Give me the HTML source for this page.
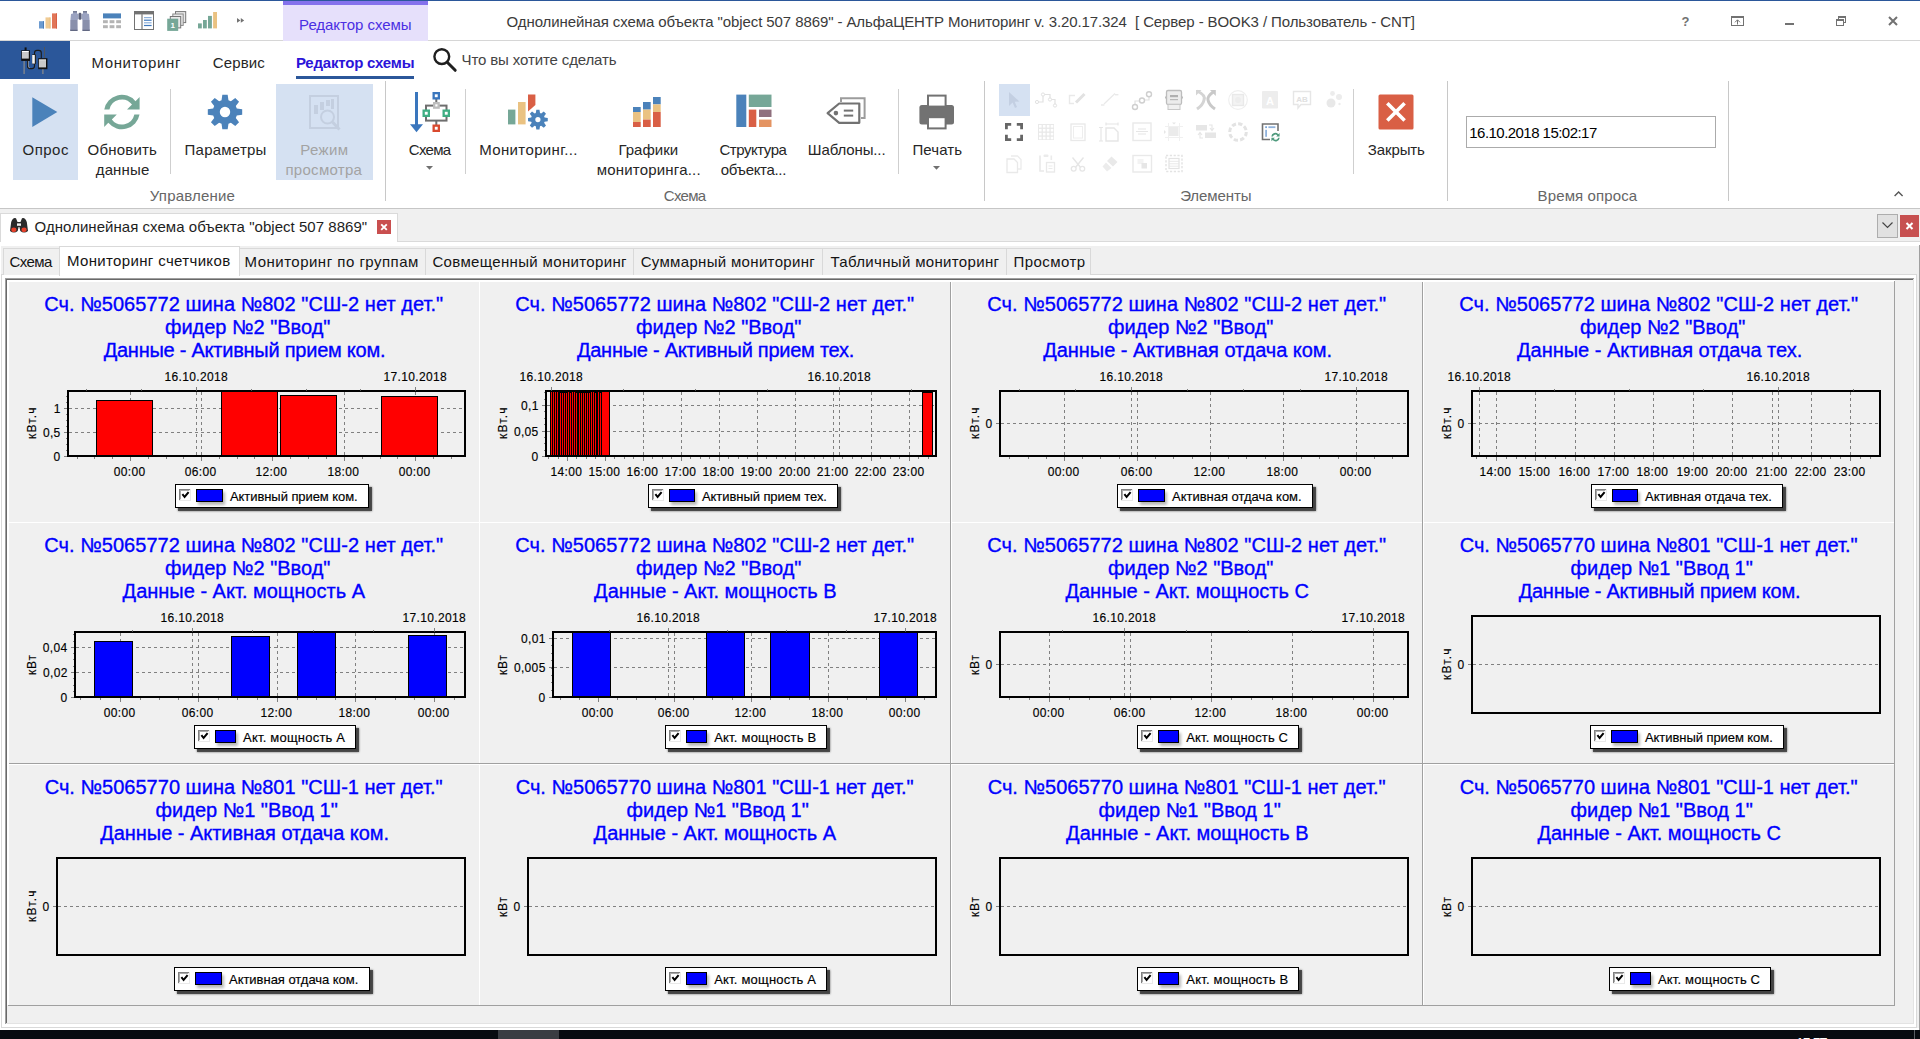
<!DOCTYPE html>
<html lang="ru"><head><meta charset="utf-8"><title>АльфаЦЕНТР Мониторинг</title><style>
html,body{margin:0;padding:0}
body{width:1920px;height:1039px;overflow:hidden;position:relative;background:#fff;font-family:"Liberation Sans",sans-serif}
.r{position:absolute;display:block;box-sizing:content-box}
.t{position:absolute;white-space:nowrap;display:block;margin:0;padding:0}
.chart{overflow:hidden}
.h{-webkit-text-stroke:0.35px #00f}
.a{-webkit-text-stroke:0.15px #000}
</style></head>
<body>
<div class="r" id="titlebar" style="left:0;top:0;width:1920px;height:41px;background:#fff">
</div>
<div class="r" style="left:0px;top:0px;width:1920px;height:1px;background:#2b579a;"></div>
<div class="r" style="left:0px;top:40px;width:1920px;height:1px;background:#d6d6d6;"></div>
<div class="r" style="left:283px;top:1px;width:145px;height:40px;background:#e6e0fb;"></div>
<div class="r" style="left:283px;top:1px;width:145px;height:4px;background:#8471ec;"></div>
<span class="t" style="left:299.10px;top:14px;font-size:15px;line-height:21px;color:#4b2fe3;letter-spacing:-0.044px;">Редактор схемы</span>
<span class="t" style="left:506.62px;top:11px;font-size:15px;line-height:21px;color:#3b3b3b;letter-spacing:-0.095px;white-space:pre;">Однолинейная схема объекта "object 507 8869" - АльфаЦЕНТР Мониторинг v. 3.20.17.324  [ Сервер - BOOK3 / Пользователь - CNT]</span>
<div class="r" style="left:0px;top:41px;width:70px;height:38px;background:#2b579a;"></div>
<span class="t" style="left:91.40px;top:52px;font-size:15px;line-height:21px;color:#262626;letter-spacing:0.644px;">Мониторинг</span>
<span class="t" style="left:212.85px;top:52px;font-size:15px;line-height:21px;color:#262626;letter-spacing:0.090px;">Сервис</span>
<span class="t" style="left:295.92px;top:52px;font-size:15px;line-height:21px;color:#2b14d9;letter-spacing:-0.198px;font-weight:700;">Редактор схемы</span>
<div class="r" style="left:296px;top:76px;width:118px;height:3px;background:#2b579a;"></div>
<span class="t" style="left:461.57px;top:49px;font-size:15px;line-height:21px;color:#444;letter-spacing:-0.124px;">Что вы хотите сделать</span>
<div class="r" style="left:0px;top:208px;width:1920px;height:1px;background:#c6c6c6;"></div>
<div class="r" style="left:0px;top:209px;width:1920px;height:830px;background:#f0f0f0;"></div>
<div class="r" style="left:13px;top:84px;width:65px;height:96px;background:#d5e1f2;"></div>
<div class="r" style="left:276px;top:84px;width:97px;height:96px;background:#d5e1f2;"></div>
<div class="r" style="left:999px;top:84px;width:31px;height:32px;background:#d5e1f2;"></div>
<div class="r" style="left:170px;top:89px;width:1px;height:85px;background:#cfcfcf;"></div>
<div class="r" style="left:465px;top:89px;width:1px;height:85px;background:#cfcfcf;"></div>
<div class="r" style="left:898px;top:89px;width:1px;height:85px;background:#cfcfcf;"></div>
<div class="r" style="left:1353px;top:89px;width:1px;height:85px;background:#cfcfcf;"></div>
<div class="r" style="left:385px;top:81px;width:1px;height:120px;background:#c8c8c8;"></div>
<div class="r" style="left:984px;top:81px;width:1px;height:120px;background:#c8c8c8;"></div>
<div class="r" style="left:1447px;top:81px;width:1px;height:120px;background:#c8c8c8;"></div>
<div class="r" style="left:1728px;top:81px;width:1px;height:120px;background:#c8c8c8;"></div>
<span class="t" style="left:22.62px;top:139px;font-size:15px;line-height:21px;color:#262626;letter-spacing:0.450px;">Опрос</span>
<span class="t" style="left:87.62px;top:139px;font-size:15px;line-height:21px;color:#262626;letter-spacing:0.186px;">Обновить</span>
<span class="t" style="left:95.72px;top:159px;font-size:15px;line-height:21px;color:#262626;letter-spacing:0.155px;">данные</span>
<span class="t" style="left:184.60px;top:139px;font-size:15px;line-height:21px;color:#262626;letter-spacing:0.225px;">Параметры</span>
<span class="t" style="left:300.20px;top:139px;font-size:15px;line-height:21px;color:#a3a3a3;letter-spacing:0.394px;">Режим</span>
<span class="t" style="left:285.42px;top:159px;font-size:15px;line-height:21px;color:#a3a3a3;letter-spacing:0.291px;">просмотра</span>
<span class="t" style="left:408.85px;top:139px;font-size:15px;line-height:21px;color:#262626;letter-spacing:-0.719px;">Схема</span>
<span class="t" style="left:479.20px;top:139px;font-size:15px;line-height:21px;color:#262626;letter-spacing:0.371px;">Мониторинг...</span>
<span class="t" style="left:618.40px;top:139px;font-size:15px;line-height:21px;color:#262626;letter-spacing:0.038px;">Графики</span>
<span class="t" style="left:596.73px;top:159px;font-size:15px;line-height:21px;color:#262626;letter-spacing:0.194px;">мониторинга...</span>
<span class="t" style="left:719.45px;top:139px;font-size:15px;line-height:21px;color:#262626;letter-spacing:-0.463px;">Структура</span>
<span class="t" style="left:720.80px;top:159px;font-size:15px;line-height:21px;color:#262626;letter-spacing:-0.325px;">объекта...</span>
<span class="t" style="left:807.80px;top:139px;font-size:15px;line-height:21px;color:#262626;letter-spacing:-0.117px;">Шаблоны...</span>
<span class="t" style="left:912.50px;top:139px;font-size:15px;line-height:21px;color:#262626;letter-spacing:0.075px;">Печать</span>
<span class="t" style="left:1367.75px;top:139px;font-size:15px;line-height:21px;color:#262626;letter-spacing:-0.100px;">Закрыть</span>
<span class="t" style="left:149.82px;top:185px;font-size:15px;line-height:21px;color:#666;letter-spacing:0.186px;">Управление</span>
<span class="t" style="left:663.85px;top:185px;font-size:15px;line-height:21px;color:#666;letter-spacing:-0.719px;">Схема</span>
<span class="t" style="left:1180.15px;top:185px;font-size:15px;line-height:21px;color:#666;letter-spacing:-0.071px;">Элементы</span>
<span class="t" style="left:1537.60px;top:185px;font-size:15px;line-height:21px;color:#666;letter-spacing:0.116px;">Время опроса</span>
<div class="r" style="left:1466px;top:116px;width:248px;height:30px;border:1px solid #ababab;background:#fff"></div>
<span class="t" style="left:1469.28px;top:122px;font-size:15px;line-height:21px;color:#000;letter-spacing:-0.535px;">16.10.2018 15:02:17</span>
<div class="r" style="left:0px;top:213px;width:398px;height:1px;background:#dadada;"></div>
<div class="r" style="left:1px;top:214px;width:396px;height:28px;background:#fff;"></div>
<div class="r" style="left:0px;top:214px;width:1px;height:28px;background:#dadada;"></div>
<div class="r" style="left:397px;top:214px;width:1px;height:28px;background:#dadada;"></div>
<div class="r" style="left:398px;top:241px;width:1522px;height:1px;background:#dadada;"></div>
<div class="r" style="left:0px;top:242px;width:1920px;height:4px;background:#fff;"></div>
<span class="t" style="left:34.62px;top:216px;font-size:15px;line-height:21px;color:#1e1e1e;letter-spacing:0.037px;">Однолинейная схема объекта "object 507 8869"</span>
<div class="r" style="left:377px;top:220px;width:14px;height:14px;background:#c94f4f;"></div>
<svg class="r" style="left:377px;top:220px;" width="14" height="14" viewBox="377 220 14 14"><path d="M381.2 224.3 L386.8 229.9 M386.8 224.3 L381.2 229.9" stroke="#fff" stroke-width="1.9" fill="none"/></svg>
<div class="r" style="left:1877px;top:214px;width:19px;height:22px;border:1px solid #adadad;background:#e1e1e1"></div>
<svg class="r" style="left:1877px;top:214px;" width="21" height="24" viewBox="1877 214 21 24"><path d="M1882.5 222.5 L1887.5 227.5 L1892.5 222.5" stroke="#444" stroke-width="1.2" fill="none"/></svg>
<div class="r" style="left:1900px;top:215px;width:19px;height:22px;background:#c75050;"></div>
<svg class="r" style="left:1900px;top:215px;" width="19" height="22" viewBox="1900 215 19 22"><path d="M1906.5 223 L1912.5 229 M1912.5 223 L1906.5 229" stroke="#fff" stroke-width="2" fill="none"/></svg>
<div class="r" style="left:1919px;top:245px;width:1px;height:785px;background:#a0a0a0;"></div>
<div class="r" style="left:1px;top:274px;width:1916px;height:1px;background:#d9d9d9;"></div>
<div class="r" style="left:1px;top:274px;width:1px;height:754px;background:#d9d9d9;"></div>
<div class="r" style="left:1916px;top:274px;width:1px;height:754px;background:#d9d9d9;"></div>
<div class="r" style="left:1px;top:1027px;width:1916px;height:1px;background:#d9d9d9;"></div>
<div class="r" style="left:2px;top:275px;width:1914px;height:752px;background:#fff;"></div>
<div class="r" style="left:0px;top:246px;width:1px;height:784px;background:#fff;"></div>
<div class="r" style="left:0px;top:1028px;width:1919px;height:2px;background:#fff;"></div>
<div class="r" style="left:3px;top:248px;width:55px;height:26px;border:1px solid #d9d9d9;border-bottom:none;background:#f0f0f0"></div>
<span class="t" style="left:9.45px;top:251px;font-size:15px;line-height:21px;color:#141414;letter-spacing:-0.594px;">Схема</span>
<div class="r" style="left:239px;top:248px;width:185px;height:26px;border:1px solid #d9d9d9;border-bottom:none;background:#f0f0f0"></div>
<span class="t" style="left:244.50px;top:251px;font-size:15px;line-height:21px;color:#141414;letter-spacing:0.492px;">Мониторинг по группам</span>
<div class="r" style="left:425px;top:248px;width:207px;height:26px;border:1px solid #d9d9d9;border-bottom:none;background:#f0f0f0"></div>
<span class="t" style="left:432.45px;top:251px;font-size:15px;line-height:21px;color:#141414;letter-spacing:0.344px;">Совмещенный мониторинг</span>
<div class="r" style="left:633px;top:248px;width:188px;height:26px;border:1px solid #d9d9d9;border-bottom:none;background:#f0f0f0"></div>
<span class="t" style="left:640.65px;top:251px;font-size:15px;line-height:21px;color:#141414;letter-spacing:0.326px;">Суммарный мониторинг</span>
<div class="r" style="left:822px;top:248px;width:183px;height:26px;border:1px solid #d9d9d9;border-bottom:none;background:#f0f0f0"></div>
<span class="t" style="left:830.40px;top:251px;font-size:15px;line-height:21px;color:#141414;letter-spacing:0.343px;">Табличный мониторинг</span>
<div class="r" style="left:1006px;top:248px;width:83px;height:26px;border:1px solid #d9d9d9;border-bottom:none;background:#f0f0f0"></div>
<span class="t" style="left:1013.50px;top:251px;font-size:15px;line-height:21px;color:#141414;letter-spacing:0.432px;">Просмотр</span>
<div class="r" style="left:59px;top:246px;width:179px;height:29px;border:1px solid #d9d9d9;border-bottom:none;background:#fff"></div>
<span class="t" style="left:67.00px;top:250px;font-size:15px;line-height:21px;color:#141414;letter-spacing:0.350px;">Мониторинг счетчиков</span>
<div class="r" style="left:5px;top:278px;width:1910px;height:747px;background:#fff;"></div>
<div class="r" style="left:5px;top:278px;width:1909px;height:746px;background:#a0a0a0;"></div>
<div class="r" style="left:6px;top:279px;width:1908px;height:745px;background:#e3e3e3;"></div>
<div class="r" style="left:6px;top:279px;width:1907px;height:744px;background:#696969;"></div>
<div class="r" style="left:7px;top:280px;width:1906px;height:743px;background:#f0f0f0;"></div>
<div class="r" style="left:7px;top:280px;width:1888px;height:2px;background:#fff;"></div>
<div class="r" style="left:7px;top:280px;width:2px;height:725px;background:#fff;"></div>
<div class="r" style="left:479px;top:282px;width:1px;height:723px;background:#fff;"></div>
<div class="r" style="left:950px;top:282px;width:1px;height:723px;background:#a0a0a0;"></div>
<div class="r" style="left:951px;top:282px;width:1px;height:723px;background:#fff;"></div>
<div class="r" style="left:1422px;top:282px;width:1px;height:723px;background:#a0a0a0;"></div>
<div class="r" style="left:1423px;top:282px;width:1px;height:723px;background:#fff;"></div>
<div class="r" style="left:1894px;top:281px;width:1px;height:725px;background:#a0a0a0;"></div>
<div class="r" style="left:9px;top:522px;width:1885px;height:1px;background:#fff;"></div>
<div class="r" style="left:9px;top:763px;width:1885px;height:1px;background:#a0a0a0;"></div>
<div class="r" style="left:9px;top:764px;width:1885px;height:1px;background:#fff;"></div>
<div class="r" style="left:8px;top:1005px;width:1887px;height:1px;background:#a0a0a0;"></div>
<div class="r" style="left:950px;top:282px;width:1px;height:723px;background:#a0a0a0;"></div>
<div class="r" style="left:1422px;top:282px;width:1px;height:723px;background:#a0a0a0;"></div>
<div class="r" style="left:0px;top:1030px;width:1920px;height:9px;background:#080b10;"></div>
<div class="r" style="left:498px;top:1030px;width:61px;height:9px;background:#3a3d42;"></div>
<div class="r" style="left:1914px;top:1030px;width:1px;height:9px;background:#5a5e64;"></div>
<span class="t" style="left:1795.67px;top:1032px;font-size:15px;line-height:21px;color:#fff;letter-spacing:-1.375px;">15:57</span>
<svg class="r" style="left:30px;top:8px;" width="220" height="26" viewBox="30 8 220 26"><rect x="39" y="21.2" width="5" height="7.3" fill="#6c9bd0"/><rect x="45.5" y="17.4" width="5" height="11.1" fill="#f0cb93"/><rect x="52" y="13.4" width="5" height="15.1" fill="#e17658"/><rect x="43" y="21.2" width="1" height="7.3" fill="#4a7ebb"/><rect x="49.5" y="17.4" width="1" height="11.1" fill="#eac282"/><rect x="56" y="13.4" width="1" height="15.1" fill="#d95f45"/><path d="M70.5 19 L71 14 L73 13.4 L73 11.4 L77 11.4 L77 13.4 L78.5 14 L78.5 19 L77.3 20 L77.5 31 L70.3 31 Z" fill="#9aa2c0"/><path d="M89.5 19 L89 14 L87 13.4 L87 11.4 L83 11.4 L83 13.4 L81.5 14 L81.5 19 L82.7 20 L82.5 31 L89.7 31 Z" fill="#9aa2c0"/><rect x="78.6" y="12.8" width="2.8" height="7" rx="1.2" fill="#5b6078"/><rect x="70.3" y="29.4" width="7.2" height="1.6" fill="#636983"/><rect x="82.5" y="29.4" width="7.2" height="1.6" fill="#636983"/><rect x="73" y="11.2" width="4" height="1.2" fill="#636983"/><rect x="83" y="11.2" width="4" height="1.2" fill="#636983"/><rect x="70.6" y="20" width="6.8" height="9.4" fill="#8990ac"/><rect x="82.6" y="20" width="6.8" height="9.4" fill="#8990ac"/><rect x="103" y="13.4" width="18" height="5" fill="#4b82ba"/><rect x="103" y="20.2" width="4.8" height="3" fill="#b4b4b4"/><rect x="103" y="25.2" width="4.8" height="3" fill="#b4b4b4"/><rect x="109.6" y="20.2" width="4.8" height="3" fill="#b4b4b4"/><rect x="109.6" y="25.2" width="4.8" height="3" fill="#b4b4b4"/><rect x="116.2" y="20.2" width="4.8" height="3" fill="#b4b4b4"/><rect x="116.2" y="25.2" width="4.8" height="3" fill="#b4b4b4"/><rect x="134.5" y="11.5" width="19" height="18" fill="#fff" stroke="#727272" stroke-width="1"/><rect x="134" y="11" width="20" height="3.4" fill="#727272"/><rect x="141.3" y="14" width="1.4" height="15" fill="#8a8a8a"/><rect x="144" y="17" width="7.6" height="1.2" fill="#8fb2dc"/><rect x="144" y="19.6" width="7.6" height="1.2" fill="#3f78bd"/><rect x="144" y="22.2" width="7.6" height="1.2" fill="#8fb2dc"/><rect x="144" y="24.9" width="7.6" height="1.2" fill="#3f78bd"/><rect x="175.5" y="11.6" width="10.2" height="11" fill="#e9e9e9" stroke="#767676" stroke-width="1"/><rect x="172.8" y="14" width="10.4" height="11.4" fill="#e9e9e9" stroke="#8a8a8a" stroke-width="1"/><rect x="170.3" y="16.5" width="10.4" height="11.4" fill="#e9e9e9" stroke="#767676" stroke-width="1"/><rect x="167.2" y="18.7" width="11" height="12.2" fill="#76a797"/><text x="172.7" y="28" font-family="Liberation Sans,sans-serif" font-size="8" font-weight="700" fill="#fff" text-anchor="middle">1</text><rect x="198" y="23.4" width="3.8" height="5" fill="#76a797"/><rect x="203" y="20" width="3.8" height="8.4" fill="#76a797"/><rect x="208" y="15.9" width="3.9" height="12.5" fill="#76a797"/><rect x="213.1" y="12" width="3.9" height="16.4" fill="#eac282"/><path d="M237 18 L240.4 20.4 L237 22.8Z M240.8 18 L244.2 20.4 L240.8 22.8Z" fill="#727272"/></svg>
<svg class="r" style="left:18px;top:44px;" width="34" height="32" viewBox="18 44 34 32"><path d="M27.5 61 L27.5 66 Q27.5 68.6 30 68.6 L32 68.6 Q34.5 68.6 34.5 66 L34.5 53 Q34.5 50.4 37 50.4 L38.8 50.4 Q41.3 50.4 41.3 53 L41.3 58" fill="none" stroke="#1a1a1a" stroke-width="1.1"/><path d="M28.4 61 L28.4 66 Q28.4 67.8 30 67.8" fill="none" stroke="#9a9a9a" stroke-width="0.8"/><rect x="23.5" y="61" width="1.2" height="13" fill="#8c8c8c"/><rect x="42.3" y="69" width="1.2" height="5" fill="#8c8c8c"/><rect x="44" y="47" width="0.9" height="11.5" fill="#555"/><rect x="24.6" y="47.4" width="2" height="3" fill="#111"/><rect x="21.2" y="50.3" width="8.8" height="10.6" fill="#111"/><rect x="21.9" y="51.6" width="6.9" height="7" fill="#c9c9c9"/><rect x="21.9" y="51" width="6.9" height="1" fill="#fff"/><rect x="32" y="54.2" width="4" height="10" rx="1" fill="#222"/><rect x="32.2" y="55" width="2.6" height="8.6" fill="#f4f4f4"/><rect x="38.2" y="58.2" width="9.2" height="11" fill="#111"/><rect x="38.9" y="59.8" width="7.1" height="7.6" fill="#c9c9c9"/><rect x="38.9" y="59.4" width="7.1" height="0.9" fill="#eee"/></svg>
<svg class="r" style="left:430px;top:45px;" width="30" height="30" viewBox="430 45 30 30"><circle cx="441.8" cy="56.6" r="7.4" fill="none" stroke="#1f1f1f" stroke-width="2.4"/><path d="M447.2 62.2 L455.2 70.3" stroke="#1f1f1f" stroke-width="3" stroke-linecap="round"/></svg>
<svg class="r" style="left:1675px;top:10px;" width="235" height="22" viewBox="1675 10 235 22"><text x="1685.5" y="26" font-family="Liberation Sans,sans-serif" font-size="13" font-weight="700" fill="#727272" text-anchor="middle">?</text><rect x="1731.5" y="16.5" width="12" height="9" fill="none" stroke="#727272" stroke-width="1"/><rect x="1731" y="16" width="13" height="2" fill="#727272"/><path d="M1737.5 24.5 L1737.5 20 M1735 22.3 L1737.5 19.8 L1740 22.3" stroke="#727272" stroke-width="1" fill="none"/><rect x="1785" y="23" width="9" height="2" fill="#727272"/><rect x="1838.5" y="16.5" width="7" height="6" fill="none" stroke="#727272" stroke-width="1"/><rect x="1838" y="16" width="8" height="2" fill="#727272"/><rect x="1836.5" y="19.5" width="7" height="6" fill="#fff" stroke="#727272" stroke-width="1"/><rect x="1836" y="19" width="8" height="2" fill="#727272"/><path d="M1889 17 L1897 25 M1897 17 L1889 25" stroke="#727272" stroke-width="2" fill="none"/></svg>
<svg class="r" style="left:1890px;top:186px;" width="18" height="14" viewBox="1890 186 18 14"><path d="M1894.6 196 L1898.6 192 L1902.6 196" stroke="#555" stroke-width="1.4" fill="none"/></svg>
<svg class="r" style="left:8px;top:215px;" width="24" height="22" viewBox="8 215 24 22"><path d="M10 231 L11.2 222 Q13 217 16 218.2 L17.5 222 L20.5 222 L22 218.2 Q25 217 26.8 222 L28 231 Q24 234 20.3 231 L19.4 227 L18.6 227 L17.7 231 Q14 234 10 231Z" fill="#2a2a2a"/><ellipse cx="13.9" cy="229.8" rx="2.6" ry="2.3" fill="#e8412a"/><ellipse cx="24.1" cy="229.8" rx="2.6" ry="2.3" fill="#e8412a"/><rect x="17" y="223.4" width="4" height="2.4" fill="#f2f2f2"/></svg>
<svg class="r" style="left:30px;top:95px;" width="30" height="34" viewBox="30 95 30 34"><path d="M32.3 97.3 L57.3 112.1 L32.3 127Z" fill="#4b82ba"/></svg>
<svg class="r" style="left:96px;top:88px;" width="52" height="48" viewBox="96 88 52 48"><g transform="translate(96 88)" fill="#76a797"><path d="M8.28 21.5 A17.8 17.8 0 0 1 39.5 13.2 L43.6 9 L43.6 21.5 L31 21.5 L36 16.6 A12.7 12.7 0 0 0 13.45 21.5Z"/><path d="M8.28 21.5 A17.8 17.8 0 0 1 39.5 13.2 L43.6 9 L43.6 21.5 L31 21.5 L36 16.6 A12.7 12.7 0 0 0 13.45 21.5Z" transform="rotate(180 25.9 24)"/></g></svg>
<svg class="r" style="left:203px;top:92px;" width="44" height="40" viewBox="203 92 44 40"><path d="M221.54 100.20 L222.33 94.81 L227.67 94.81 L228.46 100.20 L230.90 101.21 L235.27 97.96 L239.04 101.73 L235.79 106.10 L236.80 108.54 L242.19 109.33 L242.19 114.67 L236.80 115.46 L235.79 117.90 L239.04 122.27 L235.27 126.04 L230.90 122.79 L228.46 123.80 L227.67 129.19 L222.33 129.19 L221.54 123.80 L219.10 122.79 L214.73 126.04 L210.96 122.27 L214.21 117.90 L213.20 115.46 L207.81 114.67 L207.81 109.33 L213.20 108.54 L214.21 106.10 L210.96 101.73 L214.73 97.96 L219.10 101.21Z M219.80 112.00 a5.20 5.20 0 1 0 10.40 0 a5.20 5.20 0 1 0 -10.40 0Z" fill="#4b82ba" fill-rule="evenodd"/></svg>
<svg class="r" style="left:306px;top:92px;" width="38" height="42" viewBox="306 92 38 42"><rect x="310" y="96" width="28" height="32" fill="none" stroke="#c4cfe0" stroke-width="2"/><rect x="314" y="105" width="4" height="9" fill="#c4cfe0"/><rect x="320" y="102" width="4" height="8" fill="#c4cfe0"/><rect x="326" y="100" width="4" height="6" fill="#c4cfe0"/><rect x="331" y="99" width="3" height="10" fill="#c4cfe0"/><circle cx="327.5" cy="117" r="6.5" fill="#d5e1f2" stroke="#c4cfe0" stroke-width="2"/><path d="M332.5 122 L339.5 129.5" stroke="#c4cfe0" stroke-width="3"/></svg>
<svg class="r" style="left:408px;top:90px;" width="44" height="44" viewBox="408 90 44 44"><rect x="415" y="92" width="3" height="33" fill="#3a76bd"/><path d="M410 124.2 L423 124.2 L416.5 132.2Z" fill="#3a76bd"/><rect x="426" y="105.6" width="20.5" height="15" fill="none" stroke="#6e6e6e" stroke-width="2"/><rect x="435.3" y="121" width="2" height="4" fill="#6e6e6e"/><rect x="435.3" y="99" width="2" height="4" fill="#6e6e6e"/><rect x="432.5" y="92" width="7.5" height="7.5" fill="#3a76bd"/><rect x="434.8" y="94.3" width="2.9000000000000004" height="2.9000000000000004" fill="#fff"/><rect x="433" y="102" width="6.8" height="6.8" fill="#bdbdbd"/><rect x="435.3" y="104.3" width="2.2" height="2.2" fill="#fff"/><rect x="422.5" y="109.5" width="7.5" height="7.5" fill="#3fae83"/><rect x="424.8" y="111.8" width="2.9000000000000004" height="2.9000000000000004" fill="#fff"/><rect x="442.5" y="109.5" width="7.5" height="7.5" fill="#3fae83"/><rect x="444.8" y="111.8" width="2.9000000000000004" height="2.9000000000000004" fill="#fff"/><rect x="432.5" y="124.5" width="7.5" height="7.5" fill="#d9492e"/><rect x="434.8" y="126.8" width="2.9000000000000004" height="2.9000000000000004" fill="#fff"/></svg>
<svg class="r" style="left:504px;top:92px;" width="48" height="40" viewBox="504 92 48 40"><rect x="508" y="109.6" width="7.4" height="14.8" fill="#76a797"/><rect x="518" y="102" width="7.6" height="22.4" fill="#eac282"/><path d="M528 94.6 L535.4 94.6 L535.4 105 L528 111.5Z" fill="#d95f45"/><path d="M535.80 112.92 L536.32 109.73 L539.48 109.73 L540.00 112.92 L541.14 113.39 L543.77 111.50 L546.00 113.73 L544.11 116.36 L544.58 117.50 L547.77 118.02 L547.77 121.18 L544.58 121.70 L544.11 122.84 L546.00 125.47 L543.77 127.70 L541.14 125.81 L540.00 126.28 L539.48 129.47 L536.32 129.47 L535.80 126.28 L534.66 125.81 L532.03 127.70 L529.80 125.47 L531.69 122.84 L531.22 121.70 L528.03 121.18 L528.03 118.02 L531.22 117.50 L531.69 116.36 L529.80 113.73 L532.03 111.50 L534.66 113.39Z M535.30 119.60 a2.60 2.60 0 1 0 5.20 0 a2.60 2.60 0 1 0 -5.20 0Z" fill="#4b82ba" fill-rule="evenodd"/></svg>
<svg class="r" style="left:630px;top:94px;" width="34" height="36" viewBox="630 94 34 36"><rect x="633" y="107" width="7.7" height="5" fill="#4b82ba"/><rect x="633" y="112" width="7.7" height="10" fill="#eac282"/><rect x="633" y="122" width="7.7" height="5" fill="#d95f45"/><rect x="643" y="102" width="7.7" height="7.599999999999994" fill="#4b82ba"/><rect x="643" y="109.6" width="7.7" height="10.0" fill="#eac282"/><rect x="643" y="119.6" width="7.7" height="7.400000000000006" fill="#d95f45"/><rect x="653" y="97" width="7.7" height="7.400000000000006" fill="#4b82ba"/><rect x="653" y="104.4" width="7.7" height="7.599999999999994" fill="#eac282"/><rect x="653" y="112" width="7.7" height="15" fill="#d95f45"/></svg>
<svg class="r" style="left:734px;top:92px;" width="40" height="38" viewBox="734 92 40 38"><rect x="736.3" y="94.6" width="10" height="32.4" fill="#4b82ba"/><rect x="748.8" y="94.6" width="22.7" height="12.4" fill="#76a797"/><rect x="748.8" y="109.6" width="7.5" height="17.4" fill="#d95f45"/><rect x="759" y="109.6" width="12.5" height="7.4" fill="#8f707e"/><rect x="759" y="119.6" width="12.5" height="7.4" fill="#e49462"/></svg>
<svg class="r" style="left:824px;top:95px;" width="44" height="32" viewBox="824 95 44 32"><path d="M841 102 L841 98.3 L864.6 98.3 L864.6 118 L861 118" fill="none" stroke="#9c9c9c" stroke-width="2"/><path d="M827.6 113.1 L839.2 103.5 L859.3 103.5 L859.3 122.8 L839.2 122.8Z" fill="#fff" stroke="#727272" stroke-width="2.2" stroke-linejoin="round"/><circle cx="835.9" cy="113.1" r="2.3" fill="#727272"/><rect x="843.8" y="109.6" width="9.4" height="2" fill="#727272"/><rect x="843.8" y="114.6" width="9.4" height="2" fill="#727272"/></svg>
<svg class="r" style="left:917px;top:93px;" width="40" height="38" viewBox="917 93 40 38"><rect x="919.4" y="105" width="34.6" height="19.4" rx="2.5" fill="#727272"/><rect x="928" y="95.6" width="17.6" height="11" fill="#fff" stroke="#727272" stroke-width="2"/><rect x="928" y="117.2" width="17.6" height="11.2" fill="#fff" stroke="#727272" stroke-width="2"/></svg>
<svg class="r" style="left:424px;top:164px;" width="12" height="8" viewBox="424 164 12 8"><path d="M426 166 L433 166 L429.5 169.8Z" fill="#707070"/></svg>
<svg class="r" style="left:931px;top:164px;" width="12" height="8" viewBox="931 164 12 8"><path d="M933 166 L940 166 L936.5 169.8Z" fill="#707070"/></svg>
<svg class="r" style="left:1376px;top:92px;" width="40" height="40" viewBox="1376 92 40 40"><rect x="1378.5" y="94.4" width="35" height="35" rx="1.5" fill="#d95f45"/><path d="M1387.3 103.2 L1404.6 120.6 M1404.6 103.2 L1387.3 120.6" stroke="#fff" stroke-width="3.6" fill="none"/></svg>
<svg class="r" style="left:998px;top:84px;" width="350" height="96" viewBox="998 84 350 96"><path d="M1009 92 L1009 106 L1012.6 102.6 L1015 108 L1017 107 L1014.7 101.8 L1019.4 101.4Z" fill="#c3cfe2"/><path d="M1037 102 L1043 102 L1043 94.5 L1050 94.5 L1050 99.5 L1055 99.5 L1055 105" fill="none" stroke="#e2e2e2" stroke-width="1.2"/><circle cx="1037" cy="102" r="1.6" fill="#fff" stroke="#e2e2e2"/><circle cx="1043" cy="94.5" r="1.6" fill="#fff" stroke="#e2e2e2"/><circle cx="1050" cy="99.5" r="1.6" fill="#fff" stroke="#e2e2e2"/><circle cx="1055" cy="105.5" r="1.6" fill="#fff" stroke="#e2e2e2"/><path d="M1075 95.5 L1069.5 95.5 L1069.5 103.5 L1074 103.5" fill="none" stroke="#e9e9e9" stroke-width="1.4"/><path d="M1076 102.5 L1084.5 94" stroke="#e2e2e2" stroke-width="3"/><path d="M1104 104 L1115 93.5" stroke="#e9e9e9" stroke-width="1.2"/><rect x="1101" y="104.3" width="3.4" height="1.4" fill="#e9e9e9"/><rect x="1115" y="94" width="3.4" height="1.4" fill="#e9e9e9"/><path d="M1135 107 L1135 101 L1142 101 M1149 94 L1149 100 L1142 100" fill="none" stroke="#e2e2e2" stroke-width="1.2"/><circle cx="1135" cy="107" r="2.5" fill="#fff" stroke="#cfcfcf" stroke-width="1.4"/><circle cx="1142" cy="100.5" r="2.5" fill="#fff" stroke="#cfcfcf" stroke-width="1.4"/><circle cx="1149" cy="94.3" r="2.5" fill="#fff" stroke="#cfcfcf" stroke-width="1.4"/><rect x="1166.5" y="90.5" width="15" height="14" rx="1.5" fill="#ececec" stroke="#bdbdbd" stroke-width="1.3"/><rect x="1168" y="104.5" width="12" height="5" fill="#f0f0f0" stroke="#c8c8c8" stroke-width="1"/><rect x="1170" y="95" width="8" height="2.2" fill="#b0b0b0"/><rect x="1170" y="99" width="8" height="1.2" fill="#b8b8b8"/><rect x="1165" y="96.5" width="1.5" height="2" fill="#bdbdbd"/><rect x="1181.5" y="96.5" width="1.5" height="2" fill="#bdbdbd"/><path d="M1197 91 Q1206 95 1204 100 Q1203 105 1197 109" fill="none" stroke="#d4d4d4" stroke-width="3"/><path d="M1214 91.5 Q1207 96 1208 100 Q1209 105 1215 109" fill="none" stroke="#c9c9c9" stroke-width="3"/><path d="M1210 90 L1215.8 90 L1215.8 96Z" fill="#c9c9c9"/><path d="M1196 90 L1201.5 90 L1196 95.5Z" fill="#d4d4d4"/><circle cx="1238" cy="100" r="9.3" fill="none" stroke="#efefef" stroke-width="1.2"/><rect x="1232.5" y="94.5" width="11" height="11" fill="#f3f3f3" stroke="#e9e9e9" stroke-width="1.4"/><circle cx="1238" cy="100" r="3" fill="#ededed"/><rect x="1262" y="91" width="16" height="17.5" rx="1" fill="#ededed"/><text x="1270" y="105" font-family="Liberation Sans,sans-serif" font-size="11" font-weight="700" fill="#fff" text-anchor="middle">A</text><path d="M1293.5 91.5 L1310.5 91.5 L1310.5 104.5 L1301 104.5 L1298 108 L1298 104.5 L1293.5 104.5Z" fill="#fff" stroke="#e6e6e6" stroke-width="1.4"/><text x="1302" y="101.5" font-family="Liberation Sans,sans-serif" font-size="8" font-weight="700" fill="#e0e0e0" text-anchor="middle">AB</text><circle cx="1331" cy="103" r="4.5" fill="#e8e8e8"/><circle cx="1339" cy="97" r="3" fill="#ececec"/><circle cx="1332.5" cy="93.5" r="2.4" fill="#ececec"/><circle cx="1339.5" cy="104" r="1.2" fill="#ececec"/><path d="M1006.4 129.2 L1006.4 124.4 L1011.2 124.4 M1016.8 124.4 L1021.6 124.4 L1021.6 129.2 M1021.6 134.8 L1021.6 139.6 L1016.8 139.6 M1011.2 139.6 L1006.4 139.6 L1006.4 134.8" fill="none" stroke="#666" stroke-width="2.8"/><rect x="1038" y="124" width="16" height="16" fill="#e9e9e9"/><rect x="1039.0" y="125.0" width="2.6" height="2.6" fill="#fff"/><rect x="1039.0" y="128.9" width="2.6" height="2.6" fill="#fff"/><rect x="1039.0" y="132.8" width="2.6" height="2.6" fill="#fff"/><rect x="1039.0" y="136.7" width="2.6" height="2.6" fill="#fff"/><rect x="1042.9" y="125.0" width="2.6" height="2.6" fill="#fff"/><rect x="1042.9" y="128.9" width="2.6" height="2.6" fill="#fff"/><rect x="1042.9" y="132.8" width="2.6" height="2.6" fill="#fff"/><rect x="1042.9" y="136.7" width="2.6" height="2.6" fill="#fff"/><rect x="1046.8" y="125.0" width="2.6" height="2.6" fill="#fff"/><rect x="1046.8" y="128.9" width="2.6" height="2.6" fill="#fff"/><rect x="1046.8" y="132.8" width="2.6" height="2.6" fill="#fff"/><rect x="1046.8" y="136.7" width="2.6" height="2.6" fill="#fff"/><rect x="1050.7" y="125.0" width="2.6" height="2.6" fill="#fff"/><rect x="1050.7" y="128.9" width="2.6" height="2.6" fill="#fff"/><rect x="1050.7" y="132.8" width="2.6" height="2.6" fill="#fff"/><rect x="1050.7" y="136.7" width="2.6" height="2.6" fill="#fff"/><rect x="1071" y="124" width="14" height="16.5" fill="none" stroke="#e9e9e9" stroke-width="1.3"/><rect x="1073.5" y="126.5" width="9" height="11.5" fill="none" stroke="#eeeeee" stroke-width="1"/><path d="M1106 128 L1114 128 L1118 132 L1118 141 L1106 141Z" fill="none" stroke="#e6e6e6" stroke-width="1.4"/><path d="M1101 127.5 L1101 141 M1099 127.5 L1103 127.5 M1099 141 L1103 141 M1106 124 L1118 124 M1106 122.5 L1106 125.5 M1118 122.5 L1118 125.5" stroke="#e6e6e6" stroke-width="1.2" fill="none"/><rect x="1133" y="123" width="18" height="17.5" fill="none" stroke="#e9e9e9" stroke-width="1.4"/><path d="M1138 129 L1146 129 M1136 131.5 L1148 131.5 M1138 134 L1146 134" stroke="#e6e6e6" stroke-width="1.1"/><rect x="1169" y="126.5" width="9.5" height="9.5" fill="#ebebeb"/><path d="M1165 126.5 L1183 126.5 M1165 137.5 L1183 137.5 M1168.5 123 L1168.5 141 M1179.5 123 L1179.5 141" stroke="#f0f0f0" stroke-width="1"/><path d="M1164 130 L1166 132 L1164 134Z M1172 122.5 L1176 122.5 L1174 124.5Z" fill="#e6e6e6"/><rect x="1196" y="125" width="11" height="5.5" fill="#e6e6e6"/><rect x="1205" y="132.5" width="11" height="5.5" fill="#e6e6e6"/><path d="M1209 125 L1212 125 L1212 129.5 M1210 128 L1212 130.5 L1214 128 M1203 138 L1200 138 L1200 133.5 M1198 135 L1200 132.5 L1202 135" fill="none" stroke="#e6e6e6" stroke-width="1.1"/><circle cx="1238" cy="132" r="8.3" fill="none" stroke="#e3e3e3" stroke-width="3" stroke-dasharray="4.3 2.2"/><path d="M1278 131 L1278 124 L1262.5 124 L1262.5 139.5 L1270 139.5" fill="none" stroke="#727272" stroke-width="1.6"/><rect x="1265.2" y="126.3" width="1.8" height="1.8" fill="#7aa5d8"/><rect x="1268.4" y="126.3" width="7" height="1.8" fill="#8fb2dc"/><rect x="1265.2" y="129.8" width="1.8" height="7" fill="#8fb2dc"/><path d="M1271.3 136.5 A4 4 0 0 1 1278.3 134.2 L1279.6 133 L1279.6 136.6 L1276.2 136.6 L1277.3 135.4 A2.7 2.7 0 0 0 1272.8 136.5Z" fill="#4f9a7d"/><path d="M1279.7 137.8 A4 4 0 0 1 1272.7 140.1 L1271.4 141.3 L1271.4 137.7 L1274.8 137.7 L1273.7 138.9 A2.7 2.7 0 0 0 1278.2 137.8Z" fill="#4f9a7d"/><path d="M1011 156 L1017.5 156 L1021 159.5 L1021 169 L1018 169" fill="none" stroke="#ececec" stroke-width="1.3"/><path d="M1007 159 L1014 159 L1017.5 162.5 L1017.5 172.5 L1007 172.5Z" fill="#fff" stroke="#e9e9e9" stroke-width="1.3"/><path d="M1040 155.5 L1040 171 L1044 171" fill="none" stroke="#e9e9e9" stroke-width="1.6"/><rect x="1046.5" y="162.5" width="8" height="9.5" fill="#fff" stroke="#e9e9e9" stroke-width="1.3"/><rect x="1043.5" y="154.5" width="5" height="2.6" rx="1" fill="#ebebeb"/><rect x="1050.5" y="155.5" width="1.6" height="4.5" fill="#ebebeb"/><path d="M1048.5 166 L1052.5 166 M1048.5 168.5 L1052.5 168.5" stroke="#ebebeb" stroke-width="1"/><path d="M1072.5 157.5 L1081 168 M1083.5 157.5 L1075 168" stroke="#e6e6e6" stroke-width="1.4" fill="none"/><circle cx="1073.7" cy="168.7" r="2.4" fill="#fff" stroke="#e6e6e6" stroke-width="1.3"/><circle cx="1082.3" cy="168.7" r="2.4" fill="#fff" stroke="#e6e6e6" stroke-width="1.3"/><path d="M1111.5 156.5 L1117.5 162 L1113 166.5 L1107 161Z" fill="#e9e9e9"/><path d="M1106 162.5 L1111.5 168 L1107 171.5 L1102.5 166.5Z" fill="#ececec"/><rect x="1133" y="155.5" width="18.5" height="16.5" fill="none" stroke="#e9e9e9" stroke-width="1.4"/><rect x="1137.5" y="159" width="6" height="5" fill="#f3f3f3"/><rect x="1141.5" y="163" width="5.5" height="5.5" fill="#e6e6e6"/><rect x="1166" y="155.5" width="16" height="16" fill="none" stroke="#e3e3e3" stroke-width="1.4" stroke-dasharray="2.2 1.6"/><rect x="1169" y="158.5" width="10" height="10" fill="#fff" stroke="#e3e3e3" stroke-width="1.2"/><path d="M1169 161.3 L1179 161.3 M1169 163.8 L1179 163.8 M1169 166.2 L1179 166.2" stroke="#e6e6e6" stroke-width="0.9"/></svg>
<svg width="0" height="0" style="position:absolute"><defs><filter id="bl" x="-10%" y="-30%" width="120%" height="160%"><feGaussianBlur stdDeviation="1.1"/></filter><filter id="bl2" x="-20%" y="-40%" width="140%" height="180%"><feGaussianBlur stdDeviation="1.4"/></filter></defs></svg>
<div class="r chart" style="left:9px;top:282px;width:470px;height:240px">
<svg class="r" style="left:0;top:0" width="470" height="240" viewBox="9 282 470 240" shape-rendering="crispEdges"><rect x="69" y="408" width="3" height="1" fill="#808080"/><rect x="75" y="408" width="3" height="1" fill="#808080"/><rect x="81" y="408" width="3" height="1" fill="#808080"/><rect x="87" y="408" width="3" height="1" fill="#808080"/><rect x="93" y="408" width="3" height="1" fill="#808080"/><rect x="99" y="408" width="3" height="1" fill="#808080"/><rect x="105" y="408" width="3" height="1" fill="#808080"/><rect x="111" y="408" width="3" height="1" fill="#808080"/><rect x="117" y="408" width="3" height="1" fill="#808080"/><rect x="123" y="408" width="3" height="1" fill="#808080"/><rect x="129" y="408" width="3" height="1" fill="#808080"/><rect x="135" y="408" width="3" height="1" fill="#808080"/><rect x="141" y="408" width="3" height="1" fill="#808080"/><rect x="147" y="408" width="3" height="1" fill="#808080"/><rect x="153" y="408" width="3" height="1" fill="#808080"/><rect x="159" y="408" width="3" height="1" fill="#808080"/><rect x="165" y="408" width="3" height="1" fill="#808080"/><rect x="171" y="408" width="3" height="1" fill="#808080"/><rect x="177" y="408" width="3" height="1" fill="#808080"/><rect x="183" y="408" width="3" height="1" fill="#808080"/><rect x="189" y="408" width="3" height="1" fill="#808080"/><rect x="195" y="408" width="3" height="1" fill="#808080"/><rect x="201" y="408" width="3" height="1" fill="#808080"/><rect x="207" y="408" width="3" height="1" fill="#808080"/><rect x="213" y="408" width="3" height="1" fill="#808080"/><rect x="219" y="408" width="3" height="1" fill="#808080"/><rect x="225" y="408" width="3" height="1" fill="#808080"/><rect x="231" y="408" width="3" height="1" fill="#808080"/><rect x="237" y="408" width="3" height="1" fill="#808080"/><rect x="243" y="408" width="3" height="1" fill="#808080"/><rect x="249" y="408" width="3" height="1" fill="#808080"/><rect x="255" y="408" width="3" height="1" fill="#808080"/><rect x="261" y="408" width="3" height="1" fill="#808080"/><rect x="267" y="408" width="3" height="1" fill="#808080"/><rect x="273" y="408" width="3" height="1" fill="#808080"/><rect x="279" y="408" width="3" height="1" fill="#808080"/><rect x="285" y="408" width="3" height="1" fill="#808080"/><rect x="291" y="408" width="3" height="1" fill="#808080"/><rect x="297" y="408" width="3" height="1" fill="#808080"/><rect x="303" y="408" width="3" height="1" fill="#808080"/><rect x="309" y="408" width="3" height="1" fill="#808080"/><rect x="315" y="408" width="3" height="1" fill="#808080"/><rect x="321" y="408" width="3" height="1" fill="#808080"/><rect x="327" y="408" width="3" height="1" fill="#808080"/><rect x="333" y="408" width="3" height="1" fill="#808080"/><rect x="339" y="408" width="3" height="1" fill="#808080"/><rect x="345" y="408" width="3" height="1" fill="#808080"/><rect x="351" y="408" width="3" height="1" fill="#808080"/><rect x="357" y="408" width="3" height="1" fill="#808080"/><rect x="363" y="408" width="3" height="1" fill="#808080"/><rect x="369" y="408" width="3" height="1" fill="#808080"/><rect x="375" y="408" width="3" height="1" fill="#808080"/><rect x="381" y="408" width="3" height="1" fill="#808080"/><rect x="387" y="408" width="3" height="1" fill="#808080"/><rect x="393" y="408" width="3" height="1" fill="#808080"/><rect x="399" y="408" width="3" height="1" fill="#808080"/><rect x="405" y="408" width="3" height="1" fill="#808080"/><rect x="411" y="408" width="3" height="1" fill="#808080"/><rect x="417" y="408" width="3" height="1" fill="#808080"/><rect x="423" y="408" width="3" height="1" fill="#808080"/><rect x="429" y="408" width="3" height="1" fill="#808080"/><rect x="435" y="408" width="3" height="1" fill="#808080"/><rect x="441" y="408" width="3" height="1" fill="#808080"/><rect x="447" y="408" width="3" height="1" fill="#808080"/><rect x="453" y="408" width="3" height="1" fill="#808080"/><rect x="459" y="408" width="3" height="1" fill="#808080"/><rect x="69" y="432" width="3" height="1" fill="#808080"/><rect x="75" y="432" width="3" height="1" fill="#808080"/><rect x="81" y="432" width="3" height="1" fill="#808080"/><rect x="87" y="432" width="3" height="1" fill="#808080"/><rect x="93" y="432" width="3" height="1" fill="#808080"/><rect x="99" y="432" width="3" height="1" fill="#808080"/><rect x="105" y="432" width="3" height="1" fill="#808080"/><rect x="111" y="432" width="3" height="1" fill="#808080"/><rect x="117" y="432" width="3" height="1" fill="#808080"/><rect x="123" y="432" width="3" height="1" fill="#808080"/><rect x="129" y="432" width="3" height="1" fill="#808080"/><rect x="135" y="432" width="3" height="1" fill="#808080"/><rect x="141" y="432" width="3" height="1" fill="#808080"/><rect x="147" y="432" width="3" height="1" fill="#808080"/><rect x="153" y="432" width="3" height="1" fill="#808080"/><rect x="159" y="432" width="3" height="1" fill="#808080"/><rect x="165" y="432" width="3" height="1" fill="#808080"/><rect x="171" y="432" width="3" height="1" fill="#808080"/><rect x="177" y="432" width="3" height="1" fill="#808080"/><rect x="183" y="432" width="3" height="1" fill="#808080"/><rect x="189" y="432" width="3" height="1" fill="#808080"/><rect x="195" y="432" width="3" height="1" fill="#808080"/><rect x="201" y="432" width="3" height="1" fill="#808080"/><rect x="207" y="432" width="3" height="1" fill="#808080"/><rect x="213" y="432" width="3" height="1" fill="#808080"/><rect x="219" y="432" width="3" height="1" fill="#808080"/><rect x="225" y="432" width="3" height="1" fill="#808080"/><rect x="231" y="432" width="3" height="1" fill="#808080"/><rect x="237" y="432" width="3" height="1" fill="#808080"/><rect x="243" y="432" width="3" height="1" fill="#808080"/><rect x="249" y="432" width="3" height="1" fill="#808080"/><rect x="255" y="432" width="3" height="1" fill="#808080"/><rect x="261" y="432" width="3" height="1" fill="#808080"/><rect x="267" y="432" width="3" height="1" fill="#808080"/><rect x="273" y="432" width="3" height="1" fill="#808080"/><rect x="279" y="432" width="3" height="1" fill="#808080"/><rect x="285" y="432" width="3" height="1" fill="#808080"/><rect x="291" y="432" width="3" height="1" fill="#808080"/><rect x="297" y="432" width="3" height="1" fill="#808080"/><rect x="303" y="432" width="3" height="1" fill="#808080"/><rect x="309" y="432" width="3" height="1" fill="#808080"/><rect x="315" y="432" width="3" height="1" fill="#808080"/><rect x="321" y="432" width="3" height="1" fill="#808080"/><rect x="327" y="432" width="3" height="1" fill="#808080"/><rect x="333" y="432" width="3" height="1" fill="#808080"/><rect x="339" y="432" width="3" height="1" fill="#808080"/><rect x="345" y="432" width="3" height="1" fill="#808080"/><rect x="351" y="432" width="3" height="1" fill="#808080"/><rect x="357" y="432" width="3" height="1" fill="#808080"/><rect x="363" y="432" width="3" height="1" fill="#808080"/><rect x="369" y="432" width="3" height="1" fill="#808080"/><rect x="375" y="432" width="3" height="1" fill="#808080"/><rect x="381" y="432" width="3" height="1" fill="#808080"/><rect x="387" y="432" width="3" height="1" fill="#808080"/><rect x="393" y="432" width="3" height="1" fill="#808080"/><rect x="399" y="432" width="3" height="1" fill="#808080"/><rect x="405" y="432" width="3" height="1" fill="#808080"/><rect x="411" y="432" width="3" height="1" fill="#808080"/><rect x="417" y="432" width="3" height="1" fill="#808080"/><rect x="423" y="432" width="3" height="1" fill="#808080"/><rect x="429" y="432" width="3" height="1" fill="#808080"/><rect x="435" y="432" width="3" height="1" fill="#808080"/><rect x="441" y="432" width="3" height="1" fill="#808080"/><rect x="447" y="432" width="3" height="1" fill="#808080"/><rect x="453" y="432" width="3" height="1" fill="#808080"/><rect x="459" y="432" width="3" height="1" fill="#808080"/><rect x="130" y="392" width="1" height="3" fill="#808080"/><rect x="130" y="398" width="1" height="3" fill="#808080"/><rect x="130" y="404" width="1" height="3" fill="#808080"/><rect x="130" y="410" width="1" height="3" fill="#808080"/><rect x="130" y="416" width="1" height="3" fill="#808080"/><rect x="130" y="422" width="1" height="3" fill="#808080"/><rect x="130" y="428" width="1" height="3" fill="#808080"/><rect x="130" y="434" width="1" height="3" fill="#808080"/><rect x="130" y="440" width="1" height="3" fill="#808080"/><rect x="130" y="446" width="1" height="3" fill="#808080"/><rect x="130" y="452" width="1" height="3" fill="#808080"/><rect x="201" y="392" width="1" height="3" fill="#808080"/><rect x="201" y="398" width="1" height="3" fill="#808080"/><rect x="201" y="404" width="1" height="3" fill="#808080"/><rect x="201" y="410" width="1" height="3" fill="#808080"/><rect x="201" y="416" width="1" height="3" fill="#808080"/><rect x="201" y="422" width="1" height="3" fill="#808080"/><rect x="201" y="428" width="1" height="3" fill="#808080"/><rect x="201" y="434" width="1" height="3" fill="#808080"/><rect x="201" y="440" width="1" height="3" fill="#808080"/><rect x="201" y="446" width="1" height="3" fill="#808080"/><rect x="201" y="452" width="1" height="3" fill="#808080"/><rect x="272" y="392" width="1" height="3" fill="#808080"/><rect x="272" y="398" width="1" height="3" fill="#808080"/><rect x="272" y="404" width="1" height="3" fill="#808080"/><rect x="272" y="410" width="1" height="3" fill="#808080"/><rect x="272" y="416" width="1" height="3" fill="#808080"/><rect x="272" y="422" width="1" height="3" fill="#808080"/><rect x="272" y="428" width="1" height="3" fill="#808080"/><rect x="272" y="434" width="1" height="3" fill="#808080"/><rect x="272" y="440" width="1" height="3" fill="#808080"/><rect x="272" y="446" width="1" height="3" fill="#808080"/><rect x="272" y="452" width="1" height="3" fill="#808080"/><rect x="344" y="392" width="1" height="3" fill="#808080"/><rect x="344" y="398" width="1" height="3" fill="#808080"/><rect x="344" y="404" width="1" height="3" fill="#808080"/><rect x="344" y="410" width="1" height="3" fill="#808080"/><rect x="344" y="416" width="1" height="3" fill="#808080"/><rect x="344" y="422" width="1" height="3" fill="#808080"/><rect x="344" y="428" width="1" height="3" fill="#808080"/><rect x="344" y="434" width="1" height="3" fill="#808080"/><rect x="344" y="440" width="1" height="3" fill="#808080"/><rect x="344" y="446" width="1" height="3" fill="#808080"/><rect x="344" y="452" width="1" height="3" fill="#808080"/><rect x="415" y="392" width="1" height="3" fill="#808080"/><rect x="415" y="398" width="1" height="3" fill="#808080"/><rect x="415" y="404" width="1" height="3" fill="#808080"/><rect x="415" y="410" width="1" height="3" fill="#808080"/><rect x="415" y="416" width="1" height="3" fill="#808080"/><rect x="415" y="422" width="1" height="3" fill="#808080"/><rect x="415" y="428" width="1" height="3" fill="#808080"/><rect x="415" y="434" width="1" height="3" fill="#808080"/><rect x="415" y="440" width="1" height="3" fill="#808080"/><rect x="415" y="446" width="1" height="3" fill="#808080"/><rect x="415" y="452" width="1" height="3" fill="#808080"/><rect x="196" y="392" width="1" height="3" fill="#808080"/><rect x="196" y="398" width="1" height="3" fill="#808080"/><rect x="196" y="404" width="1" height="3" fill="#808080"/><rect x="196" y="410" width="1" height="3" fill="#808080"/><rect x="196" y="416" width="1" height="3" fill="#808080"/><rect x="196" y="422" width="1" height="3" fill="#808080"/><rect x="196" y="428" width="1" height="3" fill="#808080"/><rect x="196" y="434" width="1" height="3" fill="#808080"/><rect x="196" y="440" width="1" height="3" fill="#808080"/><rect x="196" y="446" width="1" height="3" fill="#808080"/><rect x="196" y="452" width="1" height="3" fill="#808080"/><rect x="415" y="392" width="1" height="3" fill="#808080"/><rect x="415" y="398" width="1" height="3" fill="#808080"/><rect x="415" y="404" width="1" height="3" fill="#808080"/><rect x="415" y="410" width="1" height="3" fill="#808080"/><rect x="415" y="416" width="1" height="3" fill="#808080"/><rect x="415" y="422" width="1" height="3" fill="#808080"/><rect x="415" y="428" width="1" height="3" fill="#808080"/><rect x="415" y="434" width="1" height="3" fill="#808080"/><rect x="415" y="440" width="1" height="3" fill="#808080"/><rect x="415" y="446" width="1" height="3" fill="#808080"/><rect x="415" y="452" width="1" height="3" fill="#808080"/><rect x="96" y="400" width="57" height="55" fill="#000"/><rect x="221" y="392" width="57" height="63" fill="#000"/><rect x="280" y="395" width="57" height="60" fill="#000"/><rect x="381" y="396" width="57" height="59" fill="#000"/><rect x="97" y="401" width="55" height="54" fill="#f00"/><rect x="222" y="392" width="55" height="63" fill="#f00"/><rect x="281" y="396" width="55" height="59" fill="#f00"/><rect x="382" y="397" width="55" height="58" fill="#f00"/><rect x="64" y="408" width="3" height="1" fill="#808080"/><rect x="64" y="432" width="3" height="1" fill="#808080"/><rect x="64" y="456" width="3" height="1" fill="#808080"/><rect x="66" y="396" width="1" height="1" fill="#808080"/><rect x="66" y="402" width="1" height="1" fill="#808080"/><rect x="66" y="414" width="1" height="1" fill="#808080"/><rect x="66" y="420" width="1" height="1" fill="#808080"/><rect x="66" y="426" width="1" height="1" fill="#808080"/><rect x="66" y="438" width="1" height="1" fill="#808080"/><rect x="66" y="444" width="1" height="1" fill="#808080"/><rect x="66" y="450" width="1" height="1" fill="#808080"/><rect x="130" y="457" width="1" height="4" fill="#808080"/><rect x="201" y="457" width="1" height="4" fill="#808080"/><rect x="272" y="457" width="1" height="4" fill="#808080"/><rect x="344" y="457" width="1" height="4" fill="#808080"/><rect x="415" y="457" width="1" height="4" fill="#808080"/><rect x="77" y="457" width="1" height="2" fill="#808080"/><rect x="94" y="457" width="1" height="2" fill="#808080"/><rect x="112" y="457" width="1" height="2" fill="#808080"/><rect x="148" y="457" width="1" height="2" fill="#808080"/><rect x="166" y="457" width="1" height="2" fill="#808080"/><rect x="183" y="457" width="1" height="2" fill="#808080"/><rect x="219" y="457" width="1" height="2" fill="#808080"/><rect x="237" y="457" width="1" height="2" fill="#808080"/><rect x="254" y="457" width="1" height="2" fill="#808080"/><rect x="290" y="457" width="1" height="2" fill="#808080"/><rect x="308" y="457" width="1" height="2" fill="#808080"/><rect x="326" y="457" width="1" height="2" fill="#808080"/><rect x="362" y="457" width="1" height="2" fill="#808080"/><rect x="380" y="457" width="1" height="2" fill="#808080"/><rect x="397" y="457" width="1" height="2" fill="#808080"/><rect x="433" y="457" width="1" height="2" fill="#808080"/><rect x="451" y="457" width="1" height="2" fill="#808080"/><rect x="196" y="387" width="1" height="3" fill="#808080"/><rect x="415" y="387" width="1" height="3" fill="#808080"/><rect x="86" y="389" width="1" height="1" fill="#808080"/><rect x="141" y="389" width="1" height="1" fill="#808080"/><rect x="251" y="389" width="1" height="1" fill="#808080"/><rect x="306" y="389" width="1" height="1" fill="#808080"/><rect x="360" y="389" width="1" height="1" fill="#808080"/><rect x="67" y="390" width="399" height="2" fill="#000"/><rect x="67" y="455" width="399" height="2" fill="#000"/><rect x="67" y="390" width="2" height="67" fill="#000"/><rect x="464" y="390" width="2" height="67" fill="#000"/><rect x="196" y="390" width="1" height="1" fill="#505050"/><rect x="415" y="390" width="1" height="1" fill="#505050"/><rect x="86" y="390" width="1" height="1" fill="#505050"/><rect x="141" y="390" width="1" height="1" fill="#505050"/><rect x="251" y="390" width="1" height="1" fill="#505050"/><rect x="306" y="390" width="1" height="1" fill="#505050"/><rect x="360" y="390" width="1" height="1" fill="#505050"/><rect x="178" y="487" width="194" height="24" fill="#000" opacity="0.55" filter="url(#bl)"/><rect x="178" y="487" width="194" height="24" fill="#3c3c3c" opacity="0.85"/><rect x="175" y="484" width="194" height="24" fill="#000"/><rect x="176" y="485" width="192" height="22" fill="#fff"/><rect x="179" y="489" width="12" height="12" fill="#e9e9e9"/><rect x="179" y="489" width="11" height="1" fill="#808080"/><rect x="179" y="489" width="1" height="11" fill="#808080"/><rect x="180" y="490" width="9" height="1" fill="#a9a9a9"/><rect x="180" y="490" width="1" height="9" fill="#a9a9a9"/><rect x="181" y="491" width="9" height="9" fill="#fff"/><path d="M182.4 494.2 L184.6 497 L188.6 492.2" stroke="#000" stroke-width="2" fill="none" shape-rendering="auto"/><rect x="198" y="492" width="27" height="13" fill="#000" opacity="0.28" filter="url(#bl2)"/><rect x="196" y="489" width="27" height="13" fill="#000"/><rect x="197" y="490" width="25" height="11" fill="#00f"/></svg>
</div>
<span class="t h" style="left:44.30px;top:290px;font-size:20px;line-height:28px;color:#00f;letter-spacing:0.046px;">Сч. №5065772 шина №802 "СШ-2 нет дет."</span>
<span class="t h" style="left:164.95px;top:313px;font-size:20px;line-height:28px;color:#00f;">фидер №2 "Ввод"</span>
<span class="t h" style="left:103.70px;top:336px;font-size:20px;line-height:28px;color:#00f;letter-spacing:-0.244px;">Данные - Активный прием ком.</span>
<span class="t a" style="left:53.68px;top:401px;font-size:12px;line-height:17px;color:#000;letter-spacing:0.330px;">1</span>
<span class="t a" style="left:42.94px;top:425px;font-size:12px;line-height:17px;color:#000;letter-spacing:0.330px;">0,5</span>
<span class="t a" style="left:53.56px;top:449px;font-size:12px;line-height:17px;color:#000;letter-spacing:0.330px;">0</span>
<span class="t a" style="left:113.84px;top:464px;font-size:12px;line-height:17px;color:#000;letter-spacing:0.330px;">00:00</span>
<span class="t a" style="left:184.84px;top:464px;font-size:12px;line-height:17px;color:#000;letter-spacing:0.330px;">06:00</span>
<span class="t a" style="left:255.60px;top:464px;font-size:12px;line-height:17px;color:#000;letter-spacing:0.330px;">12:00</span>
<span class="t a" style="left:327.60px;top:464px;font-size:12px;line-height:17px;color:#000;letter-spacing:0.330px;">18:00</span>
<span class="t a" style="left:398.84px;top:464px;font-size:12px;line-height:17px;color:#000;letter-spacing:0.330px;">00:00</span>
<span class="t a" style="left:164.58px;top:369px;font-size:12px;line-height:17px;color:#000;letter-spacing:0.330px;">16.10.2018</span>
<span class="t a" style="left:383.57px;top:369px;font-size:12px;line-height:17px;color:#000;letter-spacing:0.330px;">17.10.2018</span>
<span class="t a" style="left:230.00px;top:488px;font-size:13px;line-height:18px;color:#000;letter-spacing:-0.072px;">Активный прием ком.</span>
<span class="t a" style="left:36px;top:439.28px;width:0;height:0;transform:rotate(-90deg);transform-origin:0 0;overflow:visible;"><span class="t a" style="left:0;top:-12px;font-size:12px;line-height:17px;letter-spacing:1.245px;color:#000">кВт.ч</span></span>
<div class="r chart" style="left:480px;top:282px;width:470px;height:240px">
<svg class="r" style="left:0;top:0" width="470" height="240" viewBox="480 282 470 240" shape-rendering="crispEdges"><rect x="547" y="405" width="3" height="1" fill="#808080"/><rect x="553" y="405" width="3" height="1" fill="#808080"/><rect x="559" y="405" width="3" height="1" fill="#808080"/><rect x="565" y="405" width="3" height="1" fill="#808080"/><rect x="571" y="405" width="3" height="1" fill="#808080"/><rect x="577" y="405" width="3" height="1" fill="#808080"/><rect x="583" y="405" width="3" height="1" fill="#808080"/><rect x="589" y="405" width="3" height="1" fill="#808080"/><rect x="595" y="405" width="3" height="1" fill="#808080"/><rect x="601" y="405" width="3" height="1" fill="#808080"/><rect x="607" y="405" width="3" height="1" fill="#808080"/><rect x="613" y="405" width="3" height="1" fill="#808080"/><rect x="619" y="405" width="3" height="1" fill="#808080"/><rect x="625" y="405" width="3" height="1" fill="#808080"/><rect x="631" y="405" width="3" height="1" fill="#808080"/><rect x="637" y="405" width="3" height="1" fill="#808080"/><rect x="643" y="405" width="3" height="1" fill="#808080"/><rect x="649" y="405" width="3" height="1" fill="#808080"/><rect x="655" y="405" width="3" height="1" fill="#808080"/><rect x="661" y="405" width="3" height="1" fill="#808080"/><rect x="667" y="405" width="3" height="1" fill="#808080"/><rect x="673" y="405" width="3" height="1" fill="#808080"/><rect x="679" y="405" width="3" height="1" fill="#808080"/><rect x="685" y="405" width="3" height="1" fill="#808080"/><rect x="691" y="405" width="3" height="1" fill="#808080"/><rect x="697" y="405" width="3" height="1" fill="#808080"/><rect x="703" y="405" width="3" height="1" fill="#808080"/><rect x="709" y="405" width="3" height="1" fill="#808080"/><rect x="715" y="405" width="3" height="1" fill="#808080"/><rect x="721" y="405" width="3" height="1" fill="#808080"/><rect x="727" y="405" width="3" height="1" fill="#808080"/><rect x="733" y="405" width="3" height="1" fill="#808080"/><rect x="739" y="405" width="3" height="1" fill="#808080"/><rect x="745" y="405" width="3" height="1" fill="#808080"/><rect x="751" y="405" width="3" height="1" fill="#808080"/><rect x="757" y="405" width="3" height="1" fill="#808080"/><rect x="763" y="405" width="3" height="1" fill="#808080"/><rect x="769" y="405" width="3" height="1" fill="#808080"/><rect x="775" y="405" width="3" height="1" fill="#808080"/><rect x="781" y="405" width="3" height="1" fill="#808080"/><rect x="787" y="405" width="3" height="1" fill="#808080"/><rect x="793" y="405" width="3" height="1" fill="#808080"/><rect x="799" y="405" width="3" height="1" fill="#808080"/><rect x="805" y="405" width="3" height="1" fill="#808080"/><rect x="811" y="405" width="3" height="1" fill="#808080"/><rect x="817" y="405" width="3" height="1" fill="#808080"/><rect x="823" y="405" width="3" height="1" fill="#808080"/><rect x="829" y="405" width="3" height="1" fill="#808080"/><rect x="835" y="405" width="3" height="1" fill="#808080"/><rect x="841" y="405" width="3" height="1" fill="#808080"/><rect x="847" y="405" width="3" height="1" fill="#808080"/><rect x="853" y="405" width="3" height="1" fill="#808080"/><rect x="859" y="405" width="3" height="1" fill="#808080"/><rect x="865" y="405" width="3" height="1" fill="#808080"/><rect x="871" y="405" width="3" height="1" fill="#808080"/><rect x="877" y="405" width="3" height="1" fill="#808080"/><rect x="883" y="405" width="3" height="1" fill="#808080"/><rect x="889" y="405" width="3" height="1" fill="#808080"/><rect x="895" y="405" width="3" height="1" fill="#808080"/><rect x="901" y="405" width="3" height="1" fill="#808080"/><rect x="907" y="405" width="3" height="1" fill="#808080"/><rect x="913" y="405" width="3" height="1" fill="#808080"/><rect x="919" y="405" width="3" height="1" fill="#808080"/><rect x="925" y="405" width="3" height="1" fill="#808080"/><rect x="931" y="405" width="3" height="1" fill="#808080"/><rect x="547" y="431" width="3" height="1" fill="#808080"/><rect x="553" y="431" width="3" height="1" fill="#808080"/><rect x="559" y="431" width="3" height="1" fill="#808080"/><rect x="565" y="431" width="3" height="1" fill="#808080"/><rect x="571" y="431" width="3" height="1" fill="#808080"/><rect x="577" y="431" width="3" height="1" fill="#808080"/><rect x="583" y="431" width="3" height="1" fill="#808080"/><rect x="589" y="431" width="3" height="1" fill="#808080"/><rect x="595" y="431" width="3" height="1" fill="#808080"/><rect x="601" y="431" width="3" height="1" fill="#808080"/><rect x="607" y="431" width="3" height="1" fill="#808080"/><rect x="613" y="431" width="3" height="1" fill="#808080"/><rect x="619" y="431" width="3" height="1" fill="#808080"/><rect x="625" y="431" width="3" height="1" fill="#808080"/><rect x="631" y="431" width="3" height="1" fill="#808080"/><rect x="637" y="431" width="3" height="1" fill="#808080"/><rect x="643" y="431" width="3" height="1" fill="#808080"/><rect x="649" y="431" width="3" height="1" fill="#808080"/><rect x="655" y="431" width="3" height="1" fill="#808080"/><rect x="661" y="431" width="3" height="1" fill="#808080"/><rect x="667" y="431" width="3" height="1" fill="#808080"/><rect x="673" y="431" width="3" height="1" fill="#808080"/><rect x="679" y="431" width="3" height="1" fill="#808080"/><rect x="685" y="431" width="3" height="1" fill="#808080"/><rect x="691" y="431" width="3" height="1" fill="#808080"/><rect x="697" y="431" width="3" height="1" fill="#808080"/><rect x="703" y="431" width="3" height="1" fill="#808080"/><rect x="709" y="431" width="3" height="1" fill="#808080"/><rect x="715" y="431" width="3" height="1" fill="#808080"/><rect x="721" y="431" width="3" height="1" fill="#808080"/><rect x="727" y="431" width="3" height="1" fill="#808080"/><rect x="733" y="431" width="3" height="1" fill="#808080"/><rect x="739" y="431" width="3" height="1" fill="#808080"/><rect x="745" y="431" width="3" height="1" fill="#808080"/><rect x="751" y="431" width="3" height="1" fill="#808080"/><rect x="757" y="431" width="3" height="1" fill="#808080"/><rect x="763" y="431" width="3" height="1" fill="#808080"/><rect x="769" y="431" width="3" height="1" fill="#808080"/><rect x="775" y="431" width="3" height="1" fill="#808080"/><rect x="781" y="431" width="3" height="1" fill="#808080"/><rect x="787" y="431" width="3" height="1" fill="#808080"/><rect x="793" y="431" width="3" height="1" fill="#808080"/><rect x="799" y="431" width="3" height="1" fill="#808080"/><rect x="805" y="431" width="3" height="1" fill="#808080"/><rect x="811" y="431" width="3" height="1" fill="#808080"/><rect x="817" y="431" width="3" height="1" fill="#808080"/><rect x="823" y="431" width="3" height="1" fill="#808080"/><rect x="829" y="431" width="3" height="1" fill="#808080"/><rect x="835" y="431" width="3" height="1" fill="#808080"/><rect x="841" y="431" width="3" height="1" fill="#808080"/><rect x="847" y="431" width="3" height="1" fill="#808080"/><rect x="853" y="431" width="3" height="1" fill="#808080"/><rect x="859" y="431" width="3" height="1" fill="#808080"/><rect x="865" y="431" width="3" height="1" fill="#808080"/><rect x="871" y="431" width="3" height="1" fill="#808080"/><rect x="877" y="431" width="3" height="1" fill="#808080"/><rect x="883" y="431" width="3" height="1" fill="#808080"/><rect x="889" y="431" width="3" height="1" fill="#808080"/><rect x="895" y="431" width="3" height="1" fill="#808080"/><rect x="901" y="431" width="3" height="1" fill="#808080"/><rect x="907" y="431" width="3" height="1" fill="#808080"/><rect x="913" y="431" width="3" height="1" fill="#808080"/><rect x="919" y="431" width="3" height="1" fill="#808080"/><rect x="925" y="431" width="3" height="1" fill="#808080"/><rect x="931" y="431" width="3" height="1" fill="#808080"/><rect x="567" y="392" width="1" height="3" fill="#808080"/><rect x="567" y="398" width="1" height="3" fill="#808080"/><rect x="567" y="404" width="1" height="3" fill="#808080"/><rect x="567" y="410" width="1" height="3" fill="#808080"/><rect x="567" y="416" width="1" height="3" fill="#808080"/><rect x="567" y="422" width="1" height="3" fill="#808080"/><rect x="567" y="428" width="1" height="3" fill="#808080"/><rect x="567" y="434" width="1" height="3" fill="#808080"/><rect x="567" y="440" width="1" height="3" fill="#808080"/><rect x="567" y="446" width="1" height="3" fill="#808080"/><rect x="567" y="452" width="1" height="3" fill="#808080"/><rect x="605" y="392" width="1" height="3" fill="#808080"/><rect x="605" y="398" width="1" height="3" fill="#808080"/><rect x="605" y="404" width="1" height="3" fill="#808080"/><rect x="605" y="410" width="1" height="3" fill="#808080"/><rect x="605" y="416" width="1" height="3" fill="#808080"/><rect x="605" y="422" width="1" height="3" fill="#808080"/><rect x="605" y="428" width="1" height="3" fill="#808080"/><rect x="605" y="434" width="1" height="3" fill="#808080"/><rect x="605" y="440" width="1" height="3" fill="#808080"/><rect x="605" y="446" width="1" height="3" fill="#808080"/><rect x="605" y="452" width="1" height="3" fill="#808080"/><rect x="643" y="392" width="1" height="3" fill="#808080"/><rect x="643" y="398" width="1" height="3" fill="#808080"/><rect x="643" y="404" width="1" height="3" fill="#808080"/><rect x="643" y="410" width="1" height="3" fill="#808080"/><rect x="643" y="416" width="1" height="3" fill="#808080"/><rect x="643" y="422" width="1" height="3" fill="#808080"/><rect x="643" y="428" width="1" height="3" fill="#808080"/><rect x="643" y="434" width="1" height="3" fill="#808080"/><rect x="643" y="440" width="1" height="3" fill="#808080"/><rect x="643" y="446" width="1" height="3" fill="#808080"/><rect x="643" y="452" width="1" height="3" fill="#808080"/><rect x="681" y="392" width="1" height="3" fill="#808080"/><rect x="681" y="398" width="1" height="3" fill="#808080"/><rect x="681" y="404" width="1" height="3" fill="#808080"/><rect x="681" y="410" width="1" height="3" fill="#808080"/><rect x="681" y="416" width="1" height="3" fill="#808080"/><rect x="681" y="422" width="1" height="3" fill="#808080"/><rect x="681" y="428" width="1" height="3" fill="#808080"/><rect x="681" y="434" width="1" height="3" fill="#808080"/><rect x="681" y="440" width="1" height="3" fill="#808080"/><rect x="681" y="446" width="1" height="3" fill="#808080"/><rect x="681" y="452" width="1" height="3" fill="#808080"/><rect x="719" y="392" width="1" height="3" fill="#808080"/><rect x="719" y="398" width="1" height="3" fill="#808080"/><rect x="719" y="404" width="1" height="3" fill="#808080"/><rect x="719" y="410" width="1" height="3" fill="#808080"/><rect x="719" y="416" width="1" height="3" fill="#808080"/><rect x="719" y="422" width="1" height="3" fill="#808080"/><rect x="719" y="428" width="1" height="3" fill="#808080"/><rect x="719" y="434" width="1" height="3" fill="#808080"/><rect x="719" y="440" width="1" height="3" fill="#808080"/><rect x="719" y="446" width="1" height="3" fill="#808080"/><rect x="719" y="452" width="1" height="3" fill="#808080"/><rect x="757" y="392" width="1" height="3" fill="#808080"/><rect x="757" y="398" width="1" height="3" fill="#808080"/><rect x="757" y="404" width="1" height="3" fill="#808080"/><rect x="757" y="410" width="1" height="3" fill="#808080"/><rect x="757" y="416" width="1" height="3" fill="#808080"/><rect x="757" y="422" width="1" height="3" fill="#808080"/><rect x="757" y="428" width="1" height="3" fill="#808080"/><rect x="757" y="434" width="1" height="3" fill="#808080"/><rect x="757" y="440" width="1" height="3" fill="#808080"/><rect x="757" y="446" width="1" height="3" fill="#808080"/><rect x="757" y="452" width="1" height="3" fill="#808080"/><rect x="795" y="392" width="1" height="3" fill="#808080"/><rect x="795" y="398" width="1" height="3" fill="#808080"/><rect x="795" y="404" width="1" height="3" fill="#808080"/><rect x="795" y="410" width="1" height="3" fill="#808080"/><rect x="795" y="416" width="1" height="3" fill="#808080"/><rect x="795" y="422" width="1" height="3" fill="#808080"/><rect x="795" y="428" width="1" height="3" fill="#808080"/><rect x="795" y="434" width="1" height="3" fill="#808080"/><rect x="795" y="440" width="1" height="3" fill="#808080"/><rect x="795" y="446" width="1" height="3" fill="#808080"/><rect x="795" y="452" width="1" height="3" fill="#808080"/><rect x="833" y="392" width="1" height="3" fill="#808080"/><rect x="833" y="398" width="1" height="3" fill="#808080"/><rect x="833" y="404" width="1" height="3" fill="#808080"/><rect x="833" y="410" width="1" height="3" fill="#808080"/><rect x="833" y="416" width="1" height="3" fill="#808080"/><rect x="833" y="422" width="1" height="3" fill="#808080"/><rect x="833" y="428" width="1" height="3" fill="#808080"/><rect x="833" y="434" width="1" height="3" fill="#808080"/><rect x="833" y="440" width="1" height="3" fill="#808080"/><rect x="833" y="446" width="1" height="3" fill="#808080"/><rect x="833" y="452" width="1" height="3" fill="#808080"/><rect x="871" y="392" width="1" height="3" fill="#808080"/><rect x="871" y="398" width="1" height="3" fill="#808080"/><rect x="871" y="404" width="1" height="3" fill="#808080"/><rect x="871" y="410" width="1" height="3" fill="#808080"/><rect x="871" y="416" width="1" height="3" fill="#808080"/><rect x="871" y="422" width="1" height="3" fill="#808080"/><rect x="871" y="428" width="1" height="3" fill="#808080"/><rect x="871" y="434" width="1" height="3" fill="#808080"/><rect x="871" y="440" width="1" height="3" fill="#808080"/><rect x="871" y="446" width="1" height="3" fill="#808080"/><rect x="871" y="452" width="1" height="3" fill="#808080"/><rect x="909" y="392" width="1" height="3" fill="#808080"/><rect x="909" y="398" width="1" height="3" fill="#808080"/><rect x="909" y="404" width="1" height="3" fill="#808080"/><rect x="909" y="410" width="1" height="3" fill="#808080"/><rect x="909" y="416" width="1" height="3" fill="#808080"/><rect x="909" y="422" width="1" height="3" fill="#808080"/><rect x="909" y="428" width="1" height="3" fill="#808080"/><rect x="909" y="434" width="1" height="3" fill="#808080"/><rect x="909" y="440" width="1" height="3" fill="#808080"/><rect x="909" y="446" width="1" height="3" fill="#808080"/><rect x="909" y="452" width="1" height="3" fill="#808080"/><rect x="551" y="392" width="1" height="3" fill="#808080"/><rect x="551" y="398" width="1" height="3" fill="#808080"/><rect x="551" y="404" width="1" height="3" fill="#808080"/><rect x="551" y="410" width="1" height="3" fill="#808080"/><rect x="551" y="416" width="1" height="3" fill="#808080"/><rect x="551" y="422" width="1" height="3" fill="#808080"/><rect x="551" y="428" width="1" height="3" fill="#808080"/><rect x="551" y="434" width="1" height="3" fill="#808080"/><rect x="551" y="440" width="1" height="3" fill="#808080"/><rect x="551" y="446" width="1" height="3" fill="#808080"/><rect x="551" y="452" width="1" height="3" fill="#808080"/><rect x="839" y="392" width="1" height="3" fill="#808080"/><rect x="839" y="398" width="1" height="3" fill="#808080"/><rect x="839" y="404" width="1" height="3" fill="#808080"/><rect x="839" y="410" width="1" height="3" fill="#808080"/><rect x="839" y="416" width="1" height="3" fill="#808080"/><rect x="839" y="422" width="1" height="3" fill="#808080"/><rect x="839" y="428" width="1" height="3" fill="#808080"/><rect x="839" y="434" width="1" height="3" fill="#808080"/><rect x="839" y="440" width="1" height="3" fill="#808080"/><rect x="839" y="446" width="1" height="3" fill="#808080"/><rect x="839" y="452" width="1" height="3" fill="#808080"/><rect x="601" y="392" width="9" height="63" fill="#000"/><rect x="922" y="392" width="11" height="63" fill="#000"/><rect x="922" y="392" width="3" height="63" fill="#000"/><rect x="602" y="392" width="7" height="63" fill="#f00"/><rect x="923" y="393" width="9" height="62" fill="#f00"/><rect x="923" y="393" width="1" height="62" fill="#f00"/><rect x="550" y="392" width="52" height="63" fill="#000"/><rect x="551" y="392" width="1" height="63" fill="#f00"/><rect x="553" y="392" width="1" height="63" fill="#f00"/><rect x="555" y="392" width="1" height="63" fill="#f00"/><rect x="557" y="392" width="1" height="63" fill="#f00"/><rect x="560" y="393" width="1" height="62" fill="#f00"/><rect x="562" y="393" width="1" height="62" fill="#f00"/><rect x="564" y="393" width="1" height="62" fill="#f00"/><rect x="566" y="393" width="1" height="62" fill="#f00"/><rect x="568" y="392" width="1" height="63" fill="#f00"/><rect x="570" y="393" width="1" height="62" fill="#f00"/><rect x="572" y="392" width="1" height="63" fill="#f00"/><rect x="574" y="392" width="1" height="63" fill="#f00"/><rect x="576" y="393" width="1" height="62" fill="#f00"/><rect x="579" y="393" width="1" height="62" fill="#f00"/><rect x="581" y="393" width="1" height="62" fill="#f00"/><rect x="583" y="393" width="1" height="62" fill="#f00"/><rect x="585" y="393" width="1" height="62" fill="#f00"/><rect x="587" y="393" width="1" height="62" fill="#f00"/><rect x="589" y="393" width="1" height="62" fill="#f00"/><rect x="591" y="392" width="1" height="63" fill="#f00"/><rect x="593" y="392" width="1" height="63" fill="#f00"/><rect x="595" y="393" width="1" height="62" fill="#f00"/><rect x="598" y="392" width="1" height="63" fill="#f00"/><rect x="600" y="393" width="1" height="62" fill="#f00"/><rect x="542" y="405" width="3" height="1" fill="#808080"/><rect x="542" y="431" width="3" height="1" fill="#808080"/><rect x="542" y="456" width="3" height="1" fill="#808080"/><rect x="544" y="392" width="1" height="1" fill="#808080"/><rect x="544" y="399" width="1" height="1" fill="#808080"/><rect x="544" y="411" width="1" height="1" fill="#808080"/><rect x="544" y="418" width="1" height="1" fill="#808080"/><rect x="544" y="424" width="1" height="1" fill="#808080"/><rect x="544" y="437" width="1" height="1" fill="#808080"/><rect x="544" y="443" width="1" height="1" fill="#808080"/><rect x="544" y="450" width="1" height="1" fill="#808080"/><rect x="567" y="457" width="1" height="4" fill="#808080"/><rect x="605" y="457" width="1" height="4" fill="#808080"/><rect x="643" y="457" width="1" height="4" fill="#808080"/><rect x="681" y="457" width="1" height="4" fill="#808080"/><rect x="719" y="457" width="1" height="4" fill="#808080"/><rect x="757" y="457" width="1" height="4" fill="#808080"/><rect x="795" y="457" width="1" height="4" fill="#808080"/><rect x="833" y="457" width="1" height="4" fill="#808080"/><rect x="871" y="457" width="1" height="4" fill="#808080"/><rect x="909" y="457" width="1" height="4" fill="#808080"/><rect x="548" y="457" width="1" height="2" fill="#808080"/><rect x="558" y="457" width="1" height="2" fill="#808080"/><rect x="576" y="457" width="1" height="2" fill="#808080"/><rect x="586" y="457" width="1" height="2" fill="#808080"/><rect x="595" y="457" width="1" height="2" fill="#808080"/><rect x="614" y="457" width="1" height="2" fill="#808080"/><rect x="624" y="457" width="1" height="2" fill="#808080"/><rect x="633" y="457" width="1" height="2" fill="#808080"/><rect x="652" y="457" width="1" height="2" fill="#808080"/><rect x="662" y="457" width="1" height="2" fill="#808080"/><rect x="671" y="457" width="1" height="2" fill="#808080"/><rect x="690" y="457" width="1" height="2" fill="#808080"/><rect x="700" y="457" width="1" height="2" fill="#808080"/><rect x="709" y="457" width="1" height="2" fill="#808080"/><rect x="728" y="457" width="1" height="2" fill="#808080"/><rect x="738" y="457" width="1" height="2" fill="#808080"/><rect x="747" y="457" width="1" height="2" fill="#808080"/><rect x="766" y="457" width="1" height="2" fill="#808080"/><rect x="776" y="457" width="1" height="2" fill="#808080"/><rect x="785" y="457" width="1" height="2" fill="#808080"/><rect x="804" y="457" width="1" height="2" fill="#808080"/><rect x="814" y="457" width="1" height="2" fill="#808080"/><rect x="823" y="457" width="1" height="2" fill="#808080"/><rect x="842" y="457" width="1" height="2" fill="#808080"/><rect x="852" y="457" width="1" height="2" fill="#808080"/><rect x="861" y="457" width="1" height="2" fill="#808080"/><rect x="880" y="457" width="1" height="2" fill="#808080"/><rect x="890" y="457" width="1" height="2" fill="#808080"/><rect x="899" y="457" width="1" height="2" fill="#808080"/><rect x="918" y="457" width="1" height="2" fill="#808080"/><rect x="928" y="457" width="1" height="2" fill="#808080"/><rect x="551" y="387" width="1" height="3" fill="#808080"/><rect x="839" y="387" width="1" height="3" fill="#808080"/><rect x="623" y="389" width="1" height="1" fill="#808080"/><rect x="695" y="389" width="1" height="1" fill="#808080"/><rect x="767" y="389" width="1" height="1" fill="#808080"/><rect x="911" y="389" width="1" height="1" fill="#808080"/><rect x="545" y="390" width="392" height="2" fill="#000"/><rect x="545" y="455" width="392" height="2" fill="#000"/><rect x="545" y="390" width="2" height="67" fill="#000"/><rect x="935" y="390" width="2" height="67" fill="#000"/><rect x="551" y="390" width="1" height="1" fill="#505050"/><rect x="839" y="390" width="1" height="1" fill="#505050"/><rect x="623" y="390" width="1" height="1" fill="#505050"/><rect x="695" y="390" width="1" height="1" fill="#505050"/><rect x="767" y="390" width="1" height="1" fill="#505050"/><rect x="911" y="390" width="1" height="1" fill="#505050"/><rect x="651" y="487" width="190" height="24" fill="#000" opacity="0.55" filter="url(#bl)"/><rect x="651" y="487" width="190" height="24" fill="#3c3c3c" opacity="0.85"/><rect x="648" y="484" width="190" height="24" fill="#000"/><rect x="649" y="485" width="188" height="22" fill="#fff"/><rect x="652" y="489" width="12" height="12" fill="#e9e9e9"/><rect x="652" y="489" width="11" height="1" fill="#808080"/><rect x="652" y="489" width="1" height="11" fill="#808080"/><rect x="653" y="490" width="9" height="1" fill="#a9a9a9"/><rect x="653" y="490" width="1" height="9" fill="#a9a9a9"/><rect x="654" y="491" width="9" height="9" fill="#fff"/><path d="M655.4 494.2 L657.6 497 L661.6 492.2" stroke="#000" stroke-width="2" fill="none" shape-rendering="auto"/><rect x="671" y="492" width="26" height="13" fill="#000" opacity="0.28" filter="url(#bl2)"/><rect x="669" y="489" width="26" height="13" fill="#000"/><rect x="670" y="490" width="24" height="11" fill="#00f"/></svg>
</div>
<span class="t h" style="left:515.30px;top:290px;font-size:20px;line-height:28px;color:#00f;letter-spacing:0.046px;">Сч. №5065772 шина №802 "СШ-2 нет дет."</span>
<span class="t h" style="left:635.95px;top:313px;font-size:20px;line-height:28px;color:#00f;">фидер №2 "Ввод"</span>
<span class="t h" style="left:576.95px;top:336px;font-size:20px;line-height:28px;color:#00f;letter-spacing:-0.252px;">Данные - Активный прием тех.</span>
<span class="t a" style="left:521.00px;top:398px;font-size:12px;line-height:17px;color:#000;letter-spacing:0.330px;">0,1</span>
<span class="t a" style="left:513.95px;top:424px;font-size:12px;line-height:17px;color:#000;letter-spacing:0.330px;">0,05</span>
<span class="t a" style="left:531.56px;top:449px;font-size:12px;line-height:17px;color:#000;letter-spacing:0.330px;">0</span>
<span class="t a" style="left:550.60px;top:464px;font-size:12px;line-height:17px;color:#000;letter-spacing:0.330px;">14:00</span>
<span class="t a" style="left:588.60px;top:464px;font-size:12px;line-height:17px;color:#000;letter-spacing:0.330px;">15:00</span>
<span class="t a" style="left:626.60px;top:464px;font-size:12px;line-height:17px;color:#000;letter-spacing:0.330px;">16:00</span>
<span class="t a" style="left:664.60px;top:464px;font-size:12px;line-height:17px;color:#000;letter-spacing:0.330px;">17:00</span>
<span class="t a" style="left:702.60px;top:464px;font-size:12px;line-height:17px;color:#000;letter-spacing:0.330px;">18:00</span>
<span class="t a" style="left:740.60px;top:464px;font-size:12px;line-height:17px;color:#000;letter-spacing:0.330px;">19:00</span>
<span class="t a" style="left:778.75px;top:464px;font-size:12px;line-height:17px;color:#000;letter-spacing:0.330px;">20:00</span>
<span class="t a" style="left:816.75px;top:464px;font-size:12px;line-height:17px;color:#000;letter-spacing:0.330px;">21:00</span>
<span class="t a" style="left:854.75px;top:464px;font-size:12px;line-height:17px;color:#000;letter-spacing:0.330px;">22:00</span>
<span class="t a" style="left:892.75px;top:464px;font-size:12px;line-height:17px;color:#000;letter-spacing:0.330px;">23:00</span>
<span class="t a" style="left:519.57px;top:369px;font-size:12px;line-height:17px;color:#000;letter-spacing:0.330px;">16.10.2018</span>
<span class="t a" style="left:807.57px;top:369px;font-size:12px;line-height:17px;color:#000;letter-spacing:0.330px;">16.10.2018</span>
<span class="t a" style="left:702.00px;top:488px;font-size:13px;line-height:18px;color:#000;letter-spacing:-0.070px;">Активный прием тех.</span>
<span class="t a" style="left:507px;top:439.28px;width:0;height:0;transform:rotate(-90deg);transform-origin:0 0;overflow:visible;"><span class="t a" style="left:0;top:-12px;font-size:12px;line-height:17px;letter-spacing:1.245px;color:#000">кВт.ч</span></span>
<div class="r chart" style="left:952px;top:282px;width:470px;height:240px">
<svg class="r" style="left:0;top:0" width="470" height="240" viewBox="952 282 470 240" shape-rendering="crispEdges"><rect x="1001" y="423" width="3" height="1" fill="#808080"/><rect x="1007" y="423" width="3" height="1" fill="#808080"/><rect x="1013" y="423" width="3" height="1" fill="#808080"/><rect x="1019" y="423" width="3" height="1" fill="#808080"/><rect x="1025" y="423" width="3" height="1" fill="#808080"/><rect x="1031" y="423" width="3" height="1" fill="#808080"/><rect x="1037" y="423" width="3" height="1" fill="#808080"/><rect x="1043" y="423" width="3" height="1" fill="#808080"/><rect x="1049" y="423" width="3" height="1" fill="#808080"/><rect x="1055" y="423" width="3" height="1" fill="#808080"/><rect x="1061" y="423" width="3" height="1" fill="#808080"/><rect x="1067" y="423" width="3" height="1" fill="#808080"/><rect x="1073" y="423" width="3" height="1" fill="#808080"/><rect x="1079" y="423" width="3" height="1" fill="#808080"/><rect x="1085" y="423" width="3" height="1" fill="#808080"/><rect x="1091" y="423" width="3" height="1" fill="#808080"/><rect x="1097" y="423" width="3" height="1" fill="#808080"/><rect x="1103" y="423" width="3" height="1" fill="#808080"/><rect x="1109" y="423" width="3" height="1" fill="#808080"/><rect x="1115" y="423" width="3" height="1" fill="#808080"/><rect x="1121" y="423" width="3" height="1" fill="#808080"/><rect x="1127" y="423" width="3" height="1" fill="#808080"/><rect x="1133" y="423" width="3" height="1" fill="#808080"/><rect x="1139" y="423" width="3" height="1" fill="#808080"/><rect x="1145" y="423" width="3" height="1" fill="#808080"/><rect x="1151" y="423" width="3" height="1" fill="#808080"/><rect x="1157" y="423" width="3" height="1" fill="#808080"/><rect x="1163" y="423" width="3" height="1" fill="#808080"/><rect x="1169" y="423" width="3" height="1" fill="#808080"/><rect x="1175" y="423" width="3" height="1" fill="#808080"/><rect x="1181" y="423" width="3" height="1" fill="#808080"/><rect x="1187" y="423" width="3" height="1" fill="#808080"/><rect x="1193" y="423" width="3" height="1" fill="#808080"/><rect x="1199" y="423" width="3" height="1" fill="#808080"/><rect x="1205" y="423" width="3" height="1" fill="#808080"/><rect x="1211" y="423" width="3" height="1" fill="#808080"/><rect x="1217" y="423" width="3" height="1" fill="#808080"/><rect x="1223" y="423" width="3" height="1" fill="#808080"/><rect x="1229" y="423" width="3" height="1" fill="#808080"/><rect x="1235" y="423" width="3" height="1" fill="#808080"/><rect x="1241" y="423" width="3" height="1" fill="#808080"/><rect x="1247" y="423" width="3" height="1" fill="#808080"/><rect x="1253" y="423" width="3" height="1" fill="#808080"/><rect x="1259" y="423" width="3" height="1" fill="#808080"/><rect x="1265" y="423" width="3" height="1" fill="#808080"/><rect x="1271" y="423" width="3" height="1" fill="#808080"/><rect x="1277" y="423" width="3" height="1" fill="#808080"/><rect x="1283" y="423" width="3" height="1" fill="#808080"/><rect x="1289" y="423" width="3" height="1" fill="#808080"/><rect x="1295" y="423" width="3" height="1" fill="#808080"/><rect x="1301" y="423" width="3" height="1" fill="#808080"/><rect x="1307" y="423" width="3" height="1" fill="#808080"/><rect x="1313" y="423" width="3" height="1" fill="#808080"/><rect x="1319" y="423" width="3" height="1" fill="#808080"/><rect x="1325" y="423" width="3" height="1" fill="#808080"/><rect x="1331" y="423" width="3" height="1" fill="#808080"/><rect x="1337" y="423" width="3" height="1" fill="#808080"/><rect x="1343" y="423" width="3" height="1" fill="#808080"/><rect x="1349" y="423" width="3" height="1" fill="#808080"/><rect x="1355" y="423" width="3" height="1" fill="#808080"/><rect x="1361" y="423" width="3" height="1" fill="#808080"/><rect x="1367" y="423" width="3" height="1" fill="#808080"/><rect x="1373" y="423" width="3" height="1" fill="#808080"/><rect x="1379" y="423" width="3" height="1" fill="#808080"/><rect x="1385" y="423" width="3" height="1" fill="#808080"/><rect x="1391" y="423" width="3" height="1" fill="#808080"/><rect x="1397" y="423" width="3" height="1" fill="#808080"/><rect x="1403" y="423" width="3" height="1" fill="#808080"/><rect x="1064" y="392" width="1" height="3" fill="#808080"/><rect x="1064" y="398" width="1" height="3" fill="#808080"/><rect x="1064" y="404" width="1" height="3" fill="#808080"/><rect x="1064" y="410" width="1" height="3" fill="#808080"/><rect x="1064" y="416" width="1" height="3" fill="#808080"/><rect x="1064" y="422" width="1" height="3" fill="#808080"/><rect x="1064" y="428" width="1" height="3" fill="#808080"/><rect x="1064" y="434" width="1" height="3" fill="#808080"/><rect x="1064" y="440" width="1" height="3" fill="#808080"/><rect x="1064" y="446" width="1" height="3" fill="#808080"/><rect x="1064" y="452" width="1" height="3" fill="#808080"/><rect x="1137" y="392" width="1" height="3" fill="#808080"/><rect x="1137" y="398" width="1" height="3" fill="#808080"/><rect x="1137" y="404" width="1" height="3" fill="#808080"/><rect x="1137" y="410" width="1" height="3" fill="#808080"/><rect x="1137" y="416" width="1" height="3" fill="#808080"/><rect x="1137" y="422" width="1" height="3" fill="#808080"/><rect x="1137" y="428" width="1" height="3" fill="#808080"/><rect x="1137" y="434" width="1" height="3" fill="#808080"/><rect x="1137" y="440" width="1" height="3" fill="#808080"/><rect x="1137" y="446" width="1" height="3" fill="#808080"/><rect x="1137" y="452" width="1" height="3" fill="#808080"/><rect x="1210" y="392" width="1" height="3" fill="#808080"/><rect x="1210" y="398" width="1" height="3" fill="#808080"/><rect x="1210" y="404" width="1" height="3" fill="#808080"/><rect x="1210" y="410" width="1" height="3" fill="#808080"/><rect x="1210" y="416" width="1" height="3" fill="#808080"/><rect x="1210" y="422" width="1" height="3" fill="#808080"/><rect x="1210" y="428" width="1" height="3" fill="#808080"/><rect x="1210" y="434" width="1" height="3" fill="#808080"/><rect x="1210" y="440" width="1" height="3" fill="#808080"/><rect x="1210" y="446" width="1" height="3" fill="#808080"/><rect x="1210" y="452" width="1" height="3" fill="#808080"/><rect x="1283" y="392" width="1" height="3" fill="#808080"/><rect x="1283" y="398" width="1" height="3" fill="#808080"/><rect x="1283" y="404" width="1" height="3" fill="#808080"/><rect x="1283" y="410" width="1" height="3" fill="#808080"/><rect x="1283" y="416" width="1" height="3" fill="#808080"/><rect x="1283" y="422" width="1" height="3" fill="#808080"/><rect x="1283" y="428" width="1" height="3" fill="#808080"/><rect x="1283" y="434" width="1" height="3" fill="#808080"/><rect x="1283" y="440" width="1" height="3" fill="#808080"/><rect x="1283" y="446" width="1" height="3" fill="#808080"/><rect x="1283" y="452" width="1" height="3" fill="#808080"/><rect x="1356" y="392" width="1" height="3" fill="#808080"/><rect x="1356" y="398" width="1" height="3" fill="#808080"/><rect x="1356" y="404" width="1" height="3" fill="#808080"/><rect x="1356" y="410" width="1" height="3" fill="#808080"/><rect x="1356" y="416" width="1" height="3" fill="#808080"/><rect x="1356" y="422" width="1" height="3" fill="#808080"/><rect x="1356" y="428" width="1" height="3" fill="#808080"/><rect x="1356" y="434" width="1" height="3" fill="#808080"/><rect x="1356" y="440" width="1" height="3" fill="#808080"/><rect x="1356" y="446" width="1" height="3" fill="#808080"/><rect x="1356" y="452" width="1" height="3" fill="#808080"/><rect x="1131" y="392" width="1" height="3" fill="#808080"/><rect x="1131" y="398" width="1" height="3" fill="#808080"/><rect x="1131" y="404" width="1" height="3" fill="#808080"/><rect x="1131" y="410" width="1" height="3" fill="#808080"/><rect x="1131" y="416" width="1" height="3" fill="#808080"/><rect x="1131" y="422" width="1" height="3" fill="#808080"/><rect x="1131" y="428" width="1" height="3" fill="#808080"/><rect x="1131" y="434" width="1" height="3" fill="#808080"/><rect x="1131" y="440" width="1" height="3" fill="#808080"/><rect x="1131" y="446" width="1" height="3" fill="#808080"/><rect x="1131" y="452" width="1" height="3" fill="#808080"/><rect x="1356" y="392" width="1" height="3" fill="#808080"/><rect x="1356" y="398" width="1" height="3" fill="#808080"/><rect x="1356" y="404" width="1" height="3" fill="#808080"/><rect x="1356" y="410" width="1" height="3" fill="#808080"/><rect x="1356" y="416" width="1" height="3" fill="#808080"/><rect x="1356" y="422" width="1" height="3" fill="#808080"/><rect x="1356" y="428" width="1" height="3" fill="#808080"/><rect x="1356" y="434" width="1" height="3" fill="#808080"/><rect x="1356" y="440" width="1" height="3" fill="#808080"/><rect x="1356" y="446" width="1" height="3" fill="#808080"/><rect x="1356" y="452" width="1" height="3" fill="#808080"/><rect x="996" y="423" width="3" height="1" fill="#808080"/><rect x="1064" y="457" width="1" height="4" fill="#808080"/><rect x="1137" y="457" width="1" height="4" fill="#808080"/><rect x="1210" y="457" width="1" height="4" fill="#808080"/><rect x="1283" y="457" width="1" height="4" fill="#808080"/><rect x="1356" y="457" width="1" height="4" fill="#808080"/><rect x="1009" y="457" width="1" height="2" fill="#808080"/><rect x="1028" y="457" width="1" height="2" fill="#808080"/><rect x="1046" y="457" width="1" height="2" fill="#808080"/><rect x="1082" y="457" width="1" height="2" fill="#808080"/><rect x="1100" y="457" width="1" height="2" fill="#808080"/><rect x="1119" y="457" width="1" height="2" fill="#808080"/><rect x="1155" y="457" width="1" height="2" fill="#808080"/><rect x="1173" y="457" width="1" height="2" fill="#808080"/><rect x="1192" y="457" width="1" height="2" fill="#808080"/><rect x="1228" y="457" width="1" height="2" fill="#808080"/><rect x="1246" y="457" width="1" height="2" fill="#808080"/><rect x="1265" y="457" width="1" height="2" fill="#808080"/><rect x="1301" y="457" width="1" height="2" fill="#808080"/><rect x="1319" y="457" width="1" height="2" fill="#808080"/><rect x="1338" y="457" width="1" height="2" fill="#808080"/><rect x="1374" y="457" width="1" height="2" fill="#808080"/><rect x="1392" y="457" width="1" height="2" fill="#808080"/><rect x="1131" y="387" width="1" height="3" fill="#808080"/><rect x="1356" y="387" width="1" height="3" fill="#808080"/><rect x="1019" y="389" width="1" height="1" fill="#808080"/><rect x="1075" y="389" width="1" height="1" fill="#808080"/><rect x="1187" y="389" width="1" height="1" fill="#808080"/><rect x="1243" y="389" width="1" height="1" fill="#808080"/><rect x="1300" y="389" width="1" height="1" fill="#808080"/><rect x="999" y="390" width="410" height="2" fill="#000"/><rect x="999" y="455" width="410" height="2" fill="#000"/><rect x="999" y="390" width="2" height="67" fill="#000"/><rect x="1407" y="390" width="2" height="67" fill="#000"/><rect x="1131" y="390" width="1" height="1" fill="#505050"/><rect x="1356" y="390" width="1" height="1" fill="#505050"/><rect x="1019" y="390" width="1" height="1" fill="#505050"/><rect x="1075" y="390" width="1" height="1" fill="#505050"/><rect x="1187" y="390" width="1" height="1" fill="#505050"/><rect x="1243" y="390" width="1" height="1" fill="#505050"/><rect x="1300" y="390" width="1" height="1" fill="#505050"/><rect x="1120" y="487" width="196" height="24" fill="#000" opacity="0.55" filter="url(#bl)"/><rect x="1120" y="487" width="196" height="24" fill="#3c3c3c" opacity="0.85"/><rect x="1117" y="484" width="196" height="24" fill="#000"/><rect x="1118" y="485" width="194" height="22" fill="#fff"/><rect x="1121" y="489" width="12" height="12" fill="#e9e9e9"/><rect x="1121" y="489" width="11" height="1" fill="#808080"/><rect x="1121" y="489" width="1" height="11" fill="#808080"/><rect x="1122" y="490" width="9" height="1" fill="#a9a9a9"/><rect x="1122" y="490" width="1" height="9" fill="#a9a9a9"/><rect x="1123" y="491" width="9" height="9" fill="#fff"/><path d="M1124.4 494.2 L1126.6 497 L1130.6 492.2" stroke="#000" stroke-width="2" fill="none" shape-rendering="auto"/><rect x="1140" y="492" width="27" height="13" fill="#000" opacity="0.28" filter="url(#bl2)"/><rect x="1138" y="489" width="27" height="13" fill="#000"/><rect x="1139" y="490" width="25" height="11" fill="#00f"/></svg>
</div>
<span class="t h" style="left:987.30px;top:290px;font-size:20px;line-height:28px;color:#00f;letter-spacing:0.046px;">Сч. №5065772 шина №802 "СШ-2 нет дет."</span>
<span class="t h" style="left:1107.95px;top:313px;font-size:20px;line-height:28px;color:#00f;">фидер №2 "Ввод"</span>
<span class="t h" style="left:1043.20px;top:336px;font-size:20px;line-height:28px;color:#00f;letter-spacing:-0.036px;">Данные - Активная отдача ком.</span>
<span class="t a" style="left:985.56px;top:416px;font-size:12px;line-height:17px;color:#000;letter-spacing:0.330px;">0</span>
<span class="t a" style="left:1047.84px;top:464px;font-size:12px;line-height:17px;color:#000;letter-spacing:0.330px;">00:00</span>
<span class="t a" style="left:1120.84px;top:464px;font-size:12px;line-height:17px;color:#000;letter-spacing:0.330px;">06:00</span>
<span class="t a" style="left:1193.60px;top:464px;font-size:12px;line-height:17px;color:#000;letter-spacing:0.330px;">12:00</span>
<span class="t a" style="left:1266.60px;top:464px;font-size:12px;line-height:17px;color:#000;letter-spacing:0.330px;">18:00</span>
<span class="t a" style="left:1339.84px;top:464px;font-size:12px;line-height:17px;color:#000;letter-spacing:0.330px;">00:00</span>
<span class="t a" style="left:1099.58px;top:369px;font-size:12px;line-height:17px;color:#000;letter-spacing:0.330px;">16.10.2018</span>
<span class="t a" style="left:1324.58px;top:369px;font-size:12px;line-height:17px;color:#000;letter-spacing:0.330px;">17.10.2018</span>
<span class="t a" style="left:1172.00px;top:488px;font-size:13px;line-height:18px;color:#000;letter-spacing:-0.014px;">Активная отдача ком.</span>
<span class="t a" style="left:979px;top:439.28px;width:0;height:0;transform:rotate(-90deg);transform-origin:0 0;overflow:visible;"><span class="t a" style="left:0;top:-12px;font-size:12px;line-height:17px;letter-spacing:1.245px;color:#000">кВт.ч</span></span>
<div class="r chart" style="left:1424px;top:282px;width:470px;height:240px">
<svg class="r" style="left:0;top:0" width="470" height="240" viewBox="1424 282 470 240" shape-rendering="crispEdges"><rect x="1473" y="423" width="3" height="1" fill="#808080"/><rect x="1479" y="423" width="3" height="1" fill="#808080"/><rect x="1485" y="423" width="3" height="1" fill="#808080"/><rect x="1491" y="423" width="3" height="1" fill="#808080"/><rect x="1497" y="423" width="3" height="1" fill="#808080"/><rect x="1503" y="423" width="3" height="1" fill="#808080"/><rect x="1509" y="423" width="3" height="1" fill="#808080"/><rect x="1515" y="423" width="3" height="1" fill="#808080"/><rect x="1521" y="423" width="3" height="1" fill="#808080"/><rect x="1527" y="423" width="3" height="1" fill="#808080"/><rect x="1533" y="423" width="3" height="1" fill="#808080"/><rect x="1539" y="423" width="3" height="1" fill="#808080"/><rect x="1545" y="423" width="3" height="1" fill="#808080"/><rect x="1551" y="423" width="3" height="1" fill="#808080"/><rect x="1557" y="423" width="3" height="1" fill="#808080"/><rect x="1563" y="423" width="3" height="1" fill="#808080"/><rect x="1569" y="423" width="3" height="1" fill="#808080"/><rect x="1575" y="423" width="3" height="1" fill="#808080"/><rect x="1581" y="423" width="3" height="1" fill="#808080"/><rect x="1587" y="423" width="3" height="1" fill="#808080"/><rect x="1593" y="423" width="3" height="1" fill="#808080"/><rect x="1599" y="423" width="3" height="1" fill="#808080"/><rect x="1605" y="423" width="3" height="1" fill="#808080"/><rect x="1611" y="423" width="3" height="1" fill="#808080"/><rect x="1617" y="423" width="3" height="1" fill="#808080"/><rect x="1623" y="423" width="3" height="1" fill="#808080"/><rect x="1629" y="423" width="3" height="1" fill="#808080"/><rect x="1635" y="423" width="3" height="1" fill="#808080"/><rect x="1641" y="423" width="3" height="1" fill="#808080"/><rect x="1647" y="423" width="3" height="1" fill="#808080"/><rect x="1653" y="423" width="3" height="1" fill="#808080"/><rect x="1659" y="423" width="3" height="1" fill="#808080"/><rect x="1665" y="423" width="3" height="1" fill="#808080"/><rect x="1671" y="423" width="3" height="1" fill="#808080"/><rect x="1677" y="423" width="3" height="1" fill="#808080"/><rect x="1683" y="423" width="3" height="1" fill="#808080"/><rect x="1689" y="423" width="3" height="1" fill="#808080"/><rect x="1695" y="423" width="3" height="1" fill="#808080"/><rect x="1701" y="423" width="3" height="1" fill="#808080"/><rect x="1707" y="423" width="3" height="1" fill="#808080"/><rect x="1713" y="423" width="3" height="1" fill="#808080"/><rect x="1719" y="423" width="3" height="1" fill="#808080"/><rect x="1725" y="423" width="3" height="1" fill="#808080"/><rect x="1731" y="423" width="3" height="1" fill="#808080"/><rect x="1737" y="423" width="3" height="1" fill="#808080"/><rect x="1743" y="423" width="3" height="1" fill="#808080"/><rect x="1749" y="423" width="3" height="1" fill="#808080"/><rect x="1755" y="423" width="3" height="1" fill="#808080"/><rect x="1761" y="423" width="3" height="1" fill="#808080"/><rect x="1767" y="423" width="3" height="1" fill="#808080"/><rect x="1773" y="423" width="3" height="1" fill="#808080"/><rect x="1779" y="423" width="3" height="1" fill="#808080"/><rect x="1785" y="423" width="3" height="1" fill="#808080"/><rect x="1791" y="423" width="3" height="1" fill="#808080"/><rect x="1797" y="423" width="3" height="1" fill="#808080"/><rect x="1803" y="423" width="3" height="1" fill="#808080"/><rect x="1809" y="423" width="3" height="1" fill="#808080"/><rect x="1815" y="423" width="3" height="1" fill="#808080"/><rect x="1821" y="423" width="3" height="1" fill="#808080"/><rect x="1827" y="423" width="3" height="1" fill="#808080"/><rect x="1833" y="423" width="3" height="1" fill="#808080"/><rect x="1839" y="423" width="3" height="1" fill="#808080"/><rect x="1845" y="423" width="3" height="1" fill="#808080"/><rect x="1851" y="423" width="3" height="1" fill="#808080"/><rect x="1857" y="423" width="3" height="1" fill="#808080"/><rect x="1863" y="423" width="3" height="1" fill="#808080"/><rect x="1869" y="423" width="3" height="1" fill="#808080"/><rect x="1875" y="423" width="3" height="1" fill="#808080"/><rect x="1496" y="392" width="1" height="3" fill="#808080"/><rect x="1496" y="398" width="1" height="3" fill="#808080"/><rect x="1496" y="404" width="1" height="3" fill="#808080"/><rect x="1496" y="410" width="1" height="3" fill="#808080"/><rect x="1496" y="416" width="1" height="3" fill="#808080"/><rect x="1496" y="422" width="1" height="3" fill="#808080"/><rect x="1496" y="428" width="1" height="3" fill="#808080"/><rect x="1496" y="434" width="1" height="3" fill="#808080"/><rect x="1496" y="440" width="1" height="3" fill="#808080"/><rect x="1496" y="446" width="1" height="3" fill="#808080"/><rect x="1496" y="452" width="1" height="3" fill="#808080"/><rect x="1535" y="392" width="1" height="3" fill="#808080"/><rect x="1535" y="398" width="1" height="3" fill="#808080"/><rect x="1535" y="404" width="1" height="3" fill="#808080"/><rect x="1535" y="410" width="1" height="3" fill="#808080"/><rect x="1535" y="416" width="1" height="3" fill="#808080"/><rect x="1535" y="422" width="1" height="3" fill="#808080"/><rect x="1535" y="428" width="1" height="3" fill="#808080"/><rect x="1535" y="434" width="1" height="3" fill="#808080"/><rect x="1535" y="440" width="1" height="3" fill="#808080"/><rect x="1535" y="446" width="1" height="3" fill="#808080"/><rect x="1535" y="452" width="1" height="3" fill="#808080"/><rect x="1575" y="392" width="1" height="3" fill="#808080"/><rect x="1575" y="398" width="1" height="3" fill="#808080"/><rect x="1575" y="404" width="1" height="3" fill="#808080"/><rect x="1575" y="410" width="1" height="3" fill="#808080"/><rect x="1575" y="416" width="1" height="3" fill="#808080"/><rect x="1575" y="422" width="1" height="3" fill="#808080"/><rect x="1575" y="428" width="1" height="3" fill="#808080"/><rect x="1575" y="434" width="1" height="3" fill="#808080"/><rect x="1575" y="440" width="1" height="3" fill="#808080"/><rect x="1575" y="446" width="1" height="3" fill="#808080"/><rect x="1575" y="452" width="1" height="3" fill="#808080"/><rect x="1614" y="392" width="1" height="3" fill="#808080"/><rect x="1614" y="398" width="1" height="3" fill="#808080"/><rect x="1614" y="404" width="1" height="3" fill="#808080"/><rect x="1614" y="410" width="1" height="3" fill="#808080"/><rect x="1614" y="416" width="1" height="3" fill="#808080"/><rect x="1614" y="422" width="1" height="3" fill="#808080"/><rect x="1614" y="428" width="1" height="3" fill="#808080"/><rect x="1614" y="434" width="1" height="3" fill="#808080"/><rect x="1614" y="440" width="1" height="3" fill="#808080"/><rect x="1614" y="446" width="1" height="3" fill="#808080"/><rect x="1614" y="452" width="1" height="3" fill="#808080"/><rect x="1653" y="392" width="1" height="3" fill="#808080"/><rect x="1653" y="398" width="1" height="3" fill="#808080"/><rect x="1653" y="404" width="1" height="3" fill="#808080"/><rect x="1653" y="410" width="1" height="3" fill="#808080"/><rect x="1653" y="416" width="1" height="3" fill="#808080"/><rect x="1653" y="422" width="1" height="3" fill="#808080"/><rect x="1653" y="428" width="1" height="3" fill="#808080"/><rect x="1653" y="434" width="1" height="3" fill="#808080"/><rect x="1653" y="440" width="1" height="3" fill="#808080"/><rect x="1653" y="446" width="1" height="3" fill="#808080"/><rect x="1653" y="452" width="1" height="3" fill="#808080"/><rect x="1693" y="392" width="1" height="3" fill="#808080"/><rect x="1693" y="398" width="1" height="3" fill="#808080"/><rect x="1693" y="404" width="1" height="3" fill="#808080"/><rect x="1693" y="410" width="1" height="3" fill="#808080"/><rect x="1693" y="416" width="1" height="3" fill="#808080"/><rect x="1693" y="422" width="1" height="3" fill="#808080"/><rect x="1693" y="428" width="1" height="3" fill="#808080"/><rect x="1693" y="434" width="1" height="3" fill="#808080"/><rect x="1693" y="440" width="1" height="3" fill="#808080"/><rect x="1693" y="446" width="1" height="3" fill="#808080"/><rect x="1693" y="452" width="1" height="3" fill="#808080"/><rect x="1732" y="392" width="1" height="3" fill="#808080"/><rect x="1732" y="398" width="1" height="3" fill="#808080"/><rect x="1732" y="404" width="1" height="3" fill="#808080"/><rect x="1732" y="410" width="1" height="3" fill="#808080"/><rect x="1732" y="416" width="1" height="3" fill="#808080"/><rect x="1732" y="422" width="1" height="3" fill="#808080"/><rect x="1732" y="428" width="1" height="3" fill="#808080"/><rect x="1732" y="434" width="1" height="3" fill="#808080"/><rect x="1732" y="440" width="1" height="3" fill="#808080"/><rect x="1732" y="446" width="1" height="3" fill="#808080"/><rect x="1732" y="452" width="1" height="3" fill="#808080"/><rect x="1772" y="392" width="1" height="3" fill="#808080"/><rect x="1772" y="398" width="1" height="3" fill="#808080"/><rect x="1772" y="404" width="1" height="3" fill="#808080"/><rect x="1772" y="410" width="1" height="3" fill="#808080"/><rect x="1772" y="416" width="1" height="3" fill="#808080"/><rect x="1772" y="422" width="1" height="3" fill="#808080"/><rect x="1772" y="428" width="1" height="3" fill="#808080"/><rect x="1772" y="434" width="1" height="3" fill="#808080"/><rect x="1772" y="440" width="1" height="3" fill="#808080"/><rect x="1772" y="446" width="1" height="3" fill="#808080"/><rect x="1772" y="452" width="1" height="3" fill="#808080"/><rect x="1811" y="392" width="1" height="3" fill="#808080"/><rect x="1811" y="398" width="1" height="3" fill="#808080"/><rect x="1811" y="404" width="1" height="3" fill="#808080"/><rect x="1811" y="410" width="1" height="3" fill="#808080"/><rect x="1811" y="416" width="1" height="3" fill="#808080"/><rect x="1811" y="422" width="1" height="3" fill="#808080"/><rect x="1811" y="428" width="1" height="3" fill="#808080"/><rect x="1811" y="434" width="1" height="3" fill="#808080"/><rect x="1811" y="440" width="1" height="3" fill="#808080"/><rect x="1811" y="446" width="1" height="3" fill="#808080"/><rect x="1811" y="452" width="1" height="3" fill="#808080"/><rect x="1850" y="392" width="1" height="3" fill="#808080"/><rect x="1850" y="398" width="1" height="3" fill="#808080"/><rect x="1850" y="404" width="1" height="3" fill="#808080"/><rect x="1850" y="410" width="1" height="3" fill="#808080"/><rect x="1850" y="416" width="1" height="3" fill="#808080"/><rect x="1850" y="422" width="1" height="3" fill="#808080"/><rect x="1850" y="428" width="1" height="3" fill="#808080"/><rect x="1850" y="434" width="1" height="3" fill="#808080"/><rect x="1850" y="440" width="1" height="3" fill="#808080"/><rect x="1850" y="446" width="1" height="3" fill="#808080"/><rect x="1850" y="452" width="1" height="3" fill="#808080"/><rect x="1479" y="392" width="1" height="3" fill="#808080"/><rect x="1479" y="398" width="1" height="3" fill="#808080"/><rect x="1479" y="404" width="1" height="3" fill="#808080"/><rect x="1479" y="410" width="1" height="3" fill="#808080"/><rect x="1479" y="416" width="1" height="3" fill="#808080"/><rect x="1479" y="422" width="1" height="3" fill="#808080"/><rect x="1479" y="428" width="1" height="3" fill="#808080"/><rect x="1479" y="434" width="1" height="3" fill="#808080"/><rect x="1479" y="440" width="1" height="3" fill="#808080"/><rect x="1479" y="446" width="1" height="3" fill="#808080"/><rect x="1479" y="452" width="1" height="3" fill="#808080"/><rect x="1778" y="392" width="1" height="3" fill="#808080"/><rect x="1778" y="398" width="1" height="3" fill="#808080"/><rect x="1778" y="404" width="1" height="3" fill="#808080"/><rect x="1778" y="410" width="1" height="3" fill="#808080"/><rect x="1778" y="416" width="1" height="3" fill="#808080"/><rect x="1778" y="422" width="1" height="3" fill="#808080"/><rect x="1778" y="428" width="1" height="3" fill="#808080"/><rect x="1778" y="434" width="1" height="3" fill="#808080"/><rect x="1778" y="440" width="1" height="3" fill="#808080"/><rect x="1778" y="446" width="1" height="3" fill="#808080"/><rect x="1778" y="452" width="1" height="3" fill="#808080"/><rect x="1468" y="423" width="3" height="1" fill="#808080"/><rect x="1496" y="457" width="1" height="4" fill="#808080"/><rect x="1535" y="457" width="1" height="4" fill="#808080"/><rect x="1575" y="457" width="1" height="4" fill="#808080"/><rect x="1614" y="457" width="1" height="4" fill="#808080"/><rect x="1653" y="457" width="1" height="4" fill="#808080"/><rect x="1693" y="457" width="1" height="4" fill="#808080"/><rect x="1732" y="457" width="1" height="4" fill="#808080"/><rect x="1772" y="457" width="1" height="4" fill="#808080"/><rect x="1811" y="457" width="1" height="4" fill="#808080"/><rect x="1850" y="457" width="1" height="4" fill="#808080"/><rect x="1476" y="457" width="1" height="2" fill="#808080"/><rect x="1486" y="457" width="1" height="2" fill="#808080"/><rect x="1506" y="457" width="1" height="2" fill="#808080"/><rect x="1516" y="457" width="1" height="2" fill="#808080"/><rect x="1525" y="457" width="1" height="2" fill="#808080"/><rect x="1545" y="457" width="1" height="2" fill="#808080"/><rect x="1555" y="457" width="1" height="2" fill="#808080"/><rect x="1565" y="457" width="1" height="2" fill="#808080"/><rect x="1584" y="457" width="1" height="2" fill="#808080"/><rect x="1594" y="457" width="1" height="2" fill="#808080"/><rect x="1604" y="457" width="1" height="2" fill="#808080"/><rect x="1624" y="457" width="1" height="2" fill="#808080"/><rect x="1634" y="457" width="1" height="2" fill="#808080"/><rect x="1643" y="457" width="1" height="2" fill="#808080"/><rect x="1663" y="457" width="1" height="2" fill="#808080"/><rect x="1673" y="457" width="1" height="2" fill="#808080"/><rect x="1683" y="457" width="1" height="2" fill="#808080"/><rect x="1702" y="457" width="1" height="2" fill="#808080"/><rect x="1712" y="457" width="1" height="2" fill="#808080"/><rect x="1722" y="457" width="1" height="2" fill="#808080"/><rect x="1742" y="457" width="1" height="2" fill="#808080"/><rect x="1752" y="457" width="1" height="2" fill="#808080"/><rect x="1762" y="457" width="1" height="2" fill="#808080"/><rect x="1781" y="457" width="1" height="2" fill="#808080"/><rect x="1791" y="457" width="1" height="2" fill="#808080"/><rect x="1801" y="457" width="1" height="2" fill="#808080"/><rect x="1821" y="457" width="1" height="2" fill="#808080"/><rect x="1830" y="457" width="1" height="2" fill="#808080"/><rect x="1840" y="457" width="1" height="2" fill="#808080"/><rect x="1860" y="457" width="1" height="2" fill="#808080"/><rect x="1870" y="457" width="1" height="2" fill="#808080"/><rect x="1479" y="387" width="1" height="3" fill="#808080"/><rect x="1778" y="387" width="1" height="3" fill="#808080"/><rect x="1554" y="389" width="1" height="1" fill="#808080"/><rect x="1629" y="389" width="1" height="1" fill="#808080"/><rect x="1703" y="389" width="1" height="1" fill="#808080"/><rect x="1853" y="389" width="1" height="1" fill="#808080"/><rect x="1471" y="390" width="410" height="2" fill="#000"/><rect x="1471" y="455" width="410" height="2" fill="#000"/><rect x="1471" y="390" width="2" height="67" fill="#000"/><rect x="1879" y="390" width="2" height="67" fill="#000"/><rect x="1479" y="390" width="1" height="1" fill="#505050"/><rect x="1778" y="390" width="1" height="1" fill="#505050"/><rect x="1554" y="390" width="1" height="1" fill="#505050"/><rect x="1629" y="390" width="1" height="1" fill="#505050"/><rect x="1703" y="390" width="1" height="1" fill="#505050"/><rect x="1853" y="390" width="1" height="1" fill="#505050"/><rect x="1594" y="487" width="192" height="24" fill="#000" opacity="0.55" filter="url(#bl)"/><rect x="1594" y="487" width="192" height="24" fill="#3c3c3c" opacity="0.85"/><rect x="1591" y="484" width="192" height="24" fill="#000"/><rect x="1592" y="485" width="190" height="22" fill="#fff"/><rect x="1595" y="489" width="12" height="12" fill="#e9e9e9"/><rect x="1595" y="489" width="11" height="1" fill="#808080"/><rect x="1595" y="489" width="1" height="11" fill="#808080"/><rect x="1596" y="490" width="9" height="1" fill="#a9a9a9"/><rect x="1596" y="490" width="1" height="9" fill="#a9a9a9"/><rect x="1597" y="491" width="9" height="9" fill="#fff"/><path d="M1598.4 494.2 L1600.6 497 L1604.6 492.2" stroke="#000" stroke-width="2" fill="none" shape-rendering="auto"/><rect x="1614" y="492" width="26" height="13" fill="#000" opacity="0.28" filter="url(#bl2)"/><rect x="1612" y="489" width="26" height="13" fill="#000"/><rect x="1613" y="490" width="24" height="11" fill="#00f"/></svg>
</div>
<span class="t h" style="left:1459.30px;top:290px;font-size:20px;line-height:28px;color:#00f;letter-spacing:0.046px;">Сч. №5065772 шина №802 "СШ-2 нет дет."</span>
<span class="t h" style="left:1579.95px;top:313px;font-size:20px;line-height:28px;color:#00f;">фидер №2 "Ввод"</span>
<span class="t h" style="left:1517.05px;top:336px;font-size:20px;line-height:28px;color:#00f;letter-spacing:-0.018px;">Данные - Активная отдача тех.</span>
<span class="t a" style="left:1457.56px;top:416px;font-size:12px;line-height:17px;color:#000;letter-spacing:0.330px;">0</span>
<span class="t a" style="left:1479.60px;top:464px;font-size:12px;line-height:17px;color:#000;letter-spacing:0.330px;">14:00</span>
<span class="t a" style="left:1518.60px;top:464px;font-size:12px;line-height:17px;color:#000;letter-spacing:0.330px;">15:00</span>
<span class="t a" style="left:1558.60px;top:464px;font-size:12px;line-height:17px;color:#000;letter-spacing:0.330px;">16:00</span>
<span class="t a" style="left:1597.60px;top:464px;font-size:12px;line-height:17px;color:#000;letter-spacing:0.330px;">17:00</span>
<span class="t a" style="left:1636.60px;top:464px;font-size:12px;line-height:17px;color:#000;letter-spacing:0.330px;">18:00</span>
<span class="t a" style="left:1676.60px;top:464px;font-size:12px;line-height:17px;color:#000;letter-spacing:0.330px;">19:00</span>
<span class="t a" style="left:1715.75px;top:464px;font-size:12px;line-height:17px;color:#000;letter-spacing:0.330px;">20:00</span>
<span class="t a" style="left:1755.75px;top:464px;font-size:12px;line-height:17px;color:#000;letter-spacing:0.330px;">21:00</span>
<span class="t a" style="left:1794.75px;top:464px;font-size:12px;line-height:17px;color:#000;letter-spacing:0.330px;">22:00</span>
<span class="t a" style="left:1833.75px;top:464px;font-size:12px;line-height:17px;color:#000;letter-spacing:0.330px;">23:00</span>
<span class="t a" style="left:1447.58px;top:369px;font-size:12px;line-height:17px;color:#000;letter-spacing:0.330px;">16.10.2018</span>
<span class="t a" style="left:1746.58px;top:369px;font-size:12px;line-height:17px;color:#000;letter-spacing:0.330px;">16.10.2018</span>
<span class="t a" style="left:1645.00px;top:488px;font-size:13px;line-height:18px;color:#000;letter-spacing:-0.012px;">Активная отдача тех.</span>
<span class="t a" style="left:1451px;top:439.28px;width:0;height:0;transform:rotate(-90deg);transform-origin:0 0;overflow:visible;"><span class="t a" style="left:0;top:-12px;font-size:12px;line-height:17px;letter-spacing:1.245px;color:#000">кВт.ч</span></span>
<div class="r chart" style="left:9px;top:523px;width:470px;height:240px">
<svg class="r" style="left:0;top:0" width="470" height="240" viewBox="9 523 470 240" shape-rendering="crispEdges"><rect x="76" y="647" width="3" height="1" fill="#808080"/><rect x="82" y="647" width="3" height="1" fill="#808080"/><rect x="88" y="647" width="3" height="1" fill="#808080"/><rect x="94" y="647" width="3" height="1" fill="#808080"/><rect x="100" y="647" width="3" height="1" fill="#808080"/><rect x="106" y="647" width="3" height="1" fill="#808080"/><rect x="112" y="647" width="3" height="1" fill="#808080"/><rect x="118" y="647" width="3" height="1" fill="#808080"/><rect x="124" y="647" width="3" height="1" fill="#808080"/><rect x="130" y="647" width="3" height="1" fill="#808080"/><rect x="136" y="647" width="3" height="1" fill="#808080"/><rect x="142" y="647" width="3" height="1" fill="#808080"/><rect x="148" y="647" width="3" height="1" fill="#808080"/><rect x="154" y="647" width="3" height="1" fill="#808080"/><rect x="160" y="647" width="3" height="1" fill="#808080"/><rect x="166" y="647" width="3" height="1" fill="#808080"/><rect x="172" y="647" width="3" height="1" fill="#808080"/><rect x="178" y="647" width="3" height="1" fill="#808080"/><rect x="184" y="647" width="3" height="1" fill="#808080"/><rect x="190" y="647" width="3" height="1" fill="#808080"/><rect x="196" y="647" width="3" height="1" fill="#808080"/><rect x="202" y="647" width="3" height="1" fill="#808080"/><rect x="208" y="647" width="3" height="1" fill="#808080"/><rect x="214" y="647" width="3" height="1" fill="#808080"/><rect x="220" y="647" width="3" height="1" fill="#808080"/><rect x="226" y="647" width="3" height="1" fill="#808080"/><rect x="232" y="647" width="3" height="1" fill="#808080"/><rect x="238" y="647" width="3" height="1" fill="#808080"/><rect x="244" y="647" width="3" height="1" fill="#808080"/><rect x="250" y="647" width="3" height="1" fill="#808080"/><rect x="256" y="647" width="3" height="1" fill="#808080"/><rect x="262" y="647" width="3" height="1" fill="#808080"/><rect x="268" y="647" width="3" height="1" fill="#808080"/><rect x="274" y="647" width="3" height="1" fill="#808080"/><rect x="280" y="647" width="3" height="1" fill="#808080"/><rect x="286" y="647" width="3" height="1" fill="#808080"/><rect x="292" y="647" width="3" height="1" fill="#808080"/><rect x="298" y="647" width="3" height="1" fill="#808080"/><rect x="304" y="647" width="3" height="1" fill="#808080"/><rect x="310" y="647" width="3" height="1" fill="#808080"/><rect x="316" y="647" width="3" height="1" fill="#808080"/><rect x="322" y="647" width="3" height="1" fill="#808080"/><rect x="328" y="647" width="3" height="1" fill="#808080"/><rect x="334" y="647" width="3" height="1" fill="#808080"/><rect x="340" y="647" width="3" height="1" fill="#808080"/><rect x="346" y="647" width="3" height="1" fill="#808080"/><rect x="352" y="647" width="3" height="1" fill="#808080"/><rect x="358" y="647" width="3" height="1" fill="#808080"/><rect x="364" y="647" width="3" height="1" fill="#808080"/><rect x="370" y="647" width="3" height="1" fill="#808080"/><rect x="376" y="647" width="3" height="1" fill="#808080"/><rect x="382" y="647" width="3" height="1" fill="#808080"/><rect x="388" y="647" width="3" height="1" fill="#808080"/><rect x="394" y="647" width="3" height="1" fill="#808080"/><rect x="400" y="647" width="3" height="1" fill="#808080"/><rect x="406" y="647" width="3" height="1" fill="#808080"/><rect x="412" y="647" width="3" height="1" fill="#808080"/><rect x="418" y="647" width="3" height="1" fill="#808080"/><rect x="424" y="647" width="3" height="1" fill="#808080"/><rect x="430" y="647" width="3" height="1" fill="#808080"/><rect x="436" y="647" width="3" height="1" fill="#808080"/><rect x="442" y="647" width="3" height="1" fill="#808080"/><rect x="448" y="647" width="3" height="1" fill="#808080"/><rect x="454" y="647" width="3" height="1" fill="#808080"/><rect x="460" y="647" width="3" height="1" fill="#808080"/><rect x="76" y="672" width="3" height="1" fill="#808080"/><rect x="82" y="672" width="3" height="1" fill="#808080"/><rect x="88" y="672" width="3" height="1" fill="#808080"/><rect x="94" y="672" width="3" height="1" fill="#808080"/><rect x="100" y="672" width="3" height="1" fill="#808080"/><rect x="106" y="672" width="3" height="1" fill="#808080"/><rect x="112" y="672" width="3" height="1" fill="#808080"/><rect x="118" y="672" width="3" height="1" fill="#808080"/><rect x="124" y="672" width="3" height="1" fill="#808080"/><rect x="130" y="672" width="3" height="1" fill="#808080"/><rect x="136" y="672" width="3" height="1" fill="#808080"/><rect x="142" y="672" width="3" height="1" fill="#808080"/><rect x="148" y="672" width="3" height="1" fill="#808080"/><rect x="154" y="672" width="3" height="1" fill="#808080"/><rect x="160" y="672" width="3" height="1" fill="#808080"/><rect x="166" y="672" width="3" height="1" fill="#808080"/><rect x="172" y="672" width="3" height="1" fill="#808080"/><rect x="178" y="672" width="3" height="1" fill="#808080"/><rect x="184" y="672" width="3" height="1" fill="#808080"/><rect x="190" y="672" width="3" height="1" fill="#808080"/><rect x="196" y="672" width="3" height="1" fill="#808080"/><rect x="202" y="672" width="3" height="1" fill="#808080"/><rect x="208" y="672" width="3" height="1" fill="#808080"/><rect x="214" y="672" width="3" height="1" fill="#808080"/><rect x="220" y="672" width="3" height="1" fill="#808080"/><rect x="226" y="672" width="3" height="1" fill="#808080"/><rect x="232" y="672" width="3" height="1" fill="#808080"/><rect x="238" y="672" width="3" height="1" fill="#808080"/><rect x="244" y="672" width="3" height="1" fill="#808080"/><rect x="250" y="672" width="3" height="1" fill="#808080"/><rect x="256" y="672" width="3" height="1" fill="#808080"/><rect x="262" y="672" width="3" height="1" fill="#808080"/><rect x="268" y="672" width="3" height="1" fill="#808080"/><rect x="274" y="672" width="3" height="1" fill="#808080"/><rect x="280" y="672" width="3" height="1" fill="#808080"/><rect x="286" y="672" width="3" height="1" fill="#808080"/><rect x="292" y="672" width="3" height="1" fill="#808080"/><rect x="298" y="672" width="3" height="1" fill="#808080"/><rect x="304" y="672" width="3" height="1" fill="#808080"/><rect x="310" y="672" width="3" height="1" fill="#808080"/><rect x="316" y="672" width="3" height="1" fill="#808080"/><rect x="322" y="672" width="3" height="1" fill="#808080"/><rect x="328" y="672" width="3" height="1" fill="#808080"/><rect x="334" y="672" width="3" height="1" fill="#808080"/><rect x="340" y="672" width="3" height="1" fill="#808080"/><rect x="346" y="672" width="3" height="1" fill="#808080"/><rect x="352" y="672" width="3" height="1" fill="#808080"/><rect x="358" y="672" width="3" height="1" fill="#808080"/><rect x="364" y="672" width="3" height="1" fill="#808080"/><rect x="370" y="672" width="3" height="1" fill="#808080"/><rect x="376" y="672" width="3" height="1" fill="#808080"/><rect x="382" y="672" width="3" height="1" fill="#808080"/><rect x="388" y="672" width="3" height="1" fill="#808080"/><rect x="394" y="672" width="3" height="1" fill="#808080"/><rect x="400" y="672" width="3" height="1" fill="#808080"/><rect x="406" y="672" width="3" height="1" fill="#808080"/><rect x="412" y="672" width="3" height="1" fill="#808080"/><rect x="418" y="672" width="3" height="1" fill="#808080"/><rect x="424" y="672" width="3" height="1" fill="#808080"/><rect x="430" y="672" width="3" height="1" fill="#808080"/><rect x="436" y="672" width="3" height="1" fill="#808080"/><rect x="442" y="672" width="3" height="1" fill="#808080"/><rect x="448" y="672" width="3" height="1" fill="#808080"/><rect x="454" y="672" width="3" height="1" fill="#808080"/><rect x="460" y="672" width="3" height="1" fill="#808080"/><rect x="120" y="633" width="1" height="3" fill="#808080"/><rect x="120" y="639" width="1" height="3" fill="#808080"/><rect x="120" y="645" width="1" height="3" fill="#808080"/><rect x="120" y="651" width="1" height="3" fill="#808080"/><rect x="120" y="657" width="1" height="3" fill="#808080"/><rect x="120" y="663" width="1" height="3" fill="#808080"/><rect x="120" y="669" width="1" height="3" fill="#808080"/><rect x="120" y="675" width="1" height="3" fill="#808080"/><rect x="120" y="681" width="1" height="3" fill="#808080"/><rect x="120" y="687" width="1" height="3" fill="#808080"/><rect x="120" y="693" width="1" height="3" fill="#808080"/><rect x="198" y="633" width="1" height="3" fill="#808080"/><rect x="198" y="639" width="1" height="3" fill="#808080"/><rect x="198" y="645" width="1" height="3" fill="#808080"/><rect x="198" y="651" width="1" height="3" fill="#808080"/><rect x="198" y="657" width="1" height="3" fill="#808080"/><rect x="198" y="663" width="1" height="3" fill="#808080"/><rect x="198" y="669" width="1" height="3" fill="#808080"/><rect x="198" y="675" width="1" height="3" fill="#808080"/><rect x="198" y="681" width="1" height="3" fill="#808080"/><rect x="198" y="687" width="1" height="3" fill="#808080"/><rect x="198" y="693" width="1" height="3" fill="#808080"/><rect x="277" y="633" width="1" height="3" fill="#808080"/><rect x="277" y="639" width="1" height="3" fill="#808080"/><rect x="277" y="645" width="1" height="3" fill="#808080"/><rect x="277" y="651" width="1" height="3" fill="#808080"/><rect x="277" y="657" width="1" height="3" fill="#808080"/><rect x="277" y="663" width="1" height="3" fill="#808080"/><rect x="277" y="669" width="1" height="3" fill="#808080"/><rect x="277" y="675" width="1" height="3" fill="#808080"/><rect x="277" y="681" width="1" height="3" fill="#808080"/><rect x="277" y="687" width="1" height="3" fill="#808080"/><rect x="277" y="693" width="1" height="3" fill="#808080"/><rect x="355" y="633" width="1" height="3" fill="#808080"/><rect x="355" y="639" width="1" height="3" fill="#808080"/><rect x="355" y="645" width="1" height="3" fill="#808080"/><rect x="355" y="651" width="1" height="3" fill="#808080"/><rect x="355" y="657" width="1" height="3" fill="#808080"/><rect x="355" y="663" width="1" height="3" fill="#808080"/><rect x="355" y="669" width="1" height="3" fill="#808080"/><rect x="355" y="675" width="1" height="3" fill="#808080"/><rect x="355" y="681" width="1" height="3" fill="#808080"/><rect x="355" y="687" width="1" height="3" fill="#808080"/><rect x="355" y="693" width="1" height="3" fill="#808080"/><rect x="434" y="633" width="1" height="3" fill="#808080"/><rect x="434" y="639" width="1" height="3" fill="#808080"/><rect x="434" y="645" width="1" height="3" fill="#808080"/><rect x="434" y="651" width="1" height="3" fill="#808080"/><rect x="434" y="657" width="1" height="3" fill="#808080"/><rect x="434" y="663" width="1" height="3" fill="#808080"/><rect x="434" y="669" width="1" height="3" fill="#808080"/><rect x="434" y="675" width="1" height="3" fill="#808080"/><rect x="434" y="681" width="1" height="3" fill="#808080"/><rect x="434" y="687" width="1" height="3" fill="#808080"/><rect x="434" y="693" width="1" height="3" fill="#808080"/><rect x="192" y="633" width="1" height="3" fill="#808080"/><rect x="192" y="639" width="1" height="3" fill="#808080"/><rect x="192" y="645" width="1" height="3" fill="#808080"/><rect x="192" y="651" width="1" height="3" fill="#808080"/><rect x="192" y="657" width="1" height="3" fill="#808080"/><rect x="192" y="663" width="1" height="3" fill="#808080"/><rect x="192" y="669" width="1" height="3" fill="#808080"/><rect x="192" y="675" width="1" height="3" fill="#808080"/><rect x="192" y="681" width="1" height="3" fill="#808080"/><rect x="192" y="687" width="1" height="3" fill="#808080"/><rect x="192" y="693" width="1" height="3" fill="#808080"/><rect x="434" y="633" width="1" height="3" fill="#808080"/><rect x="434" y="639" width="1" height="3" fill="#808080"/><rect x="434" y="645" width="1" height="3" fill="#808080"/><rect x="434" y="651" width="1" height="3" fill="#808080"/><rect x="434" y="657" width="1" height="3" fill="#808080"/><rect x="434" y="663" width="1" height="3" fill="#808080"/><rect x="434" y="669" width="1" height="3" fill="#808080"/><rect x="434" y="675" width="1" height="3" fill="#808080"/><rect x="434" y="681" width="1" height="3" fill="#808080"/><rect x="434" y="687" width="1" height="3" fill="#808080"/><rect x="434" y="693" width="1" height="3" fill="#808080"/><rect x="94" y="641" width="39" height="55" fill="#000"/><rect x="231" y="636" width="39" height="60" fill="#000"/><rect x="297" y="633" width="39" height="63" fill="#000"/><rect x="408" y="635" width="39" height="61" fill="#000"/><rect x="95" y="642" width="37" height="54" fill="#00f"/><rect x="232" y="637" width="37" height="59" fill="#00f"/><rect x="298" y="633" width="37" height="63" fill="#00f"/><rect x="409" y="636" width="37" height="60" fill="#00f"/><rect x="71" y="647" width="3" height="1" fill="#808080"/><rect x="71" y="672" width="3" height="1" fill="#808080"/><rect x="71" y="697" width="3" height="1" fill="#808080"/><rect x="73" y="634" width="1" height="1" fill="#808080"/><rect x="73" y="641" width="1" height="1" fill="#808080"/><rect x="73" y="653" width="1" height="1" fill="#808080"/><rect x="73" y="659" width="1" height="1" fill="#808080"/><rect x="73" y="666" width="1" height="1" fill="#808080"/><rect x="73" y="678" width="1" height="1" fill="#808080"/><rect x="73" y="685" width="1" height="1" fill="#808080"/><rect x="73" y="691" width="1" height="1" fill="#808080"/><rect x="120" y="698" width="1" height="4" fill="#808080"/><rect x="198" y="698" width="1" height="4" fill="#808080"/><rect x="277" y="698" width="1" height="4" fill="#808080"/><rect x="355" y="698" width="1" height="4" fill="#808080"/><rect x="434" y="698" width="1" height="4" fill="#808080"/><rect x="80" y="698" width="1" height="2" fill="#808080"/><rect x="100" y="698" width="1" height="2" fill="#808080"/><rect x="140" y="698" width="1" height="2" fill="#808080"/><rect x="159" y="698" width="1" height="2" fill="#808080"/><rect x="178" y="698" width="1" height="2" fill="#808080"/><rect x="218" y="698" width="1" height="2" fill="#808080"/><rect x="237" y="698" width="1" height="2" fill="#808080"/><rect x="257" y="698" width="1" height="2" fill="#808080"/><rect x="297" y="698" width="1" height="2" fill="#808080"/><rect x="316" y="698" width="1" height="2" fill="#808080"/><rect x="335" y="698" width="1" height="2" fill="#808080"/><rect x="375" y="698" width="1" height="2" fill="#808080"/><rect x="395" y="698" width="1" height="2" fill="#808080"/><rect x="414" y="698" width="1" height="2" fill="#808080"/><rect x="454" y="698" width="1" height="2" fill="#808080"/><rect x="192" y="628" width="1" height="3" fill="#808080"/><rect x="434" y="628" width="1" height="3" fill="#808080"/><rect x="132" y="630" width="1" height="1" fill="#808080"/><rect x="252" y="630" width="1" height="1" fill="#808080"/><rect x="313" y="630" width="1" height="1" fill="#808080"/><rect x="373" y="630" width="1" height="1" fill="#808080"/><rect x="74" y="631" width="392" height="2" fill="#000"/><rect x="74" y="696" width="392" height="2" fill="#000"/><rect x="74" y="631" width="2" height="67" fill="#000"/><rect x="464" y="631" width="2" height="67" fill="#000"/><rect x="192" y="631" width="1" height="1" fill="#505050"/><rect x="434" y="631" width="1" height="1" fill="#505050"/><rect x="132" y="631" width="1" height="1" fill="#505050"/><rect x="252" y="631" width="1" height="1" fill="#505050"/><rect x="313" y="631" width="1" height="1" fill="#505050"/><rect x="373" y="631" width="1" height="1" fill="#505050"/><rect x="197" y="728" width="162" height="24" fill="#000" opacity="0.55" filter="url(#bl)"/><rect x="197" y="728" width="162" height="24" fill="#3c3c3c" opacity="0.85"/><rect x="194" y="725" width="162" height="24" fill="#000"/><rect x="195" y="726" width="160" height="22" fill="#fff"/><rect x="198" y="730" width="12" height="12" fill="#e9e9e9"/><rect x="198" y="730" width="11" height="1" fill="#808080"/><rect x="198" y="730" width="1" height="11" fill="#808080"/><rect x="199" y="731" width="9" height="1" fill="#a9a9a9"/><rect x="199" y="731" width="1" height="9" fill="#a9a9a9"/><rect x="200" y="732" width="9" height="9" fill="#fff"/><path d="M201.4 735.2 L203.6 738 L207.6 733.2" stroke="#000" stroke-width="2" fill="none" shape-rendering="auto"/><rect x="217" y="733" width="21" height="13" fill="#000" opacity="0.28" filter="url(#bl2)"/><rect x="215" y="730" width="21" height="13" fill="#000"/><rect x="216" y="731" width="19" height="11" fill="#00f"/></svg>
</div>
<span class="t h" style="left:44.30px;top:531px;font-size:20px;line-height:28px;color:#00f;letter-spacing:0.046px;">Сч. №5065772 шина №802 "СШ-2 нет дет."</span>
<span class="t h" style="left:164.95px;top:554px;font-size:20px;line-height:28px;color:#00f;">фидер №2 "Ввод"</span>
<span class="t h" style="left:122.60px;top:577px;font-size:20px;line-height:28px;color:#00f;">Данные - Акт. мощность A</span>
<span class="t a" style="left:42.77px;top:640px;font-size:12px;line-height:17px;color:#000;letter-spacing:0.330px;">0,04</span>
<span class="t a" style="left:43.01px;top:665px;font-size:12px;line-height:17px;color:#000;letter-spacing:0.330px;">0,02</span>
<span class="t a" style="left:60.56px;top:690px;font-size:12px;line-height:17px;color:#000;letter-spacing:0.330px;">0</span>
<span class="t a" style="left:103.84px;top:705px;font-size:12px;line-height:17px;color:#000;letter-spacing:0.330px;">00:00</span>
<span class="t a" style="left:181.84px;top:705px;font-size:12px;line-height:17px;color:#000;letter-spacing:0.330px;">06:00</span>
<span class="t a" style="left:260.60px;top:705px;font-size:12px;line-height:17px;color:#000;letter-spacing:0.330px;">12:00</span>
<span class="t a" style="left:338.60px;top:705px;font-size:12px;line-height:17px;color:#000;letter-spacing:0.330px;">18:00</span>
<span class="t a" style="left:417.84px;top:705px;font-size:12px;line-height:17px;color:#000;letter-spacing:0.330px;">00:00</span>
<span class="t a" style="left:160.58px;top:610px;font-size:12px;line-height:17px;color:#000;letter-spacing:0.330px;">16.10.2018</span>
<span class="t a" style="left:402.57px;top:610px;font-size:12px;line-height:17px;color:#000;letter-spacing:0.330px;">17.10.2018</span>
<span class="t a" style="left:243.00px;top:729px;font-size:13px;line-height:18px;color:#000;letter-spacing:0.215px;">Акт. мощность A</span>
<span class="t a" style="left:36px;top:674.78px;width:0;height:0;transform:rotate(-90deg);transform-origin:0 0;overflow:visible;"><span class="t a" style="left:0;top:-12px;font-size:12px;line-height:17px;letter-spacing:0.8px;color:#000">кВт</span></span>
<div class="r chart" style="left:480px;top:523px;width:470px;height:240px">
<svg class="r" style="left:0;top:0" width="470" height="240" viewBox="480 523 470 240" shape-rendering="crispEdges"><rect x="554" y="638" width="3" height="1" fill="#808080"/><rect x="560" y="638" width="3" height="1" fill="#808080"/><rect x="566" y="638" width="3" height="1" fill="#808080"/><rect x="572" y="638" width="3" height="1" fill="#808080"/><rect x="578" y="638" width="3" height="1" fill="#808080"/><rect x="584" y="638" width="3" height="1" fill="#808080"/><rect x="590" y="638" width="3" height="1" fill="#808080"/><rect x="596" y="638" width="3" height="1" fill="#808080"/><rect x="602" y="638" width="3" height="1" fill="#808080"/><rect x="608" y="638" width="3" height="1" fill="#808080"/><rect x="614" y="638" width="3" height="1" fill="#808080"/><rect x="620" y="638" width="3" height="1" fill="#808080"/><rect x="626" y="638" width="3" height="1" fill="#808080"/><rect x="632" y="638" width="3" height="1" fill="#808080"/><rect x="638" y="638" width="3" height="1" fill="#808080"/><rect x="644" y="638" width="3" height="1" fill="#808080"/><rect x="650" y="638" width="3" height="1" fill="#808080"/><rect x="656" y="638" width="3" height="1" fill="#808080"/><rect x="662" y="638" width="3" height="1" fill="#808080"/><rect x="668" y="638" width="3" height="1" fill="#808080"/><rect x="674" y="638" width="3" height="1" fill="#808080"/><rect x="680" y="638" width="3" height="1" fill="#808080"/><rect x="686" y="638" width="3" height="1" fill="#808080"/><rect x="692" y="638" width="3" height="1" fill="#808080"/><rect x="698" y="638" width="3" height="1" fill="#808080"/><rect x="704" y="638" width="3" height="1" fill="#808080"/><rect x="710" y="638" width="3" height="1" fill="#808080"/><rect x="716" y="638" width="3" height="1" fill="#808080"/><rect x="722" y="638" width="3" height="1" fill="#808080"/><rect x="728" y="638" width="3" height="1" fill="#808080"/><rect x="734" y="638" width="3" height="1" fill="#808080"/><rect x="740" y="638" width="3" height="1" fill="#808080"/><rect x="746" y="638" width="3" height="1" fill="#808080"/><rect x="752" y="638" width="3" height="1" fill="#808080"/><rect x="758" y="638" width="3" height="1" fill="#808080"/><rect x="764" y="638" width="3" height="1" fill="#808080"/><rect x="770" y="638" width="3" height="1" fill="#808080"/><rect x="776" y="638" width="3" height="1" fill="#808080"/><rect x="782" y="638" width="3" height="1" fill="#808080"/><rect x="788" y="638" width="3" height="1" fill="#808080"/><rect x="794" y="638" width="3" height="1" fill="#808080"/><rect x="800" y="638" width="3" height="1" fill="#808080"/><rect x="806" y="638" width="3" height="1" fill="#808080"/><rect x="812" y="638" width="3" height="1" fill="#808080"/><rect x="818" y="638" width="3" height="1" fill="#808080"/><rect x="824" y="638" width="3" height="1" fill="#808080"/><rect x="830" y="638" width="3" height="1" fill="#808080"/><rect x="836" y="638" width="3" height="1" fill="#808080"/><rect x="842" y="638" width="3" height="1" fill="#808080"/><rect x="848" y="638" width="3" height="1" fill="#808080"/><rect x="854" y="638" width="3" height="1" fill="#808080"/><rect x="860" y="638" width="3" height="1" fill="#808080"/><rect x="866" y="638" width="3" height="1" fill="#808080"/><rect x="872" y="638" width="3" height="1" fill="#808080"/><rect x="878" y="638" width="3" height="1" fill="#808080"/><rect x="884" y="638" width="3" height="1" fill="#808080"/><rect x="890" y="638" width="3" height="1" fill="#808080"/><rect x="896" y="638" width="3" height="1" fill="#808080"/><rect x="902" y="638" width="3" height="1" fill="#808080"/><rect x="908" y="638" width="3" height="1" fill="#808080"/><rect x="914" y="638" width="3" height="1" fill="#808080"/><rect x="920" y="638" width="3" height="1" fill="#808080"/><rect x="926" y="638" width="3" height="1" fill="#808080"/><rect x="932" y="638" width="3" height="1" fill="#808080"/><rect x="554" y="667" width="3" height="1" fill="#808080"/><rect x="560" y="667" width="3" height="1" fill="#808080"/><rect x="566" y="667" width="3" height="1" fill="#808080"/><rect x="572" y="667" width="3" height="1" fill="#808080"/><rect x="578" y="667" width="3" height="1" fill="#808080"/><rect x="584" y="667" width="3" height="1" fill="#808080"/><rect x="590" y="667" width="3" height="1" fill="#808080"/><rect x="596" y="667" width="3" height="1" fill="#808080"/><rect x="602" y="667" width="3" height="1" fill="#808080"/><rect x="608" y="667" width="3" height="1" fill="#808080"/><rect x="614" y="667" width="3" height="1" fill="#808080"/><rect x="620" y="667" width="3" height="1" fill="#808080"/><rect x="626" y="667" width="3" height="1" fill="#808080"/><rect x="632" y="667" width="3" height="1" fill="#808080"/><rect x="638" y="667" width="3" height="1" fill="#808080"/><rect x="644" y="667" width="3" height="1" fill="#808080"/><rect x="650" y="667" width="3" height="1" fill="#808080"/><rect x="656" y="667" width="3" height="1" fill="#808080"/><rect x="662" y="667" width="3" height="1" fill="#808080"/><rect x="668" y="667" width="3" height="1" fill="#808080"/><rect x="674" y="667" width="3" height="1" fill="#808080"/><rect x="680" y="667" width="3" height="1" fill="#808080"/><rect x="686" y="667" width="3" height="1" fill="#808080"/><rect x="692" y="667" width="3" height="1" fill="#808080"/><rect x="698" y="667" width="3" height="1" fill="#808080"/><rect x="704" y="667" width="3" height="1" fill="#808080"/><rect x="710" y="667" width="3" height="1" fill="#808080"/><rect x="716" y="667" width="3" height="1" fill="#808080"/><rect x="722" y="667" width="3" height="1" fill="#808080"/><rect x="728" y="667" width="3" height="1" fill="#808080"/><rect x="734" y="667" width="3" height="1" fill="#808080"/><rect x="740" y="667" width="3" height="1" fill="#808080"/><rect x="746" y="667" width="3" height="1" fill="#808080"/><rect x="752" y="667" width="3" height="1" fill="#808080"/><rect x="758" y="667" width="3" height="1" fill="#808080"/><rect x="764" y="667" width="3" height="1" fill="#808080"/><rect x="770" y="667" width="3" height="1" fill="#808080"/><rect x="776" y="667" width="3" height="1" fill="#808080"/><rect x="782" y="667" width="3" height="1" fill="#808080"/><rect x="788" y="667" width="3" height="1" fill="#808080"/><rect x="794" y="667" width="3" height="1" fill="#808080"/><rect x="800" y="667" width="3" height="1" fill="#808080"/><rect x="806" y="667" width="3" height="1" fill="#808080"/><rect x="812" y="667" width="3" height="1" fill="#808080"/><rect x="818" y="667" width="3" height="1" fill="#808080"/><rect x="824" y="667" width="3" height="1" fill="#808080"/><rect x="830" y="667" width="3" height="1" fill="#808080"/><rect x="836" y="667" width="3" height="1" fill="#808080"/><rect x="842" y="667" width="3" height="1" fill="#808080"/><rect x="848" y="667" width="3" height="1" fill="#808080"/><rect x="854" y="667" width="3" height="1" fill="#808080"/><rect x="860" y="667" width="3" height="1" fill="#808080"/><rect x="866" y="667" width="3" height="1" fill="#808080"/><rect x="872" y="667" width="3" height="1" fill="#808080"/><rect x="878" y="667" width="3" height="1" fill="#808080"/><rect x="884" y="667" width="3" height="1" fill="#808080"/><rect x="890" y="667" width="3" height="1" fill="#808080"/><rect x="896" y="667" width="3" height="1" fill="#808080"/><rect x="902" y="667" width="3" height="1" fill="#808080"/><rect x="908" y="667" width="3" height="1" fill="#808080"/><rect x="914" y="667" width="3" height="1" fill="#808080"/><rect x="920" y="667" width="3" height="1" fill="#808080"/><rect x="926" y="667" width="3" height="1" fill="#808080"/><rect x="932" y="667" width="3" height="1" fill="#808080"/><rect x="598" y="633" width="1" height="3" fill="#808080"/><rect x="598" y="639" width="1" height="3" fill="#808080"/><rect x="598" y="645" width="1" height="3" fill="#808080"/><rect x="598" y="651" width="1" height="3" fill="#808080"/><rect x="598" y="657" width="1" height="3" fill="#808080"/><rect x="598" y="663" width="1" height="3" fill="#808080"/><rect x="598" y="669" width="1" height="3" fill="#808080"/><rect x="598" y="675" width="1" height="3" fill="#808080"/><rect x="598" y="681" width="1" height="3" fill="#808080"/><rect x="598" y="687" width="1" height="3" fill="#808080"/><rect x="598" y="693" width="1" height="3" fill="#808080"/><rect x="674" y="633" width="1" height="3" fill="#808080"/><rect x="674" y="639" width="1" height="3" fill="#808080"/><rect x="674" y="645" width="1" height="3" fill="#808080"/><rect x="674" y="651" width="1" height="3" fill="#808080"/><rect x="674" y="657" width="1" height="3" fill="#808080"/><rect x="674" y="663" width="1" height="3" fill="#808080"/><rect x="674" y="669" width="1" height="3" fill="#808080"/><rect x="674" y="675" width="1" height="3" fill="#808080"/><rect x="674" y="681" width="1" height="3" fill="#808080"/><rect x="674" y="687" width="1" height="3" fill="#808080"/><rect x="674" y="693" width="1" height="3" fill="#808080"/><rect x="751" y="633" width="1" height="3" fill="#808080"/><rect x="751" y="639" width="1" height="3" fill="#808080"/><rect x="751" y="645" width="1" height="3" fill="#808080"/><rect x="751" y="651" width="1" height="3" fill="#808080"/><rect x="751" y="657" width="1" height="3" fill="#808080"/><rect x="751" y="663" width="1" height="3" fill="#808080"/><rect x="751" y="669" width="1" height="3" fill="#808080"/><rect x="751" y="675" width="1" height="3" fill="#808080"/><rect x="751" y="681" width="1" height="3" fill="#808080"/><rect x="751" y="687" width="1" height="3" fill="#808080"/><rect x="751" y="693" width="1" height="3" fill="#808080"/><rect x="828" y="633" width="1" height="3" fill="#808080"/><rect x="828" y="639" width="1" height="3" fill="#808080"/><rect x="828" y="645" width="1" height="3" fill="#808080"/><rect x="828" y="651" width="1" height="3" fill="#808080"/><rect x="828" y="657" width="1" height="3" fill="#808080"/><rect x="828" y="663" width="1" height="3" fill="#808080"/><rect x="828" y="669" width="1" height="3" fill="#808080"/><rect x="828" y="675" width="1" height="3" fill="#808080"/><rect x="828" y="681" width="1" height="3" fill="#808080"/><rect x="828" y="687" width="1" height="3" fill="#808080"/><rect x="828" y="693" width="1" height="3" fill="#808080"/><rect x="905" y="633" width="1" height="3" fill="#808080"/><rect x="905" y="639" width="1" height="3" fill="#808080"/><rect x="905" y="645" width="1" height="3" fill="#808080"/><rect x="905" y="651" width="1" height="3" fill="#808080"/><rect x="905" y="657" width="1" height="3" fill="#808080"/><rect x="905" y="663" width="1" height="3" fill="#808080"/><rect x="905" y="669" width="1" height="3" fill="#808080"/><rect x="905" y="675" width="1" height="3" fill="#808080"/><rect x="905" y="681" width="1" height="3" fill="#808080"/><rect x="905" y="687" width="1" height="3" fill="#808080"/><rect x="905" y="693" width="1" height="3" fill="#808080"/><rect x="668" y="633" width="1" height="3" fill="#808080"/><rect x="668" y="639" width="1" height="3" fill="#808080"/><rect x="668" y="645" width="1" height="3" fill="#808080"/><rect x="668" y="651" width="1" height="3" fill="#808080"/><rect x="668" y="657" width="1" height="3" fill="#808080"/><rect x="668" y="663" width="1" height="3" fill="#808080"/><rect x="668" y="669" width="1" height="3" fill="#808080"/><rect x="668" y="675" width="1" height="3" fill="#808080"/><rect x="668" y="681" width="1" height="3" fill="#808080"/><rect x="668" y="687" width="1" height="3" fill="#808080"/><rect x="668" y="693" width="1" height="3" fill="#808080"/><rect x="905" y="633" width="1" height="3" fill="#808080"/><rect x="905" y="639" width="1" height="3" fill="#808080"/><rect x="905" y="645" width="1" height="3" fill="#808080"/><rect x="905" y="651" width="1" height="3" fill="#808080"/><rect x="905" y="657" width="1" height="3" fill="#808080"/><rect x="905" y="663" width="1" height="3" fill="#808080"/><rect x="905" y="669" width="1" height="3" fill="#808080"/><rect x="905" y="675" width="1" height="3" fill="#808080"/><rect x="905" y="681" width="1" height="3" fill="#808080"/><rect x="905" y="687" width="1" height="3" fill="#808080"/><rect x="905" y="693" width="1" height="3" fill="#808080"/><rect x="572" y="633" width="39" height="63" fill="#000"/><rect x="706" y="633" width="39" height="63" fill="#000"/><rect x="770" y="633" width="40" height="63" fill="#000"/><rect x="879" y="633" width="39" height="63" fill="#000"/><rect x="770" y="633" width="2" height="63" fill="#000"/><rect x="573" y="633" width="37" height="63" fill="#00f"/><rect x="707" y="633" width="37" height="63" fill="#00f"/><rect x="771" y="633" width="38" height="63" fill="#00f"/><rect x="880" y="633" width="37" height="63" fill="#00f"/><rect x="771" y="633" width="0" height="63" fill="#00f"/><rect x="549" y="638" width="3" height="1" fill="#808080"/><rect x="549" y="667" width="3" height="1" fill="#808080"/><rect x="549" y="697" width="3" height="1" fill="#808080"/><rect x="551" y="645" width="1" height="1" fill="#808080"/><rect x="551" y="653" width="1" height="1" fill="#808080"/><rect x="551" y="660" width="1" height="1" fill="#808080"/><rect x="551" y="668" width="1" height="1" fill="#808080"/><rect x="551" y="675" width="1" height="1" fill="#808080"/><rect x="551" y="682" width="1" height="1" fill="#808080"/><rect x="551" y="690" width="1" height="1" fill="#808080"/><rect x="598" y="698" width="1" height="4" fill="#808080"/><rect x="674" y="698" width="1" height="4" fill="#808080"/><rect x="751" y="698" width="1" height="4" fill="#808080"/><rect x="828" y="698" width="1" height="4" fill="#808080"/><rect x="905" y="698" width="1" height="4" fill="#808080"/><rect x="560" y="698" width="1" height="2" fill="#808080"/><rect x="579" y="698" width="1" height="2" fill="#808080"/><rect x="617" y="698" width="1" height="2" fill="#808080"/><rect x="636" y="698" width="1" height="2" fill="#808080"/><rect x="655" y="698" width="1" height="2" fill="#808080"/><rect x="693" y="698" width="1" height="2" fill="#808080"/><rect x="712" y="698" width="1" height="2" fill="#808080"/><rect x="732" y="698" width="1" height="2" fill="#808080"/><rect x="770" y="698" width="1" height="2" fill="#808080"/><rect x="789" y="698" width="1" height="2" fill="#808080"/><rect x="809" y="698" width="1" height="2" fill="#808080"/><rect x="847" y="698" width="1" height="2" fill="#808080"/><rect x="866" y="698" width="1" height="2" fill="#808080"/><rect x="886" y="698" width="1" height="2" fill="#808080"/><rect x="924" y="698" width="1" height="2" fill="#808080"/><rect x="668" y="628" width="1" height="3" fill="#808080"/><rect x="905" y="628" width="1" height="3" fill="#808080"/><rect x="609" y="630" width="1" height="1" fill="#808080"/><rect x="727" y="630" width="1" height="1" fill="#808080"/><rect x="786" y="630" width="1" height="1" fill="#808080"/><rect x="846" y="630" width="1" height="1" fill="#808080"/><rect x="552" y="631" width="385" height="2" fill="#000"/><rect x="552" y="696" width="385" height="2" fill="#000"/><rect x="552" y="631" width="2" height="67" fill="#000"/><rect x="935" y="631" width="2" height="67" fill="#000"/><rect x="668" y="631" width="1" height="1" fill="#505050"/><rect x="905" y="631" width="1" height="1" fill="#505050"/><rect x="609" y="631" width="1" height="1" fill="#505050"/><rect x="727" y="631" width="1" height="1" fill="#505050"/><rect x="786" y="631" width="1" height="1" fill="#505050"/><rect x="846" y="631" width="1" height="1" fill="#505050"/><rect x="668" y="728" width="162" height="24" fill="#000" opacity="0.55" filter="url(#bl)"/><rect x="668" y="728" width="162" height="24" fill="#3c3c3c" opacity="0.85"/><rect x="665" y="725" width="162" height="24" fill="#000"/><rect x="666" y="726" width="160" height="22" fill="#fff"/><rect x="669" y="730" width="12" height="12" fill="#e9e9e9"/><rect x="669" y="730" width="11" height="1" fill="#808080"/><rect x="669" y="730" width="1" height="11" fill="#808080"/><rect x="670" y="731" width="9" height="1" fill="#a9a9a9"/><rect x="670" y="731" width="1" height="9" fill="#a9a9a9"/><rect x="671" y="732" width="9" height="9" fill="#fff"/><path d="M672.4 735.2 L674.6 738 L678.6 733.2" stroke="#000" stroke-width="2" fill="none" shape-rendering="auto"/><rect x="688" y="733" width="21" height="13" fill="#000" opacity="0.28" filter="url(#bl2)"/><rect x="686" y="730" width="21" height="13" fill="#000"/><rect x="687" y="731" width="19" height="11" fill="#00f"/></svg>
</div>
<span class="t h" style="left:515.30px;top:531px;font-size:20px;line-height:28px;color:#00f;letter-spacing:0.046px;">Сч. №5065772 шина №802 "СШ-2 нет дет."</span>
<span class="t h" style="left:635.95px;top:554px;font-size:20px;line-height:28px;color:#00f;">фидер №2 "Ввод"</span>
<span class="t h" style="left:594.10px;top:577px;font-size:20px;line-height:28px;color:#00f;">Данные - Акт. мощность B</span>
<span class="t a" style="left:521.01px;top:631px;font-size:12px;line-height:17px;color:#000;letter-spacing:0.330px;">0,01</span>
<span class="t a" style="left:513.96px;top:660px;font-size:12px;line-height:17px;color:#000;letter-spacing:0.330px;">0,005</span>
<span class="t a" style="left:538.56px;top:690px;font-size:12px;line-height:17px;color:#000;letter-spacing:0.330px;">0</span>
<span class="t a" style="left:581.84px;top:705px;font-size:12px;line-height:17px;color:#000;letter-spacing:0.330px;">00:00</span>
<span class="t a" style="left:657.84px;top:705px;font-size:12px;line-height:17px;color:#000;letter-spacing:0.330px;">06:00</span>
<span class="t a" style="left:734.60px;top:705px;font-size:12px;line-height:17px;color:#000;letter-spacing:0.330px;">12:00</span>
<span class="t a" style="left:811.60px;top:705px;font-size:12px;line-height:17px;color:#000;letter-spacing:0.330px;">18:00</span>
<span class="t a" style="left:888.84px;top:705px;font-size:12px;line-height:17px;color:#000;letter-spacing:0.330px;">00:00</span>
<span class="t a" style="left:636.57px;top:610px;font-size:12px;line-height:17px;color:#000;letter-spacing:0.330px;">16.10.2018</span>
<span class="t a" style="left:873.57px;top:610px;font-size:12px;line-height:17px;color:#000;letter-spacing:0.330px;">17.10.2018</span>
<span class="t a" style="left:714.20px;top:729px;font-size:13px;line-height:18px;color:#000;letter-spacing:0.211px;">Акт. мощность B</span>
<span class="t a" style="left:507px;top:674.78px;width:0;height:0;transform:rotate(-90deg);transform-origin:0 0;overflow:visible;"><span class="t a" style="left:0;top:-12px;font-size:12px;line-height:17px;letter-spacing:0.8px;color:#000">кВт</span></span>
<div class="r chart" style="left:952px;top:523px;width:470px;height:240px">
<svg class="r" style="left:0;top:0" width="470" height="240" viewBox="952 523 470 240" shape-rendering="crispEdges"><rect x="1001" y="664" width="3" height="1" fill="#808080"/><rect x="1007" y="664" width="3" height="1" fill="#808080"/><rect x="1013" y="664" width="3" height="1" fill="#808080"/><rect x="1019" y="664" width="3" height="1" fill="#808080"/><rect x="1025" y="664" width="3" height="1" fill="#808080"/><rect x="1031" y="664" width="3" height="1" fill="#808080"/><rect x="1037" y="664" width="3" height="1" fill="#808080"/><rect x="1043" y="664" width="3" height="1" fill="#808080"/><rect x="1049" y="664" width="3" height="1" fill="#808080"/><rect x="1055" y="664" width="3" height="1" fill="#808080"/><rect x="1061" y="664" width="3" height="1" fill="#808080"/><rect x="1067" y="664" width="3" height="1" fill="#808080"/><rect x="1073" y="664" width="3" height="1" fill="#808080"/><rect x="1079" y="664" width="3" height="1" fill="#808080"/><rect x="1085" y="664" width="3" height="1" fill="#808080"/><rect x="1091" y="664" width="3" height="1" fill="#808080"/><rect x="1097" y="664" width="3" height="1" fill="#808080"/><rect x="1103" y="664" width="3" height="1" fill="#808080"/><rect x="1109" y="664" width="3" height="1" fill="#808080"/><rect x="1115" y="664" width="3" height="1" fill="#808080"/><rect x="1121" y="664" width="3" height="1" fill="#808080"/><rect x="1127" y="664" width="3" height="1" fill="#808080"/><rect x="1133" y="664" width="3" height="1" fill="#808080"/><rect x="1139" y="664" width="3" height="1" fill="#808080"/><rect x="1145" y="664" width="3" height="1" fill="#808080"/><rect x="1151" y="664" width="3" height="1" fill="#808080"/><rect x="1157" y="664" width="3" height="1" fill="#808080"/><rect x="1163" y="664" width="3" height="1" fill="#808080"/><rect x="1169" y="664" width="3" height="1" fill="#808080"/><rect x="1175" y="664" width="3" height="1" fill="#808080"/><rect x="1181" y="664" width="3" height="1" fill="#808080"/><rect x="1187" y="664" width="3" height="1" fill="#808080"/><rect x="1193" y="664" width="3" height="1" fill="#808080"/><rect x="1199" y="664" width="3" height="1" fill="#808080"/><rect x="1205" y="664" width="3" height="1" fill="#808080"/><rect x="1211" y="664" width="3" height="1" fill="#808080"/><rect x="1217" y="664" width="3" height="1" fill="#808080"/><rect x="1223" y="664" width="3" height="1" fill="#808080"/><rect x="1229" y="664" width="3" height="1" fill="#808080"/><rect x="1235" y="664" width="3" height="1" fill="#808080"/><rect x="1241" y="664" width="3" height="1" fill="#808080"/><rect x="1247" y="664" width="3" height="1" fill="#808080"/><rect x="1253" y="664" width="3" height="1" fill="#808080"/><rect x="1259" y="664" width="3" height="1" fill="#808080"/><rect x="1265" y="664" width="3" height="1" fill="#808080"/><rect x="1271" y="664" width="3" height="1" fill="#808080"/><rect x="1277" y="664" width="3" height="1" fill="#808080"/><rect x="1283" y="664" width="3" height="1" fill="#808080"/><rect x="1289" y="664" width="3" height="1" fill="#808080"/><rect x="1295" y="664" width="3" height="1" fill="#808080"/><rect x="1301" y="664" width="3" height="1" fill="#808080"/><rect x="1307" y="664" width="3" height="1" fill="#808080"/><rect x="1313" y="664" width="3" height="1" fill="#808080"/><rect x="1319" y="664" width="3" height="1" fill="#808080"/><rect x="1325" y="664" width="3" height="1" fill="#808080"/><rect x="1331" y="664" width="3" height="1" fill="#808080"/><rect x="1337" y="664" width="3" height="1" fill="#808080"/><rect x="1343" y="664" width="3" height="1" fill="#808080"/><rect x="1349" y="664" width="3" height="1" fill="#808080"/><rect x="1355" y="664" width="3" height="1" fill="#808080"/><rect x="1361" y="664" width="3" height="1" fill="#808080"/><rect x="1367" y="664" width="3" height="1" fill="#808080"/><rect x="1373" y="664" width="3" height="1" fill="#808080"/><rect x="1379" y="664" width="3" height="1" fill="#808080"/><rect x="1385" y="664" width="3" height="1" fill="#808080"/><rect x="1391" y="664" width="3" height="1" fill="#808080"/><rect x="1397" y="664" width="3" height="1" fill="#808080"/><rect x="1403" y="664" width="3" height="1" fill="#808080"/><rect x="1049" y="633" width="1" height="3" fill="#808080"/><rect x="1049" y="639" width="1" height="3" fill="#808080"/><rect x="1049" y="645" width="1" height="3" fill="#808080"/><rect x="1049" y="651" width="1" height="3" fill="#808080"/><rect x="1049" y="657" width="1" height="3" fill="#808080"/><rect x="1049" y="663" width="1" height="3" fill="#808080"/><rect x="1049" y="669" width="1" height="3" fill="#808080"/><rect x="1049" y="675" width="1" height="3" fill="#808080"/><rect x="1049" y="681" width="1" height="3" fill="#808080"/><rect x="1049" y="687" width="1" height="3" fill="#808080"/><rect x="1049" y="693" width="1" height="3" fill="#808080"/><rect x="1130" y="633" width="1" height="3" fill="#808080"/><rect x="1130" y="639" width="1" height="3" fill="#808080"/><rect x="1130" y="645" width="1" height="3" fill="#808080"/><rect x="1130" y="651" width="1" height="3" fill="#808080"/><rect x="1130" y="657" width="1" height="3" fill="#808080"/><rect x="1130" y="663" width="1" height="3" fill="#808080"/><rect x="1130" y="669" width="1" height="3" fill="#808080"/><rect x="1130" y="675" width="1" height="3" fill="#808080"/><rect x="1130" y="681" width="1" height="3" fill="#808080"/><rect x="1130" y="687" width="1" height="3" fill="#808080"/><rect x="1130" y="693" width="1" height="3" fill="#808080"/><rect x="1211" y="633" width="1" height="3" fill="#808080"/><rect x="1211" y="639" width="1" height="3" fill="#808080"/><rect x="1211" y="645" width="1" height="3" fill="#808080"/><rect x="1211" y="651" width="1" height="3" fill="#808080"/><rect x="1211" y="657" width="1" height="3" fill="#808080"/><rect x="1211" y="663" width="1" height="3" fill="#808080"/><rect x="1211" y="669" width="1" height="3" fill="#808080"/><rect x="1211" y="675" width="1" height="3" fill="#808080"/><rect x="1211" y="681" width="1" height="3" fill="#808080"/><rect x="1211" y="687" width="1" height="3" fill="#808080"/><rect x="1211" y="693" width="1" height="3" fill="#808080"/><rect x="1292" y="633" width="1" height="3" fill="#808080"/><rect x="1292" y="639" width="1" height="3" fill="#808080"/><rect x="1292" y="645" width="1" height="3" fill="#808080"/><rect x="1292" y="651" width="1" height="3" fill="#808080"/><rect x="1292" y="657" width="1" height="3" fill="#808080"/><rect x="1292" y="663" width="1" height="3" fill="#808080"/><rect x="1292" y="669" width="1" height="3" fill="#808080"/><rect x="1292" y="675" width="1" height="3" fill="#808080"/><rect x="1292" y="681" width="1" height="3" fill="#808080"/><rect x="1292" y="687" width="1" height="3" fill="#808080"/><rect x="1292" y="693" width="1" height="3" fill="#808080"/><rect x="1373" y="633" width="1" height="3" fill="#808080"/><rect x="1373" y="639" width="1" height="3" fill="#808080"/><rect x="1373" y="645" width="1" height="3" fill="#808080"/><rect x="1373" y="651" width="1" height="3" fill="#808080"/><rect x="1373" y="657" width="1" height="3" fill="#808080"/><rect x="1373" y="663" width="1" height="3" fill="#808080"/><rect x="1373" y="669" width="1" height="3" fill="#808080"/><rect x="1373" y="675" width="1" height="3" fill="#808080"/><rect x="1373" y="681" width="1" height="3" fill="#808080"/><rect x="1373" y="687" width="1" height="3" fill="#808080"/><rect x="1373" y="693" width="1" height="3" fill="#808080"/><rect x="1124" y="633" width="1" height="3" fill="#808080"/><rect x="1124" y="639" width="1" height="3" fill="#808080"/><rect x="1124" y="645" width="1" height="3" fill="#808080"/><rect x="1124" y="651" width="1" height="3" fill="#808080"/><rect x="1124" y="657" width="1" height="3" fill="#808080"/><rect x="1124" y="663" width="1" height="3" fill="#808080"/><rect x="1124" y="669" width="1" height="3" fill="#808080"/><rect x="1124" y="675" width="1" height="3" fill="#808080"/><rect x="1124" y="681" width="1" height="3" fill="#808080"/><rect x="1124" y="687" width="1" height="3" fill="#808080"/><rect x="1124" y="693" width="1" height="3" fill="#808080"/><rect x="1373" y="633" width="1" height="3" fill="#808080"/><rect x="1373" y="639" width="1" height="3" fill="#808080"/><rect x="1373" y="645" width="1" height="3" fill="#808080"/><rect x="1373" y="651" width="1" height="3" fill="#808080"/><rect x="1373" y="657" width="1" height="3" fill="#808080"/><rect x="1373" y="663" width="1" height="3" fill="#808080"/><rect x="1373" y="669" width="1" height="3" fill="#808080"/><rect x="1373" y="675" width="1" height="3" fill="#808080"/><rect x="1373" y="681" width="1" height="3" fill="#808080"/><rect x="1373" y="687" width="1" height="3" fill="#808080"/><rect x="1373" y="693" width="1" height="3" fill="#808080"/><rect x="996" y="664" width="3" height="1" fill="#808080"/><rect x="1049" y="698" width="1" height="4" fill="#808080"/><rect x="1130" y="698" width="1" height="4" fill="#808080"/><rect x="1211" y="698" width="1" height="4" fill="#808080"/><rect x="1292" y="698" width="1" height="4" fill="#808080"/><rect x="1373" y="698" width="1" height="4" fill="#808080"/><rect x="1009" y="698" width="1" height="2" fill="#808080"/><rect x="1029" y="698" width="1" height="2" fill="#808080"/><rect x="1069" y="698" width="1" height="2" fill="#808080"/><rect x="1089" y="698" width="1" height="2" fill="#808080"/><rect x="1110" y="698" width="1" height="2" fill="#808080"/><rect x="1150" y="698" width="1" height="2" fill="#808080"/><rect x="1170" y="698" width="1" height="2" fill="#808080"/><rect x="1191" y="698" width="1" height="2" fill="#808080"/><rect x="1231" y="698" width="1" height="2" fill="#808080"/><rect x="1251" y="698" width="1" height="2" fill="#808080"/><rect x="1272" y="698" width="1" height="2" fill="#808080"/><rect x="1312" y="698" width="1" height="2" fill="#808080"/><rect x="1332" y="698" width="1" height="2" fill="#808080"/><rect x="1353" y="698" width="1" height="2" fill="#808080"/><rect x="1393" y="698" width="1" height="2" fill="#808080"/><rect x="1124" y="628" width="1" height="3" fill="#808080"/><rect x="1373" y="628" width="1" height="3" fill="#808080"/><rect x="1062" y="630" width="1" height="1" fill="#808080"/><rect x="1186" y="630" width="1" height="1" fill="#808080"/><rect x="1248" y="630" width="1" height="1" fill="#808080"/><rect x="1311" y="630" width="1" height="1" fill="#808080"/><rect x="999" y="631" width="410" height="2" fill="#000"/><rect x="999" y="696" width="410" height="2" fill="#000"/><rect x="999" y="631" width="2" height="67" fill="#000"/><rect x="1407" y="631" width="2" height="67" fill="#000"/><rect x="1124" y="631" width="1" height="1" fill="#505050"/><rect x="1373" y="631" width="1" height="1" fill="#505050"/><rect x="1062" y="631" width="1" height="1" fill="#505050"/><rect x="1186" y="631" width="1" height="1" fill="#505050"/><rect x="1248" y="631" width="1" height="1" fill="#505050"/><rect x="1311" y="631" width="1" height="1" fill="#505050"/><rect x="1140" y="728" width="162" height="24" fill="#000" opacity="0.55" filter="url(#bl)"/><rect x="1140" y="728" width="162" height="24" fill="#3c3c3c" opacity="0.85"/><rect x="1137" y="725" width="162" height="24" fill="#000"/><rect x="1138" y="726" width="160" height="22" fill="#fff"/><rect x="1141" y="730" width="12" height="12" fill="#e9e9e9"/><rect x="1141" y="730" width="11" height="1" fill="#808080"/><rect x="1141" y="730" width="1" height="11" fill="#808080"/><rect x="1142" y="731" width="9" height="1" fill="#a9a9a9"/><rect x="1142" y="731" width="1" height="9" fill="#a9a9a9"/><rect x="1143" y="732" width="9" height="9" fill="#fff"/><path d="M1144.4 735.2 L1146.6 738 L1150.6 733.2" stroke="#000" stroke-width="2" fill="none" shape-rendering="auto"/><rect x="1160" y="733" width="21" height="13" fill="#000" opacity="0.28" filter="url(#bl2)"/><rect x="1158" y="730" width="21" height="13" fill="#000"/><rect x="1159" y="731" width="19" height="11" fill="#00f"/></svg>
</div>
<span class="t h" style="left:987.30px;top:531px;font-size:20px;line-height:28px;color:#00f;letter-spacing:0.046px;">Сч. №5065772 шина №802 "СШ-2 нет дет."</span>
<span class="t h" style="left:1107.95px;top:554px;font-size:20px;line-height:28px;color:#00f;">фидер №2 "Ввод"</span>
<span class="t h" style="left:1065.40px;top:577px;font-size:20px;line-height:28px;color:#00f;">Данные - Акт. мощность C</span>
<span class="t a" style="left:985.56px;top:657px;font-size:12px;line-height:17px;color:#000;letter-spacing:0.330px;">0</span>
<span class="t a" style="left:1032.84px;top:705px;font-size:12px;line-height:17px;color:#000;letter-spacing:0.330px;">00:00</span>
<span class="t a" style="left:1113.84px;top:705px;font-size:12px;line-height:17px;color:#000;letter-spacing:0.330px;">06:00</span>
<span class="t a" style="left:1194.60px;top:705px;font-size:12px;line-height:17px;color:#000;letter-spacing:0.330px;">12:00</span>
<span class="t a" style="left:1275.60px;top:705px;font-size:12px;line-height:17px;color:#000;letter-spacing:0.330px;">18:00</span>
<span class="t a" style="left:1356.84px;top:705px;font-size:12px;line-height:17px;color:#000;letter-spacing:0.330px;">00:00</span>
<span class="t a" style="left:1092.58px;top:610px;font-size:12px;line-height:17px;color:#000;letter-spacing:0.330px;">16.10.2018</span>
<span class="t a" style="left:1341.58px;top:610px;font-size:12px;line-height:17px;color:#000;letter-spacing:0.330px;">17.10.2018</span>
<span class="t a" style="left:1186.30px;top:729px;font-size:13px;line-height:18px;color:#000;letter-spacing:0.139px;">Акт. мощность C</span>
<span class="t a" style="left:979px;top:674.78px;width:0;height:0;transform:rotate(-90deg);transform-origin:0 0;overflow:visible;"><span class="t a" style="left:0;top:-12px;font-size:12px;line-height:17px;letter-spacing:0.8px;color:#000">кВт</span></span>
<div class="r chart" style="left:1424px;top:523px;width:470px;height:240px">
<svg class="r" style="left:0;top:0" width="470" height="240" viewBox="1424 523 470 240" shape-rendering="crispEdges"><rect x="1473" y="664" width="3" height="1" fill="#808080"/><rect x="1479" y="664" width="3" height="1" fill="#808080"/><rect x="1485" y="664" width="3" height="1" fill="#808080"/><rect x="1491" y="664" width="3" height="1" fill="#808080"/><rect x="1497" y="664" width="3" height="1" fill="#808080"/><rect x="1503" y="664" width="3" height="1" fill="#808080"/><rect x="1509" y="664" width="3" height="1" fill="#808080"/><rect x="1515" y="664" width="3" height="1" fill="#808080"/><rect x="1521" y="664" width="3" height="1" fill="#808080"/><rect x="1527" y="664" width="3" height="1" fill="#808080"/><rect x="1533" y="664" width="3" height="1" fill="#808080"/><rect x="1539" y="664" width="3" height="1" fill="#808080"/><rect x="1545" y="664" width="3" height="1" fill="#808080"/><rect x="1551" y="664" width="3" height="1" fill="#808080"/><rect x="1557" y="664" width="3" height="1" fill="#808080"/><rect x="1563" y="664" width="3" height="1" fill="#808080"/><rect x="1569" y="664" width="3" height="1" fill="#808080"/><rect x="1575" y="664" width="3" height="1" fill="#808080"/><rect x="1581" y="664" width="3" height="1" fill="#808080"/><rect x="1587" y="664" width="3" height="1" fill="#808080"/><rect x="1593" y="664" width="3" height="1" fill="#808080"/><rect x="1599" y="664" width="3" height="1" fill="#808080"/><rect x="1605" y="664" width="3" height="1" fill="#808080"/><rect x="1611" y="664" width="3" height="1" fill="#808080"/><rect x="1617" y="664" width="3" height="1" fill="#808080"/><rect x="1623" y="664" width="3" height="1" fill="#808080"/><rect x="1629" y="664" width="3" height="1" fill="#808080"/><rect x="1635" y="664" width="3" height="1" fill="#808080"/><rect x="1641" y="664" width="3" height="1" fill="#808080"/><rect x="1647" y="664" width="3" height="1" fill="#808080"/><rect x="1653" y="664" width="3" height="1" fill="#808080"/><rect x="1659" y="664" width="3" height="1" fill="#808080"/><rect x="1665" y="664" width="3" height="1" fill="#808080"/><rect x="1671" y="664" width="3" height="1" fill="#808080"/><rect x="1677" y="664" width="3" height="1" fill="#808080"/><rect x="1683" y="664" width="3" height="1" fill="#808080"/><rect x="1689" y="664" width="3" height="1" fill="#808080"/><rect x="1695" y="664" width="3" height="1" fill="#808080"/><rect x="1701" y="664" width="3" height="1" fill="#808080"/><rect x="1707" y="664" width="3" height="1" fill="#808080"/><rect x="1713" y="664" width="3" height="1" fill="#808080"/><rect x="1719" y="664" width="3" height="1" fill="#808080"/><rect x="1725" y="664" width="3" height="1" fill="#808080"/><rect x="1731" y="664" width="3" height="1" fill="#808080"/><rect x="1737" y="664" width="3" height="1" fill="#808080"/><rect x="1743" y="664" width="3" height="1" fill="#808080"/><rect x="1749" y="664" width="3" height="1" fill="#808080"/><rect x="1755" y="664" width="3" height="1" fill="#808080"/><rect x="1761" y="664" width="3" height="1" fill="#808080"/><rect x="1767" y="664" width="3" height="1" fill="#808080"/><rect x="1773" y="664" width="3" height="1" fill="#808080"/><rect x="1779" y="664" width="3" height="1" fill="#808080"/><rect x="1785" y="664" width="3" height="1" fill="#808080"/><rect x="1791" y="664" width="3" height="1" fill="#808080"/><rect x="1797" y="664" width="3" height="1" fill="#808080"/><rect x="1803" y="664" width="3" height="1" fill="#808080"/><rect x="1809" y="664" width="3" height="1" fill="#808080"/><rect x="1815" y="664" width="3" height="1" fill="#808080"/><rect x="1821" y="664" width="3" height="1" fill="#808080"/><rect x="1827" y="664" width="3" height="1" fill="#808080"/><rect x="1833" y="664" width="3" height="1" fill="#808080"/><rect x="1839" y="664" width="3" height="1" fill="#808080"/><rect x="1845" y="664" width="3" height="1" fill="#808080"/><rect x="1851" y="664" width="3" height="1" fill="#808080"/><rect x="1857" y="664" width="3" height="1" fill="#808080"/><rect x="1863" y="664" width="3" height="1" fill="#808080"/><rect x="1869" y="664" width="3" height="1" fill="#808080"/><rect x="1875" y="664" width="3" height="1" fill="#808080"/><rect x="1468" y="664" width="3" height="1" fill="#808080"/><rect x="1471" y="615" width="410" height="2" fill="#000"/><rect x="1471" y="712" width="410" height="2" fill="#000"/><rect x="1471" y="615" width="2" height="99" fill="#000"/><rect x="1879" y="615" width="2" height="99" fill="#000"/><rect x="1593" y="728" width="194" height="24" fill="#000" opacity="0.55" filter="url(#bl)"/><rect x="1593" y="728" width="194" height="24" fill="#3c3c3c" opacity="0.85"/><rect x="1590" y="725" width="194" height="24" fill="#000"/><rect x="1591" y="726" width="192" height="22" fill="#fff"/><rect x="1594" y="730" width="12" height="12" fill="#e9e9e9"/><rect x="1594" y="730" width="11" height="1" fill="#808080"/><rect x="1594" y="730" width="1" height="11" fill="#808080"/><rect x="1595" y="731" width="9" height="1" fill="#a9a9a9"/><rect x="1595" y="731" width="1" height="9" fill="#a9a9a9"/><rect x="1596" y="732" width="9" height="9" fill="#fff"/><path d="M1597.4 735.2 L1599.6 738 L1603.6 733.2" stroke="#000" stroke-width="2" fill="none" shape-rendering="auto"/><rect x="1613" y="733" width="27" height="13" fill="#000" opacity="0.28" filter="url(#bl2)"/><rect x="1611" y="730" width="27" height="13" fill="#000"/><rect x="1612" y="731" width="25" height="11" fill="#00f"/></svg>
</div>
<span class="t h" style="left:1459.70px;top:531px;font-size:20px;line-height:28px;color:#00f;letter-spacing:0.024px;">Сч. №5065770 шина №801 "СШ-1 нет дет."</span>
<span class="t h" style="left:1570.60px;top:554px;font-size:20px;line-height:28px;color:#00f;">фидер №1 "Ввод 1"</span>
<span class="t h" style="left:1518.70px;top:577px;font-size:20px;line-height:28px;color:#00f;letter-spacing:-0.244px;">Данные - Активный прием ком.</span>
<span class="t a" style="left:1457.56px;top:657px;font-size:12px;line-height:17px;color:#000;letter-spacing:0.330px;">0</span>
<span class="t a" style="left:1645.00px;top:729px;font-size:13px;line-height:18px;color:#000;letter-spacing:-0.066px;">Активный прием ком.</span>
<span class="t a" style="left:1451px;top:680.28px;width:0;height:0;transform:rotate(-90deg);transform-origin:0 0;overflow:visible;"><span class="t a" style="left:0;top:-12px;font-size:12px;line-height:17px;letter-spacing:1.245px;color:#000">кВт.ч</span></span>
<div class="r chart" style="left:9px;top:765px;width:470px;height:240px">
<svg class="r" style="left:0;top:0" width="470" height="240" viewBox="9 765 470 240" shape-rendering="crispEdges"><rect x="58" y="906" width="3" height="1" fill="#808080"/><rect x="64" y="906" width="3" height="1" fill="#808080"/><rect x="70" y="906" width="3" height="1" fill="#808080"/><rect x="76" y="906" width="3" height="1" fill="#808080"/><rect x="82" y="906" width="3" height="1" fill="#808080"/><rect x="88" y="906" width="3" height="1" fill="#808080"/><rect x="94" y="906" width="3" height="1" fill="#808080"/><rect x="100" y="906" width="3" height="1" fill="#808080"/><rect x="106" y="906" width="3" height="1" fill="#808080"/><rect x="112" y="906" width="3" height="1" fill="#808080"/><rect x="118" y="906" width="3" height="1" fill="#808080"/><rect x="124" y="906" width="3" height="1" fill="#808080"/><rect x="130" y="906" width="3" height="1" fill="#808080"/><rect x="136" y="906" width="3" height="1" fill="#808080"/><rect x="142" y="906" width="3" height="1" fill="#808080"/><rect x="148" y="906" width="3" height="1" fill="#808080"/><rect x="154" y="906" width="3" height="1" fill="#808080"/><rect x="160" y="906" width="3" height="1" fill="#808080"/><rect x="166" y="906" width="3" height="1" fill="#808080"/><rect x="172" y="906" width="3" height="1" fill="#808080"/><rect x="178" y="906" width="3" height="1" fill="#808080"/><rect x="184" y="906" width="3" height="1" fill="#808080"/><rect x="190" y="906" width="3" height="1" fill="#808080"/><rect x="196" y="906" width="3" height="1" fill="#808080"/><rect x="202" y="906" width="3" height="1" fill="#808080"/><rect x="208" y="906" width="3" height="1" fill="#808080"/><rect x="214" y="906" width="3" height="1" fill="#808080"/><rect x="220" y="906" width="3" height="1" fill="#808080"/><rect x="226" y="906" width="3" height="1" fill="#808080"/><rect x="232" y="906" width="3" height="1" fill="#808080"/><rect x="238" y="906" width="3" height="1" fill="#808080"/><rect x="244" y="906" width="3" height="1" fill="#808080"/><rect x="250" y="906" width="3" height="1" fill="#808080"/><rect x="256" y="906" width="3" height="1" fill="#808080"/><rect x="262" y="906" width="3" height="1" fill="#808080"/><rect x="268" y="906" width="3" height="1" fill="#808080"/><rect x="274" y="906" width="3" height="1" fill="#808080"/><rect x="280" y="906" width="3" height="1" fill="#808080"/><rect x="286" y="906" width="3" height="1" fill="#808080"/><rect x="292" y="906" width="3" height="1" fill="#808080"/><rect x="298" y="906" width="3" height="1" fill="#808080"/><rect x="304" y="906" width="3" height="1" fill="#808080"/><rect x="310" y="906" width="3" height="1" fill="#808080"/><rect x="316" y="906" width="3" height="1" fill="#808080"/><rect x="322" y="906" width="3" height="1" fill="#808080"/><rect x="328" y="906" width="3" height="1" fill="#808080"/><rect x="334" y="906" width="3" height="1" fill="#808080"/><rect x="340" y="906" width="3" height="1" fill="#808080"/><rect x="346" y="906" width="3" height="1" fill="#808080"/><rect x="352" y="906" width="3" height="1" fill="#808080"/><rect x="358" y="906" width="3" height="1" fill="#808080"/><rect x="364" y="906" width="3" height="1" fill="#808080"/><rect x="370" y="906" width="3" height="1" fill="#808080"/><rect x="376" y="906" width="3" height="1" fill="#808080"/><rect x="382" y="906" width="3" height="1" fill="#808080"/><rect x="388" y="906" width="3" height="1" fill="#808080"/><rect x="394" y="906" width="3" height="1" fill="#808080"/><rect x="400" y="906" width="3" height="1" fill="#808080"/><rect x="406" y="906" width="3" height="1" fill="#808080"/><rect x="412" y="906" width="3" height="1" fill="#808080"/><rect x="418" y="906" width="3" height="1" fill="#808080"/><rect x="424" y="906" width="3" height="1" fill="#808080"/><rect x="430" y="906" width="3" height="1" fill="#808080"/><rect x="436" y="906" width="3" height="1" fill="#808080"/><rect x="442" y="906" width="3" height="1" fill="#808080"/><rect x="448" y="906" width="3" height="1" fill="#808080"/><rect x="454" y="906" width="3" height="1" fill="#808080"/><rect x="460" y="906" width="3" height="1" fill="#808080"/><rect x="53" y="906" width="3" height="1" fill="#808080"/><rect x="56" y="857" width="410" height="2" fill="#000"/><rect x="56" y="954" width="410" height="2" fill="#000"/><rect x="56" y="857" width="2" height="99" fill="#000"/><rect x="464" y="857" width="2" height="99" fill="#000"/><rect x="177" y="970" width="196" height="24" fill="#000" opacity="0.55" filter="url(#bl)"/><rect x="177" y="970" width="196" height="24" fill="#3c3c3c" opacity="0.85"/><rect x="174" y="967" width="196" height="24" fill="#000"/><rect x="175" y="968" width="194" height="22" fill="#fff"/><rect x="178" y="972" width="12" height="12" fill="#e9e9e9"/><rect x="178" y="972" width="11" height="1" fill="#808080"/><rect x="178" y="972" width="1" height="11" fill="#808080"/><rect x="179" y="973" width="9" height="1" fill="#a9a9a9"/><rect x="179" y="973" width="1" height="9" fill="#a9a9a9"/><rect x="180" y="974" width="9" height="9" fill="#fff"/><path d="M181.4 977.2 L183.6 980 L187.6 975.2" stroke="#000" stroke-width="2" fill="none" shape-rendering="auto"/><rect x="197" y="975" width="27" height="13" fill="#000" opacity="0.28" filter="url(#bl2)"/><rect x="195" y="972" width="27" height="13" fill="#000"/><rect x="196" y="973" width="25" height="11" fill="#00f"/></svg>
</div>
<span class="t h" style="left:44.70px;top:773px;font-size:20px;line-height:28px;color:#00f;letter-spacing:0.024px;">Сч. №5065770 шина №801 "СШ-1 нет дет."</span>
<span class="t h" style="left:155.60px;top:796px;font-size:20px;line-height:28px;color:#00f;">фидер №1 "Ввод 1"</span>
<span class="t h" style="left:100.20px;top:819px;font-size:20px;line-height:28px;color:#00f;letter-spacing:-0.036px;">Данные - Активная отдача ком.</span>
<span class="t a" style="left:42.56px;top:899px;font-size:12px;line-height:17px;color:#000;letter-spacing:0.330px;">0</span>
<span class="t a" style="left:229.00px;top:971px;font-size:13px;line-height:18px;color:#000;letter-spacing:-0.030px;">Активная отдача ком.</span>
<span class="t a" style="left:36px;top:922.28px;width:0;height:0;transform:rotate(-90deg);transform-origin:0 0;overflow:visible;"><span class="t a" style="left:0;top:-12px;font-size:12px;line-height:17px;letter-spacing:1.245px;color:#000">кВт.ч</span></span>
<div class="r chart" style="left:480px;top:765px;width:470px;height:240px">
<svg class="r" style="left:0;top:0" width="470" height="240" viewBox="480 765 470 240" shape-rendering="crispEdges"><rect x="529" y="906" width="3" height="1" fill="#808080"/><rect x="535" y="906" width="3" height="1" fill="#808080"/><rect x="541" y="906" width="3" height="1" fill="#808080"/><rect x="547" y="906" width="3" height="1" fill="#808080"/><rect x="553" y="906" width="3" height="1" fill="#808080"/><rect x="559" y="906" width="3" height="1" fill="#808080"/><rect x="565" y="906" width="3" height="1" fill="#808080"/><rect x="571" y="906" width="3" height="1" fill="#808080"/><rect x="577" y="906" width="3" height="1" fill="#808080"/><rect x="583" y="906" width="3" height="1" fill="#808080"/><rect x="589" y="906" width="3" height="1" fill="#808080"/><rect x="595" y="906" width="3" height="1" fill="#808080"/><rect x="601" y="906" width="3" height="1" fill="#808080"/><rect x="607" y="906" width="3" height="1" fill="#808080"/><rect x="613" y="906" width="3" height="1" fill="#808080"/><rect x="619" y="906" width="3" height="1" fill="#808080"/><rect x="625" y="906" width="3" height="1" fill="#808080"/><rect x="631" y="906" width="3" height="1" fill="#808080"/><rect x="637" y="906" width="3" height="1" fill="#808080"/><rect x="643" y="906" width="3" height="1" fill="#808080"/><rect x="649" y="906" width="3" height="1" fill="#808080"/><rect x="655" y="906" width="3" height="1" fill="#808080"/><rect x="661" y="906" width="3" height="1" fill="#808080"/><rect x="667" y="906" width="3" height="1" fill="#808080"/><rect x="673" y="906" width="3" height="1" fill="#808080"/><rect x="679" y="906" width="3" height="1" fill="#808080"/><rect x="685" y="906" width="3" height="1" fill="#808080"/><rect x="691" y="906" width="3" height="1" fill="#808080"/><rect x="697" y="906" width="3" height="1" fill="#808080"/><rect x="703" y="906" width="3" height="1" fill="#808080"/><rect x="709" y="906" width="3" height="1" fill="#808080"/><rect x="715" y="906" width="3" height="1" fill="#808080"/><rect x="721" y="906" width="3" height="1" fill="#808080"/><rect x="727" y="906" width="3" height="1" fill="#808080"/><rect x="733" y="906" width="3" height="1" fill="#808080"/><rect x="739" y="906" width="3" height="1" fill="#808080"/><rect x="745" y="906" width="3" height="1" fill="#808080"/><rect x="751" y="906" width="3" height="1" fill="#808080"/><rect x="757" y="906" width="3" height="1" fill="#808080"/><rect x="763" y="906" width="3" height="1" fill="#808080"/><rect x="769" y="906" width="3" height="1" fill="#808080"/><rect x="775" y="906" width="3" height="1" fill="#808080"/><rect x="781" y="906" width="3" height="1" fill="#808080"/><rect x="787" y="906" width="3" height="1" fill="#808080"/><rect x="793" y="906" width="3" height="1" fill="#808080"/><rect x="799" y="906" width="3" height="1" fill="#808080"/><rect x="805" y="906" width="3" height="1" fill="#808080"/><rect x="811" y="906" width="3" height="1" fill="#808080"/><rect x="817" y="906" width="3" height="1" fill="#808080"/><rect x="823" y="906" width="3" height="1" fill="#808080"/><rect x="829" y="906" width="3" height="1" fill="#808080"/><rect x="835" y="906" width="3" height="1" fill="#808080"/><rect x="841" y="906" width="3" height="1" fill="#808080"/><rect x="847" y="906" width="3" height="1" fill="#808080"/><rect x="853" y="906" width="3" height="1" fill="#808080"/><rect x="859" y="906" width="3" height="1" fill="#808080"/><rect x="865" y="906" width="3" height="1" fill="#808080"/><rect x="871" y="906" width="3" height="1" fill="#808080"/><rect x="877" y="906" width="3" height="1" fill="#808080"/><rect x="883" y="906" width="3" height="1" fill="#808080"/><rect x="889" y="906" width="3" height="1" fill="#808080"/><rect x="895" y="906" width="3" height="1" fill="#808080"/><rect x="901" y="906" width="3" height="1" fill="#808080"/><rect x="907" y="906" width="3" height="1" fill="#808080"/><rect x="913" y="906" width="3" height="1" fill="#808080"/><rect x="919" y="906" width="3" height="1" fill="#808080"/><rect x="925" y="906" width="3" height="1" fill="#808080"/><rect x="931" y="906" width="3" height="1" fill="#808080"/><rect x="524" y="906" width="3" height="1" fill="#808080"/><rect x="527" y="857" width="410" height="2" fill="#000"/><rect x="527" y="954" width="410" height="2" fill="#000"/><rect x="527" y="857" width="2" height="99" fill="#000"/><rect x="935" y="857" width="2" height="99" fill="#000"/><rect x="668" y="970" width="162" height="24" fill="#000" opacity="0.55" filter="url(#bl)"/><rect x="668" y="970" width="162" height="24" fill="#3c3c3c" opacity="0.85"/><rect x="665" y="967" width="162" height="24" fill="#000"/><rect x="666" y="968" width="160" height="22" fill="#fff"/><rect x="669" y="972" width="12" height="12" fill="#e9e9e9"/><rect x="669" y="972" width="11" height="1" fill="#808080"/><rect x="669" y="972" width="1" height="11" fill="#808080"/><rect x="670" y="973" width="9" height="1" fill="#a9a9a9"/><rect x="670" y="973" width="1" height="9" fill="#a9a9a9"/><rect x="671" y="974" width="9" height="9" fill="#fff"/><path d="M672.4 977.2 L674.6 980 L678.6 975.2" stroke="#000" stroke-width="2" fill="none" shape-rendering="auto"/><rect x="688" y="975" width="21" height="13" fill="#000" opacity="0.28" filter="url(#bl2)"/><rect x="686" y="972" width="21" height="13" fill="#000"/><rect x="687" y="973" width="19" height="11" fill="#00f"/></svg>
</div>
<span class="t h" style="left:515.70px;top:773px;font-size:20px;line-height:28px;color:#00f;letter-spacing:0.024px;">Сч. №5065770 шина №801 "СШ-1 нет дет."</span>
<span class="t h" style="left:626.60px;top:796px;font-size:20px;line-height:28px;color:#00f;">фидер №1 "Ввод 1"</span>
<span class="t h" style="left:593.60px;top:819px;font-size:20px;line-height:28px;color:#00f;">Данные - Акт. мощность A</span>
<span class="t a" style="left:513.56px;top:899px;font-size:12px;line-height:17px;color:#000;letter-spacing:0.330px;">0</span>
<span class="t a" style="left:714.20px;top:971px;font-size:13px;line-height:18px;color:#000;letter-spacing:0.200px;">Акт. мощность A</span>
<span class="t a" style="left:507px;top:916.78px;width:0;height:0;transform:rotate(-90deg);transform-origin:0 0;overflow:visible;"><span class="t a" style="left:0;top:-12px;font-size:12px;line-height:17px;letter-spacing:0.8px;color:#000">кВт</span></span>
<div class="r chart" style="left:952px;top:765px;width:470px;height:240px">
<svg class="r" style="left:0;top:0" width="470" height="240" viewBox="952 765 470 240" shape-rendering="crispEdges"><rect x="1001" y="906" width="3" height="1" fill="#808080"/><rect x="1007" y="906" width="3" height="1" fill="#808080"/><rect x="1013" y="906" width="3" height="1" fill="#808080"/><rect x="1019" y="906" width="3" height="1" fill="#808080"/><rect x="1025" y="906" width="3" height="1" fill="#808080"/><rect x="1031" y="906" width="3" height="1" fill="#808080"/><rect x="1037" y="906" width="3" height="1" fill="#808080"/><rect x="1043" y="906" width="3" height="1" fill="#808080"/><rect x="1049" y="906" width="3" height="1" fill="#808080"/><rect x="1055" y="906" width="3" height="1" fill="#808080"/><rect x="1061" y="906" width="3" height="1" fill="#808080"/><rect x="1067" y="906" width="3" height="1" fill="#808080"/><rect x="1073" y="906" width="3" height="1" fill="#808080"/><rect x="1079" y="906" width="3" height="1" fill="#808080"/><rect x="1085" y="906" width="3" height="1" fill="#808080"/><rect x="1091" y="906" width="3" height="1" fill="#808080"/><rect x="1097" y="906" width="3" height="1" fill="#808080"/><rect x="1103" y="906" width="3" height="1" fill="#808080"/><rect x="1109" y="906" width="3" height="1" fill="#808080"/><rect x="1115" y="906" width="3" height="1" fill="#808080"/><rect x="1121" y="906" width="3" height="1" fill="#808080"/><rect x="1127" y="906" width="3" height="1" fill="#808080"/><rect x="1133" y="906" width="3" height="1" fill="#808080"/><rect x="1139" y="906" width="3" height="1" fill="#808080"/><rect x="1145" y="906" width="3" height="1" fill="#808080"/><rect x="1151" y="906" width="3" height="1" fill="#808080"/><rect x="1157" y="906" width="3" height="1" fill="#808080"/><rect x="1163" y="906" width="3" height="1" fill="#808080"/><rect x="1169" y="906" width="3" height="1" fill="#808080"/><rect x="1175" y="906" width="3" height="1" fill="#808080"/><rect x="1181" y="906" width="3" height="1" fill="#808080"/><rect x="1187" y="906" width="3" height="1" fill="#808080"/><rect x="1193" y="906" width="3" height="1" fill="#808080"/><rect x="1199" y="906" width="3" height="1" fill="#808080"/><rect x="1205" y="906" width="3" height="1" fill="#808080"/><rect x="1211" y="906" width="3" height="1" fill="#808080"/><rect x="1217" y="906" width="3" height="1" fill="#808080"/><rect x="1223" y="906" width="3" height="1" fill="#808080"/><rect x="1229" y="906" width="3" height="1" fill="#808080"/><rect x="1235" y="906" width="3" height="1" fill="#808080"/><rect x="1241" y="906" width="3" height="1" fill="#808080"/><rect x="1247" y="906" width="3" height="1" fill="#808080"/><rect x="1253" y="906" width="3" height="1" fill="#808080"/><rect x="1259" y="906" width="3" height="1" fill="#808080"/><rect x="1265" y="906" width="3" height="1" fill="#808080"/><rect x="1271" y="906" width="3" height="1" fill="#808080"/><rect x="1277" y="906" width="3" height="1" fill="#808080"/><rect x="1283" y="906" width="3" height="1" fill="#808080"/><rect x="1289" y="906" width="3" height="1" fill="#808080"/><rect x="1295" y="906" width="3" height="1" fill="#808080"/><rect x="1301" y="906" width="3" height="1" fill="#808080"/><rect x="1307" y="906" width="3" height="1" fill="#808080"/><rect x="1313" y="906" width="3" height="1" fill="#808080"/><rect x="1319" y="906" width="3" height="1" fill="#808080"/><rect x="1325" y="906" width="3" height="1" fill="#808080"/><rect x="1331" y="906" width="3" height="1" fill="#808080"/><rect x="1337" y="906" width="3" height="1" fill="#808080"/><rect x="1343" y="906" width="3" height="1" fill="#808080"/><rect x="1349" y="906" width="3" height="1" fill="#808080"/><rect x="1355" y="906" width="3" height="1" fill="#808080"/><rect x="1361" y="906" width="3" height="1" fill="#808080"/><rect x="1367" y="906" width="3" height="1" fill="#808080"/><rect x="1373" y="906" width="3" height="1" fill="#808080"/><rect x="1379" y="906" width="3" height="1" fill="#808080"/><rect x="1385" y="906" width="3" height="1" fill="#808080"/><rect x="1391" y="906" width="3" height="1" fill="#808080"/><rect x="1397" y="906" width="3" height="1" fill="#808080"/><rect x="1403" y="906" width="3" height="1" fill="#808080"/><rect x="996" y="906" width="3" height="1" fill="#808080"/><rect x="999" y="857" width="410" height="2" fill="#000"/><rect x="999" y="954" width="410" height="2" fill="#000"/><rect x="999" y="857" width="2" height="99" fill="#000"/><rect x="1407" y="857" width="2" height="99" fill="#000"/><rect x="1140" y="970" width="162" height="24" fill="#000" opacity="0.55" filter="url(#bl)"/><rect x="1140" y="970" width="162" height="24" fill="#3c3c3c" opacity="0.85"/><rect x="1137" y="967" width="162" height="24" fill="#000"/><rect x="1138" y="968" width="160" height="22" fill="#fff"/><rect x="1141" y="972" width="12" height="12" fill="#e9e9e9"/><rect x="1141" y="972" width="11" height="1" fill="#808080"/><rect x="1141" y="972" width="1" height="11" fill="#808080"/><rect x="1142" y="973" width="9" height="1" fill="#a9a9a9"/><rect x="1142" y="973" width="1" height="9" fill="#a9a9a9"/><rect x="1143" y="974" width="9" height="9" fill="#fff"/><path d="M1144.4 977.2 L1146.6 980 L1150.6 975.2" stroke="#000" stroke-width="2" fill="none" shape-rendering="auto"/><rect x="1160" y="975" width="21" height="13" fill="#000" opacity="0.28" filter="url(#bl2)"/><rect x="1158" y="972" width="21" height="13" fill="#000"/><rect x="1159" y="973" width="19" height="11" fill="#00f"/></svg>
</div>
<span class="t h" style="left:987.70px;top:773px;font-size:20px;line-height:28px;color:#00f;letter-spacing:0.024px;">Сч. №5065770 шина №801 "СШ-1 нет дет."</span>
<span class="t h" style="left:1098.60px;top:796px;font-size:20px;line-height:28px;color:#00f;">фидер №1 "Ввод 1"</span>
<span class="t h" style="left:1066.10px;top:819px;font-size:20px;line-height:28px;color:#00f;">Данные - Акт. мощность B</span>
<span class="t a" style="left:985.56px;top:899px;font-size:12px;line-height:17px;color:#000;letter-spacing:0.330px;">0</span>
<span class="t a" style="left:1186.30px;top:971px;font-size:13px;line-height:18px;color:#000;letter-spacing:0.204px;">Акт. мощность B</span>
<span class="t a" style="left:979px;top:916.78px;width:0;height:0;transform:rotate(-90deg);transform-origin:0 0;overflow:visible;"><span class="t a" style="left:0;top:-12px;font-size:12px;line-height:17px;letter-spacing:0.8px;color:#000">кВт</span></span>
<div class="r chart" style="left:1424px;top:765px;width:470px;height:240px">
<svg class="r" style="left:0;top:0" width="470" height="240" viewBox="1424 765 470 240" shape-rendering="crispEdges"><rect x="1473" y="906" width="3" height="1" fill="#808080"/><rect x="1479" y="906" width="3" height="1" fill="#808080"/><rect x="1485" y="906" width="3" height="1" fill="#808080"/><rect x="1491" y="906" width="3" height="1" fill="#808080"/><rect x="1497" y="906" width="3" height="1" fill="#808080"/><rect x="1503" y="906" width="3" height="1" fill="#808080"/><rect x="1509" y="906" width="3" height="1" fill="#808080"/><rect x="1515" y="906" width="3" height="1" fill="#808080"/><rect x="1521" y="906" width="3" height="1" fill="#808080"/><rect x="1527" y="906" width="3" height="1" fill="#808080"/><rect x="1533" y="906" width="3" height="1" fill="#808080"/><rect x="1539" y="906" width="3" height="1" fill="#808080"/><rect x="1545" y="906" width="3" height="1" fill="#808080"/><rect x="1551" y="906" width="3" height="1" fill="#808080"/><rect x="1557" y="906" width="3" height="1" fill="#808080"/><rect x="1563" y="906" width="3" height="1" fill="#808080"/><rect x="1569" y="906" width="3" height="1" fill="#808080"/><rect x="1575" y="906" width="3" height="1" fill="#808080"/><rect x="1581" y="906" width="3" height="1" fill="#808080"/><rect x="1587" y="906" width="3" height="1" fill="#808080"/><rect x="1593" y="906" width="3" height="1" fill="#808080"/><rect x="1599" y="906" width="3" height="1" fill="#808080"/><rect x="1605" y="906" width="3" height="1" fill="#808080"/><rect x="1611" y="906" width="3" height="1" fill="#808080"/><rect x="1617" y="906" width="3" height="1" fill="#808080"/><rect x="1623" y="906" width="3" height="1" fill="#808080"/><rect x="1629" y="906" width="3" height="1" fill="#808080"/><rect x="1635" y="906" width="3" height="1" fill="#808080"/><rect x="1641" y="906" width="3" height="1" fill="#808080"/><rect x="1647" y="906" width="3" height="1" fill="#808080"/><rect x="1653" y="906" width="3" height="1" fill="#808080"/><rect x="1659" y="906" width="3" height="1" fill="#808080"/><rect x="1665" y="906" width="3" height="1" fill="#808080"/><rect x="1671" y="906" width="3" height="1" fill="#808080"/><rect x="1677" y="906" width="3" height="1" fill="#808080"/><rect x="1683" y="906" width="3" height="1" fill="#808080"/><rect x="1689" y="906" width="3" height="1" fill="#808080"/><rect x="1695" y="906" width="3" height="1" fill="#808080"/><rect x="1701" y="906" width="3" height="1" fill="#808080"/><rect x="1707" y="906" width="3" height="1" fill="#808080"/><rect x="1713" y="906" width="3" height="1" fill="#808080"/><rect x="1719" y="906" width="3" height="1" fill="#808080"/><rect x="1725" y="906" width="3" height="1" fill="#808080"/><rect x="1731" y="906" width="3" height="1" fill="#808080"/><rect x="1737" y="906" width="3" height="1" fill="#808080"/><rect x="1743" y="906" width="3" height="1" fill="#808080"/><rect x="1749" y="906" width="3" height="1" fill="#808080"/><rect x="1755" y="906" width="3" height="1" fill="#808080"/><rect x="1761" y="906" width="3" height="1" fill="#808080"/><rect x="1767" y="906" width="3" height="1" fill="#808080"/><rect x="1773" y="906" width="3" height="1" fill="#808080"/><rect x="1779" y="906" width="3" height="1" fill="#808080"/><rect x="1785" y="906" width="3" height="1" fill="#808080"/><rect x="1791" y="906" width="3" height="1" fill="#808080"/><rect x="1797" y="906" width="3" height="1" fill="#808080"/><rect x="1803" y="906" width="3" height="1" fill="#808080"/><rect x="1809" y="906" width="3" height="1" fill="#808080"/><rect x="1815" y="906" width="3" height="1" fill="#808080"/><rect x="1821" y="906" width="3" height="1" fill="#808080"/><rect x="1827" y="906" width="3" height="1" fill="#808080"/><rect x="1833" y="906" width="3" height="1" fill="#808080"/><rect x="1839" y="906" width="3" height="1" fill="#808080"/><rect x="1845" y="906" width="3" height="1" fill="#808080"/><rect x="1851" y="906" width="3" height="1" fill="#808080"/><rect x="1857" y="906" width="3" height="1" fill="#808080"/><rect x="1863" y="906" width="3" height="1" fill="#808080"/><rect x="1869" y="906" width="3" height="1" fill="#808080"/><rect x="1875" y="906" width="3" height="1" fill="#808080"/><rect x="1468" y="906" width="3" height="1" fill="#808080"/><rect x="1471" y="857" width="410" height="2" fill="#000"/><rect x="1471" y="954" width="410" height="2" fill="#000"/><rect x="1471" y="857" width="2" height="99" fill="#000"/><rect x="1879" y="857" width="2" height="99" fill="#000"/><rect x="1612" y="970" width="162" height="24" fill="#000" opacity="0.55" filter="url(#bl)"/><rect x="1612" y="970" width="162" height="24" fill="#3c3c3c" opacity="0.85"/><rect x="1609" y="967" width="162" height="24" fill="#000"/><rect x="1610" y="968" width="160" height="22" fill="#fff"/><rect x="1613" y="972" width="12" height="12" fill="#e9e9e9"/><rect x="1613" y="972" width="11" height="1" fill="#808080"/><rect x="1613" y="972" width="1" height="11" fill="#808080"/><rect x="1614" y="973" width="9" height="1" fill="#a9a9a9"/><rect x="1614" y="973" width="1" height="9" fill="#a9a9a9"/><rect x="1615" y="974" width="9" height="9" fill="#fff"/><path d="M1616.4 977.2 L1618.6 980 L1622.6 975.2" stroke="#000" stroke-width="2" fill="none" shape-rendering="auto"/><rect x="1632" y="975" width="21" height="13" fill="#000" opacity="0.28" filter="url(#bl2)"/><rect x="1630" y="972" width="21" height="13" fill="#000"/><rect x="1631" y="973" width="19" height="11" fill="#00f"/></svg>
</div>
<span class="t h" style="left:1459.70px;top:773px;font-size:20px;line-height:28px;color:#00f;letter-spacing:0.024px;">Сч. №5065770 шина №801 "СШ-1 нет дет."</span>
<span class="t h" style="left:1570.60px;top:796px;font-size:20px;line-height:28px;color:#00f;">фидер №1 "Ввод 1"</span>
<span class="t h" style="left:1537.40px;top:819px;font-size:20px;line-height:28px;color:#00f;">Данные - Акт. мощность C</span>
<span class="t a" style="left:1457.56px;top:899px;font-size:12px;line-height:17px;color:#000;letter-spacing:0.330px;">0</span>
<span class="t a" style="left:1658.00px;top:971px;font-size:13px;line-height:18px;color:#000;letter-spacing:0.160px;">Акт. мощность C</span>
<span class="t a" style="left:1451px;top:916.78px;width:0;height:0;transform:rotate(-90deg);transform-origin:0 0;overflow:visible;"><span class="t a" style="left:0;top:-12px;font-size:12px;line-height:17px;letter-spacing:0.8px;color:#000">кВт</span></span>
</body></html>
